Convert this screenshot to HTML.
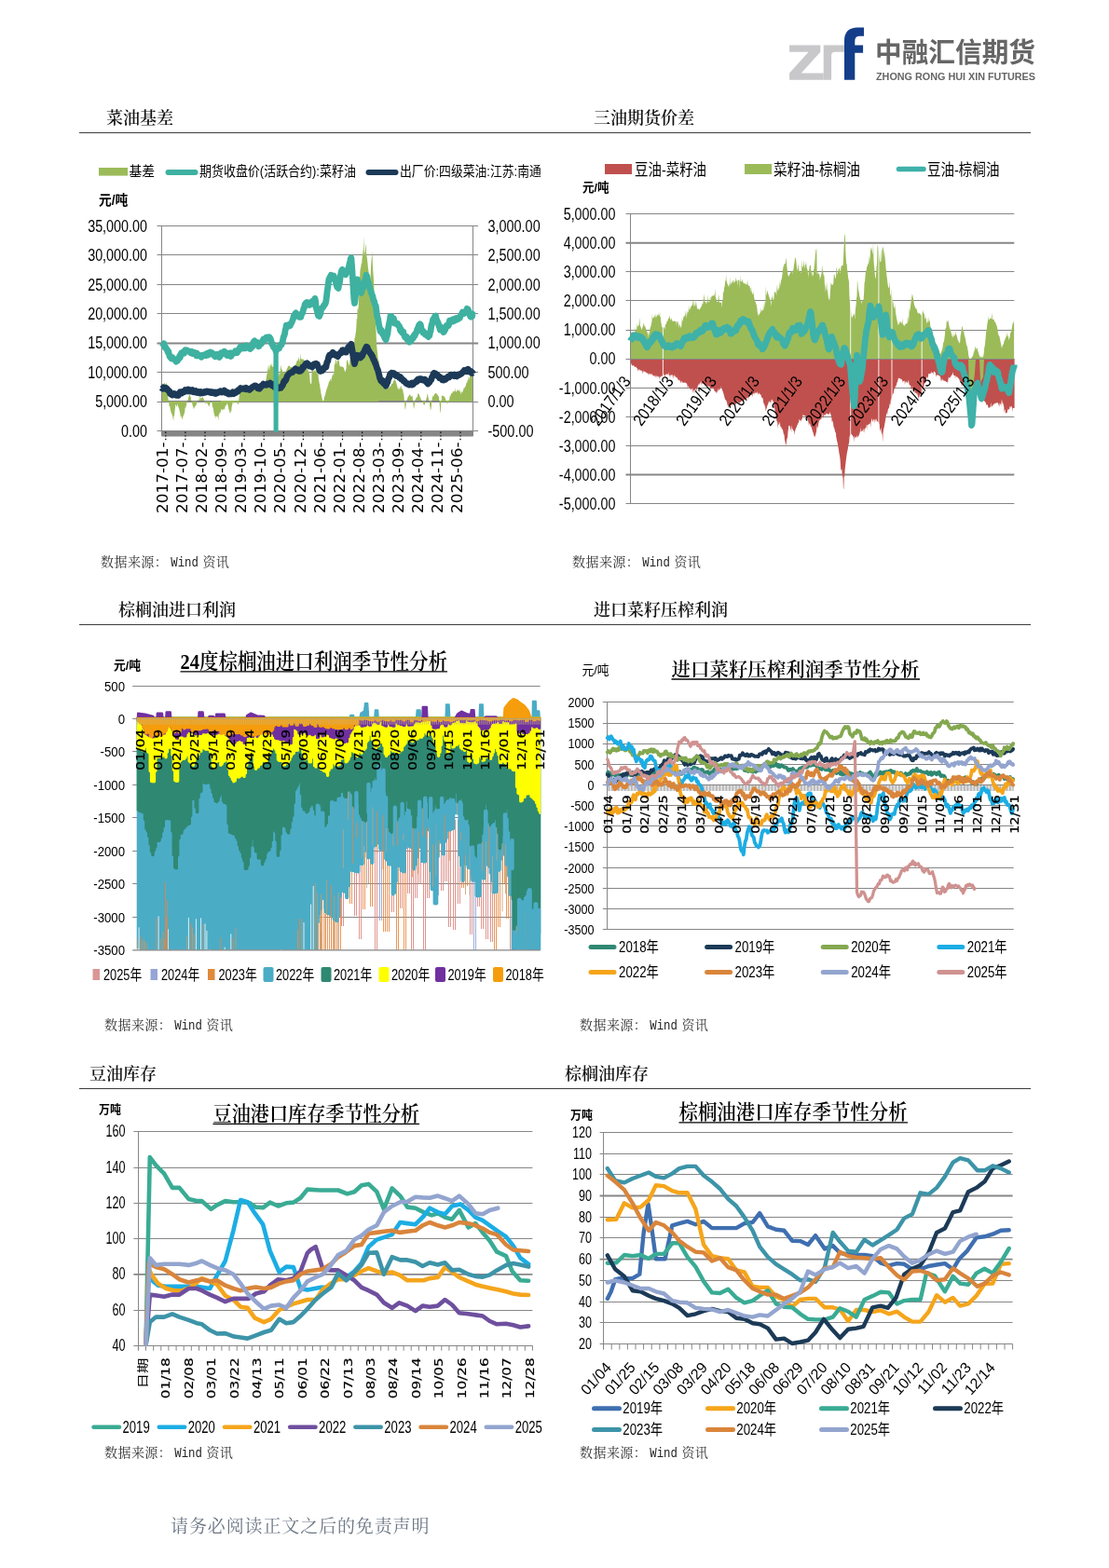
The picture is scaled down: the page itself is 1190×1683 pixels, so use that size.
<!DOCTYPE html>
<html lang="zh-CN"><head><meta charset="utf-8"><title>油脂图表</title>
<style>
html,body{margin:0;padding:0;background:#fff}
#page{position:relative;width:1190px;height:1683px;overflow:hidden;background:#fff;font-family:"Liberation Serif","Noto Serif CJK SC",serif;color:#000}
#charts{position:absolute;left:0;top:0}
.s{font-family:"Liberation Sans","Noto Sans CJK SC",sans-serif}
.f{font-family:"Liberation Serif","Noto Serif CJK SC",serif}
.d{font-family:"DejaVu Sans","Liberation Sans","Noto Sans CJK SC",sans-serif}
.sec{position:absolute;font-size:18px;line-height:22px;white-space:nowrap;font-weight:600;color:#111}
.rule{position:absolute;height:1.2px;background:#3c3c3c}
.src{position:absolute;font-size:14.05px;line-height:18px;white-space:nowrap;color:#333;letter-spacing:0.4px}
.src .w{font-family:"Liberation Mono",monospace;font-size:12.4px;letter-spacing:0;color:#222;display:inline-block;transform:scale(1,1.12);transform-origin:50% 80%;margin-left:3px;margin-right:0.5px}
.foot{position:absolute;left:183px;top:1625.5px;font-size:19px;line-height:26px;color:#6b7684;letter-spacing:0.88px;white-space:nowrap}
.logo{position:absolute;left:0;top:0}
</style></head><body>
<div id="page">
<svg class="logo" width="1190" height="100" viewBox="0 0 1190 100">
<path d="M847.1 48.4 H880.3 V55.8 L859.8 78.6 H883.7 V85.8 H847.1 V78.6 L867.6 55.8 H847.1 Z" fill="#c8c8ca"/>
<path d="M883.7 48.4 H906.4 V55.8 H896 Q892.1 55.8 892.1 60 V85.8 H883.7 Z" fill="#c8c8ca"/>
<path d="M906 85.8 V44 Q906 29.6 920.5 29.6 H927 V38.7 H922.5 Q917.3 38.7 917.3 44 V48.4 H926.1 V56.8 H917.3 V85.8 Z" fill="#153e8a"/>
<text class="s" x="939" y="67" font-size="29" font-weight="bold" fill="#666" textLength="172" lengthAdjust="spacingAndGlyphs">中融汇信期货</text>
<text class="s" x="940" y="86" font-size="11.5" font-weight="bold" fill="#666" textLength="171" lengthAdjust="spacingAndGlyphs">ZHONG RONG HUI XIN FUTURES</text>
</svg>
<div class="sec" style="left:114px;top:116px">菜油基差</div>
<div class="sec" style="left:637px;top:116px">三油期货价差</div>
<div class="sec" style="left:127px;top:644px">棕榈油进口利润</div>
<div class="sec" style="left:637px;top:644px">进口菜籽压榨利润</div>
<div class="sec" style="left:96px;top:1142px">豆油库存</div>
<div class="sec" style="left:606px;top:1142px">棕榈油库存</div>
<div class="rule" style="left:85px;top:141.5px;width:1021px"></div>
<div class="rule" style="left:85px;top:669.5px;width:1021px"></div>
<div class="rule" style="left:85px;top:1167.5px;width:1021px"></div>
<div class="src" style="left:108px;top:594px">数据来源：<span class="w">Wind</span> 资讯</div>
<div class="src" style="left:614px;top:594px">数据来源：<span class="w">Wind</span> 资讯</div>
<div class="src" style="left:112px;top:1091px">数据来源：<span class="w">Wind</span> 资讯</div>
<div class="src" style="left:622px;top:1091px">数据来源：<span class="w">Wind</span> 资讯</div>
<div class="src" style="left:112px;top:1550px">数据来源：<span class="w">Wind</span> 资讯</div>
<div class="src" style="left:622px;top:1550px">数据来源：<span class="w">Wind</span> 资讯</div>
<div class="foot">请务必阅读正文之后的免责声明</div>
<svg id="charts" width="1190" height="1683" viewBox="0 0 1190 1683">
<g><path d="M168.5 242.5 H513.1" stroke="#868686" stroke-width="1" fill="none"/>
<path d="M168.5 273.5 H513.1" stroke="#868686" stroke-width="1" fill="none"/>
<path d="M168.5 305.5 H513.1" stroke="#868686" stroke-width="1" fill="none"/>
<path d="M168.5 336.5 H513.1" stroke="#868686" stroke-width="1" fill="none"/>
<path d="M168.5 368.5 H513.1" stroke="#868686" stroke-width="1.8" fill="none"/>
<path d="M168.5 399.5 H513.1" stroke="#868686" stroke-width="1" fill="none"/>
<path d="M168.5 431.5 H513.1" stroke="#868686" stroke-width="1" fill="none"/>
<path d="M168.5 462.5 H513.1" stroke="#868686" stroke-width="1" fill="none"/>
<path d="M173.5 430.8 L173.5 416.6 L174 416.4 L174.4 415.1 L174.9 413.5 L175.3 412.9 L175.8 411.4 L176.2 411.4 L176.7 410.8 L177.1 412.3 L177.6 412.5 L178 412.2 L178.5 410.6 L178.9 412.8 L179.4 413.2 L179.8 417.9 L180.3 426.5 L180.7 429 L181.2 432.3 L181.6 436.4 L182.1 435.6 L182.5 437.4 L183 440.3 L183.4 441.8 L183.9 443.7 L184.3 443.8 L184.8 445.7 L185.2 446.8 L185.7 449.5 L186.1 452.2 L186.6 445.6 L187 446.9 L187.5 441 L187.9 438.6 L188.4 433.7 L188.8 434.6 L189.3 436.3 L189.7 436.5 L190.2 435 L190.6 432.9 L191.1 436.3 L191.5 437.1 L192 438.3 L192.4 439.7 L192.9 442.1 L193.3 443.4 L193.8 448.5 L194.2 445.8 L194.7 447.7 L195.1 448.2 L195.6 450.3 L196 449.9 L196.5 446.3 L196.9 446.4 L197.4 444.6 L197.8 444.1 L198.3 441.8 L198.7 437 L199.2 438.4 L199.6 436.4 L200.1 434.2 L200.5 431.9 L201 431.2 L201.4 429.7 L201.9 428.3 L202.3 425.9 L202.8 425.3 L203.2 423.1 L203.7 423.5 L204.1 425 L204.6 426.1 L205 428.6 L205.5 430.6 L205.9 432.5 L206.4 433.5 L206.8 435.7 L207.3 436.8 L207.7 438.9 L208.2 438.5 L208.6 437.6 L209.1 435.9 L209.5 436.3 L210 435.6 L210.4 434.9 L210.9 433.7 L211.3 432.1 L211.8 430.8 L212.2 428.9 L212.7 430.1 L213.1 430.2 L213.6 428.8 L214 424.3 L214.5 427.5 L214.9 429.6 L215.4 426.7 L215.8 427 L216.3 427.2 L216.7 426.8 L217.2 426 L217.6 426.2 L218.1 427.7 L218.5 428.2 L219 428.5 L219.4 431.8 L219.9 431.4 L220.3 434.2 L220.8 431.7 L221.2 430.7 L221.7 433.7 L222.1 432.5 L222.6 433 L223 434.1 L223.5 434.8 L223.9 435.6 L224.4 436.8 L224.8 434.9 L225.3 433.8 L225.7 431.9 L226.2 431.1 L226.6 430.6 L227.1 431.6 L227.5 432.6 L228 436.4 L228.4 437.4 L228.9 439.1 L229.3 441.9 L229.8 444.1 L230.2 447.4 L230.7 445.1 L231.1 449.9 L231.6 446.5 L232 446.5 L232.5 446.4 L232.9 447.6 L233.4 447.1 L233.8 447.9 L234.3 451.7 L234.7 445.9 L235.2 441.7 L235.6 445.4 L236.1 443.4 L236.5 442.8 L237 441.6 L237.4 438.5 L237.9 439.6 L238.3 439.9 L238.8 440.2 L239.2 439.3 L239.7 439.7 L240.1 438.6 L240.6 439.2 L241 440 L241.5 437.3 L241.9 435.6 L242.4 435.2 L242.8 435.1 L243.3 434.2 L243.7 432.6 L244.2 433.6 L244.6 435.2 L245.1 437 L245.5 439.4 L246 440.5 L246.4 442.6 L246.9 443.5 L247.3 443.6 L247.8 440.6 L248.2 442.1 L248.7 436.1 L249.1 435 L249.6 432.3 L250 431.9 L250.5 432.9 L250.9 431.3 L251.4 431.5 L251.8 433.2 L252.3 431.1 L252.7 432.6 L253.2 429.9 L253.6 430.8 L254.1 431.8 L254.5 432.6 L255 434 L255.4 433.7 L255.9 433.7 L256.3 428.2 L256.8 424.6 L257.2 419.5 L257.7 414.1 L258.1 416.1 L258.6 414.8 L259 416 L259.5 416.3 L259.9 416.5 L260.4 417.5 L260.8 415.3 L261.3 411.8 L261.7 413.9 L262.2 415.9 L262.6 413.3 L263.1 414.8 L263.5 416.2 L264 417.1 L264.4 416.9 L264.9 417.2 L265.3 421.6 L265.8 418.4 L266.2 418.5 L266.7 418.6 L267.1 418.2 L267.6 418 L268 416.8 L268.5 416.1 L268.9 417.1 L269.4 416.3 L269.8 418.8 L270.3 416.4 L270.7 416 L271.2 416.1 L271.6 416.3 L272.1 415.1 L272.5 416.8 L273 413.7 L273.4 418.3 L273.9 415.4 L274.3 416.5 L274.8 417.1 L275.2 414.7 L275.7 412.4 L276.1 416.1 L276.6 415.6 L277 411.4 L277.5 416.2 L277.9 416.6 L278.4 416.2 L278.8 419.1 L279.3 415.4 L279.7 411.8 L280.2 415.4 L280.6 410.8 L281.1 412 L281.5 415.8 L282 418 L282.4 416.5 L282.9 415.6 L283.3 415.7 L283.8 414.4 L284.2 414.2 L284.7 410.4 L285.1 409.7 L285.6 406.5 L286 403.8 L286.5 401.3 L286.9 400.4 L287.4 391.5 L287.8 396.6 L288.3 398 L288.7 392.8 L289.2 391.3 L289.6 397 L290.1 392.2 L290.5 390.7 L291 392.8 L291.4 393 L291.9 389.1 L292.3 394 L292.8 393.8 L293.2 393.2 L293.7 393.7 L294.1 386.8 L294.6 392.9 L295 392.2 L295.5 392.9 L295.9 394.8 L296.4 400.2 L296.8 399.7 L297.3 401.1 L297.7 402 L298.2 400.6 L298.6 404.7 L299.1 403.2 L299.5 397.5 L300 403 L300.4 399.3 L300.9 397.4 L301.3 391.3 L301.8 394.7 L302.2 396.4 L302.7 396.8 L303.1 398.8 L303.6 399 L304 399.2 L304.5 399.9 L304.9 400.8 L305.4 400 L305.8 400 L306.3 399.6 L306.7 397.8 L307.2 397.7 L307.6 396.5 L308.1 395.6 L308.5 394.8 L309 392.9 L309.4 392.6 L309.9 393.3 L310.3 392.5 L310.8 392.3 L311.2 393.8 L311.7 393.9 L312.1 394.3 L312.6 393.9 L313 394.4 L313.5 394.5 L313.9 394.9 L314.4 394.7 L314.8 395.1 L315.3 394.9 L315.7 394.5 L316.2 393.5 L316.6 392.7 L317.1 391.5 L317.5 390.1 L318 390.5 L318.4 386.5 L318.9 387.9 L319.3 386.9 L319.8 386.7 L320.2 382.8 L320.7 385.8 L321.1 384.3 L321.6 389.2 L322 386 L322.5 379.2 L322.9 384.9 L323.4 385.7 L323.8 385.1 L324.3 385.8 L324.7 385.5 L325.2 385.3 L325.6 385.9 L326.1 385.8 L326.5 393.7 L327 388 L327.4 388.9 L327.9 390.4 L328.3 390.8 L328.8 397.1 L329.2 393 L329.7 397.8 L330.1 395.8 L330.6 396.5 L331 399 L331.5 399.8 L331.9 400.3 L332.4 405.3 L332.8 410.2 L333.3 411.9 L333.7 411.9 L334.2 411.4 L334.6 394 L335.1 389.7 L335.5 396.5 L336 397.3 L336.4 398.9 L336.9 397.2 L337.3 398 L337.8 397.7 L338.2 396.8 L338.7 400.4 L339.1 390.9 L339.6 395.7 L340 399.1 L340.5 401.4 L340.9 401.1 L341.4 399.2 L341.8 406 L342.3 409 L342.7 411.4 L343.2 413.3 L343.6 416.9 L344.1 419 L344.5 422.5 L345 424.4 L345.4 426.4 L345.9 428.8 L346.3 431.8 L346.8 431.5 L347.2 430.5 L347.7 428.3 L348.1 425.8 L348.6 425 L349 423.9 L349.5 421.3 L349.9 420.1 L350.4 418 L350.8 416.8 L351.3 416.1 L351.7 413.8 L352.2 413.2 L352.6 411.2 L353.1 409.2 L353.5 409.6 L354 408.9 L354.4 407.3 L354.9 406.7 L355.3 405.5 L355.8 410 L356.2 404.2 L356.7 402.8 L357.1 401.8 L357.6 400.8 L358 403.9 L358.5 397.5 L358.9 389.1 L359.4 392.1 L359.8 389.4 L360.3 385 L360.7 386.5 L361.2 388 L361.6 391.4 L362.1 387.3 L362.5 386.8 L363 383.4 L363.4 387.7 L363.9 386.9 L364.3 391.6 L364.8 393.4 L365.2 393.5 L365.7 393.1 L366.1 393.6 L366.6 393.4 L367 393.6 L367.5 393.6 L367.9 393.9 L368.4 394.2 L368.8 394.8 L369.3 396.6 L369.7 397.5 L370.2 399.4 L370.6 398.9 L371.1 396.2 L371.5 396.4 L372 387.1 L372.4 387.1 L372.9 386 L373.3 389 L373.8 389.3 L374.2 391.4 L374.7 392.8 L375.1 389.8 L375.6 385.2 L376 381.5 L376.5 376.8 L376.9 372.5 L377.4 371.3 L377.8 371.6 L378.3 371.5 L378.7 370.4 L379.2 369.7 L379.6 372.8 L380.1 368.2 L380.5 363.1 L381 362.7 L381.4 359 L381.9 356 L382.3 351.6 L382.8 341.6 L383.2 343.1 L383.7 328.9 L384.1 333.5 L384.6 330.1 L385 320.4 L385.5 311.9 L385.9 303.9 L386.4 290.8 L386.8 288.6 L387.3 286.2 L387.7 283.1 L388.2 282.8 L388.6 277.4 L389.1 273.5 L389.5 269.7 L390 267 L390.4 253.4 L390.9 274.7 L391.3 271.8 L391.8 269.6 L392.2 264.5 L392.7 261.4 L393.1 271.6 L393.6 275.3 L394 278.3 L394.5 282.6 L394.9 286.8 L395.4 290.7 L395.8 295.1 L396.3 298.8 L396.7 301.9 L397.2 305.5 L397.6 297.5 L398.1 285.7 L398.5 279.6 L399 274.2 L399.4 269.6 L399.9 285.2 L400.3 291.1 L400.8 297.8 L401.2 304.7 L401.7 315.2 L402.1 325.7 L402.6 337.2 L403 348.4 L403.5 354.1 L403.9 365.6 L404.4 373.3 L404.8 376.8 L405.3 381.2 L405.7 385.6 L406.2 388 L406.6 385.5 L407.1 394.2 L407.5 396.8 L408 398 L408.4 399.7 L408.9 401.2 L409.3 404 L409.8 398.5 L410.2 406.6 L410.7 409 L411.1 407.4 L411.6 409.3 L412 409.6 L412.5 409.1 L412.9 410.4 L413.4 412.5 L413.8 413.2 L414.3 413.6 L414.7 414.6 L415.2 414.1 L415.6 414.7 L416.1 414.1 L416.5 416.6 L417 416.9 L417.4 416.3 L417.9 415.7 L418.3 415.1 L418.8 415.1 L419.2 414.6 L419.7 413.4 L420.1 412.3 L420.6 411.8 L421 411.9 L421.5 411.5 L421.9 409.5 L422.4 409.1 L422.8 407.5 L423.3 407.8 L423.7 407 L424.2 408.3 L424.6 409.1 L425.1 410.4 L425.5 412 L426 413.5 L426.4 414.9 L426.9 417.7 L427.3 417.6 L427.8 416.3 L428.2 416.4 L428.7 419.3 L429.1 413.9 L429.6 416.2 L430 418.2 L430.5 414.3 L430.9 414.6 L431.4 417.4 L431.8 417.8 L432.3 418.6 L432.7 421.8 L433.2 422.8 L433.6 427 L434.1 432.5 L434.5 438.1 L435 440.2 L435.4 436.6 L435.9 432.3 L436.3 429 L436.8 430 L437.2 426.9 L437.7 426.5 L438.1 425.3 L438.6 425.3 L439 424.2 L439.5 423.4 L439.9 423.3 L440.4 424.4 L440.8 425 L441.3 425.8 L441.7 425.6 L442.2 425.2 L442.6 424.2 L443.1 431 L443.5 434.6 L444 439 L444.4 437.8 L444.9 434.1 L445.3 429.9 L445.8 428.5 L446.2 428.2 L446.7 426.4 L447.1 425.8 L447.6 427.1 L448 425 L448.5 422.1 L448.9 422.5 L449.4 422.7 L449.8 423.4 L450.3 425.4 L450.7 425.8 L451.2 427.2 L451.6 428.4 L452.1 429.1 L452.5 429.5 L453 432.1 L453.4 431.8 L453.9 432.5 L454.3 433.5 L454.8 434.6 L455.2 434.3 L455.7 435 L456.1 432.7 L456.6 432.2 L457 429.7 L457.5 428.1 L457.9 426.5 L458.4 423.3 L458.8 422.5 L459.3 425.3 L459.7 427 L460.2 429.7 L460.6 429.9 L461.1 434.3 L461.5 437.5 L462 440.5 L462.4 439.6 L462.9 436.1 L463.3 430.8 L463.8 427 L464.2 425.9 L464.7 423.9 L465.1 426.1 L465.6 424.5 L466 423.3 L466.5 422.6 L466.9 422.7 L467.4 421.7 L467.8 421.9 L468.3 423.1 L468.7 422.6 L469.2 423.6 L469.6 423.7 L470.1 424.9 L470.5 425.1 L471 426.3 L471.4 431 L471.9 436.4 L472.3 441.7 L472.8 443.5 L473.2 433.5 L473.7 429.4 L474.1 424.6 L474.6 424.4 L475 425.1 L475.5 424.6 L475.9 425.2 L476.4 425.5 L476.8 425.5 L477.3 426.2 L477.7 427.2 L478.2 428.9 L478.6 429.8 L479.1 430 L479.5 431.2 L480 434.2 L480.4 432.6 L480.9 432.4 L481.3 430.9 L481.8 428.9 L482.2 429.1 L482.7 424.5 L483.1 425.9 L483.6 423.9 L484 422.8 L484.5 422 L484.9 421.7 L485.4 422.2 L485.8 420.3 L486.3 419.4 L486.7 420.7 L487.2 419.6 L487.6 420.3 L488.1 420.2 L488.5 416.2 L489 420 L489.4 419.9 L489.9 421.2 L490.3 419.3 L490.8 418.3 L491.2 418.5 L491.7 418.8 L492.1 418.5 L492.6 420 L493 419.7 L493.5 420.8 L493.9 416.7 L494.4 424 L494.8 421.4 L495.3 421.4 L495.7 420.4 L496.2 418.9 L496.6 421.8 L497.1 418.2 L497.5 417.5 L498 415.4 L498.4 417.1 L498.9 415.3 L499.3 415.1 L499.8 414 L500.2 412.1 L500.7 410.3 L501.1 411.3 L501.6 408.1 L502 409.5 L502.5 403 L502.9 407.2 L503.4 407 L503.8 405.3 L504.3 403 L504.7 403.2 L505.2 402.6 L505.6 402.6 L506.1 402.9 L506.5 395.4 L507 401.8 L507.4 401 L507.6 401.4 L507.6 430.8 Z" fill="#9bbb59"/>
<path d="M173.5 430.5 H507.6" stroke="#9bbb59" stroke-width="1" fill="none"/>
<path d="M181 430.5 H237 M406 430.5 H472" stroke="#868686" stroke-width="1" fill="none"/>
<rect x="173.5" y="462" width="334.1" height="6.5" fill="#868686"/>
<path d="M173.5 242.5 V468 M507.5 242.5 V468" stroke="#868686" stroke-width="1" fill="none"/>
<defs><clipPath id="c1clip"><rect x="165" y="235" width="350" height="229"/></clipPath></defs>
<path d="M173.5 416.1 L174.1 416.9 L174.7 417.2 L175.3 415.9 L175.9 417.1 L176.5 417 L177.1 417 L177.7 417.5 L178.3 416.4 L178.9 417.5 L179.5 417.4 L180.1 418.5 L180.7 419.3 L181.3 420.2 L181.9 419.8 L182.5 422.4 L183.1 422.9 L183.7 423.3 L184.3 423.5 L184.9 424.1 L185.5 423.8 L186.1 423.3 L186.7 422.7 L187.3 423.5 L187.9 423.2 L188.5 423 L189.1 424.2 L189.7 423.7 L190.3 423.2 L190.9 423.5 L191.5 424.4 L192.1 423 L192.7 422.3 L193.3 420.7 L193.9 421.6 L194.5 421 L195.1 422 L195.7 420.6 L196.3 421 L196.9 420.2 L197.5 420.7 L198.1 419.9 L198.7 418.6 L199.3 419.9 L199.9 419.8 L200.5 419.2 L201.1 418.7 L201.7 418.2 L202.3 419.9 L202.9 418.2 L203.5 419.7 L204.1 419 L204.7 419.9 L205.3 419.3 L205.9 419.5 L206.5 418.6 L207.1 419.1 L207.7 420.8 L208.3 420.8 L208.9 419.7 L209.5 420 L210.1 419.6 L210.7 421.3 L211.3 421.4 L211.9 421.5 L212.5 420.8 L213.1 420.5 L213.7 421.6 L214.3 422 L214.9 421.4 L215.5 420.7 L216.1 422 L216.7 421.6 L217.3 421.8 L217.9 421.9 L218.5 421.4 L219.1 420.6 L219.7 421.3 L220.3 421.2 L220.9 420.9 L221.5 420 L222.1 420 L222.7 420.4 L223.3 420.7 L223.9 420.2 L224.5 420.8 L225.1 420.5 L225.7 420.7 L226.3 421.5 L226.9 420.7 L227.5 420.6 L228.1 421 L228.7 421.6 L229.3 421.1 L229.9 422 L230.5 421.9 L231.1 422.5 L231.7 422.6 L232.3 421.1 L232.9 422 L233.5 421.7 L234.1 421.1 L234.7 421.2 L235.3 420.4 L235.9 420.4 L236.5 419.9 L237.1 420.5 L237.7 421.1 L238.3 421.1 L238.9 419.8 L239.5 419.7 L240.1 420 L240.7 419.1 L241.3 419.8 L241.9 420.5 L242.5 421.6 L243.1 421.4 L243.7 422.1 L244.3 421.1 L244.9 421.8 L245.5 423 L246.1 422.1 L246.7 422.1 L247.3 422 L247.9 421.7 L248.5 422.8 L249.1 421.7 L249.7 420.9 L250.3 421.7 L250.9 422.7 L251.5 421.4 L252.1 421.9 L252.7 420.9 L253.3 421.4 L253.9 420.5 L254.5 419.8 L255.1 419.1 L255.7 419.9 L256.3 418.3 L256.9 418.3 L257.5 417.5 L258.1 416.6 L258.7 417.2 L259.3 417.1 L259.9 417.4 L260.5 416.9 L261.1 417.4 L261.7 417.2 L262.3 417.1 L262.9 416.9 L263.5 417.6 L264.1 416.4 L264.7 417.6 L265.3 417.8 L265.9 417.4 L266.5 417.3 L267.1 417.9 L267.7 418.3 L268.3 417.1 L268.9 417 L269.5 417 L270.1 416 L270.7 415.6 L271.3 415.4 L271.9 414.9 L272.5 414.8 L273.1 414.1 L273.7 413.9 L274.3 414.1 L274.9 415 L275.5 415.6 L276.1 415.2 L276.7 416.8 L277.3 415.9 L277.9 416.5 L278.5 417.1 L279.1 415.7 L279.7 415.9 L280.3 414.6 L280.9 413.7 L281.5 413.5 L282.1 413.2 L282.7 412 L283.3 413.2 L283.9 412.9 L284.5 412.8 L285.1 413.1 L285.7 413.3 L286.3 412.7 L286.9 412.1 L287.5 412.6 L288.1 412.2 L288.7 411.7 L289.3 411.7 L289.9 411.1 L290.5 411.6 L291.1 412.3 L291.7 413.7 L292.3 413.4 L292.9 412.6 L293.5 413.7 L294.1 415.1 L294.7 415.6 L295.3 415.2 L295.9 414.1 L296.5 416.1 L297.1 415 L297.7 416.7 L298.3 416.4 L298.9 416.7 L299.5 416.2 L300.1 416.5 L300.7 416 L301.3 416.3 L301.9 415.4 L302.5 414.8 L303.1 413.8 L303.7 412.7 L304.3 410.4 L304.9 409.1 L305.5 409.5 L306.1 408 L306.7 408 L307.3 406.3 L307.9 404.6 L308.5 403.1 L309.1 402.4 L309.7 402 L310.3 401.3 L310.9 400.5 L311.5 400.2 L312.1 400 L312.7 399.8 L313.3 399.6 L313.9 399.7 L314.5 398.4 L315.1 397.9 L315.7 397.4 L316.3 396.4 L316.9 395.8 L317.5 397.2 L318.1 396.4 L318.7 396.6 L319.3 397.8 L319.9 396.8 L320.5 398.3 L321.1 397.9 L321.7 398 L322.3 398.3 L322.9 396.8 L323.5 397.5 L324.1 396 L324.7 394.3 L325.3 395 L325.9 394.2 L326.5 392.9 L327.1 392 L327.7 391.5 L328.3 390.2 L328.9 390.3 L329.5 389.9 L330.1 390.8 L330.7 390.9 L331.3 391.5 L331.9 392.9 L332.5 393.1 L333.1 392.9 L333.7 393.3 L334.3 393.5 L334.9 394 L335.5 392.4 L336.1 391.9 L336.7 390.9 L337.3 391.1 L337.9 391.2 L338.5 390.4 L339.1 390.2 L339.7 391.1 L340.3 390.9 L340.9 392.7 L341.5 393.9 L342.1 394.9 L342.7 396.6 L343.3 398.2 L343.9 398.5 L344.5 398.2 L345.1 397.9 L345.7 397.8 L346.3 397.3 L346.9 396.6 L347.5 395.2 L348.1 394.4 L348.7 394.7 L349.3 393.6 L349.9 393.9 L350.5 390.3 L351.1 388.3 L351.7 387.8 L352.3 384.8 L352.9 382.7 L353.5 381.3 L354.1 382 L354.7 380.7 L355.3 380.2 L355.9 380.2 L356.5 380.5 L357.1 378.3 L357.7 379.3 L358.3 379.4 L358.9 380.8 L359.5 381.2 L360.1 380.4 L360.7 381.7 L361.3 382 L361.9 381.4 L362.5 382.6 L363.1 381.4 L363.7 380.3 L364.3 380 L364.9 379.4 L365.5 378.2 L366.1 378.9 L366.7 377.9 L367.3 376.1 L367.9 377.1 L368.5 375.9 L369.1 376.3 L369.7 376.6 L370.3 377.3 L370.9 378.2 L371.5 378.2 L372.1 375.8 L372.7 375.6 L373.3 373.9 L373.9 372.3 L374.5 371.8 L375.1 371.5 L375.7 370.9 L376.3 370.5 L376.9 369.3 L377.5 373 L378.1 376.6 L378.7 381 L379.3 384.2 L379.9 388.2 L380.5 390.6 L381.1 388.2 L381.7 386.5 L382.3 384.1 L382.9 382.8 L383.5 381.3 L384.1 381.6 L384.7 382 L385.3 381.7 L385.9 382.6 L386.5 384.1 L387.1 383.5 L387.7 382.6 L388.3 382.6 L388.9 381.5 L389.5 379.2 L390.1 378.8 L390.7 377.5 L391.3 376.4 L391.9 374.6 L392.5 374.4 L393.1 372.2 L393.7 372.3 L394.3 373.1 L394.9 375.3 L395.5 375.9 L396.1 376.9 L396.7 378.1 L397.3 379 L397.9 380.1 L398.5 380.3 L399.1 382.3 L399.7 382.5 L400.3 384.7 L400.9 386.4 L401.5 386.5 L402.1 389.1 L402.7 389.8 L403.3 391.5 L403.9 392.9 L404.5 395.3 L405.1 396.3 L405.7 397.9 L406.3 400.6 L406.9 402.7 L407.5 405.6 L408.1 407 L408.7 408.6 L409.3 409.3 L409.9 408.1 L410.5 408.5 L411.1 409.8 L411.7 411.5 L412.3 411.2 L412.9 412.3 L413.5 413 L414.1 414.1 L414.7 413 L415.3 410.9 L415.9 410.3 L416.5 407.2 L417.1 405.8 L417.7 405.2 L418.3 402.3 L418.9 401.2 L419.5 401 L420.1 400.4 L420.7 401.5 L421.3 400.8 L421.9 401.2 L422.5 400.5 L423.1 400.9 L423.7 402.4 L424.3 403.1 L424.9 402.1 L425.5 402.6 L426.1 403.7 L426.7 403.1 L427.3 403.8 L427.9 403.9 L428.5 405.3 L429.1 405.1 L429.7 404.8 L430.3 406.7 L430.9 406.2 L431.5 407.4 L432.1 407.5 L432.7 408.6 L433.3 408.3 L433.9 408.9 L434.5 409.6 L435.1 410.8 L435.7 411.1 L436.3 411.8 L436.9 411.5 L437.5 412.3 L438.1 412.6 L438.7 412.8 L439.3 413.1 L439.9 412.9 L440.5 412.5 L441.1 411.6 L441.7 413 L442.3 411.1 L442.9 412.8 L443.5 411.4 L444.1 411.8 L444.7 411 L445.3 410.4 L445.9 410.1 L446.5 409.7 L447.1 408.5 L447.7 409.3 L448.3 407.3 L448.9 407.6 L449.5 407.1 L450.1 407.5 L450.7 406.7 L451.3 406.6 L451.9 406.7 L452.5 407.6 L453.1 407.2 L453.7 407.1 L454.3 408.1 L454.9 407.4 L455.5 407.2 L456.1 407.3 L456.7 408.3 L457.3 409.9 L457.9 409.6 L458.5 411 L459.1 412 L459.7 410.7 L460.3 410.8 L460.9 410.3 L461.5 408.7 L462.1 408.1 L462.7 407.6 L463.3 405.2 L463.9 404.6 L464.5 403.1 L465.1 401.1 L465.7 400.4 L466.3 400.5 L466.9 400.8 L467.5 401.1 L468.1 402.6 L468.7 402.8 L469.3 402.4 L469.9 403.9 L470.5 404.6 L471.1 404.1 L471.7 405.8 L472.3 404.7 L472.9 406.3 L473.5 406.4 L474.1 406.7 L474.7 407.8 L475.3 407.5 L475.9 408.1 L476.5 408 L477.1 406.2 L477.7 406.8 L478.3 407.2 L478.9 406 L479.5 405.5 L480.1 405.6 L480.7 404.3 L481.3 405 L481.9 405 L482.5 403.4 L483.1 403.8 L483.7 402.2 L484.3 402.2 L484.9 403 L485.5 402.7 L486.1 402.6 L486.7 402.9 L487.3 403.6 L487.9 402.1 L488.5 402.6 L489.1 403.2 L489.7 403 L490.3 403.8 L490.9 402.1 L491.5 402 L492.1 402.3 L492.7 402.5 L493.3 401.9 L493.9 401.9 L494.5 401 L495.1 401.1 L495.7 400.5 L496.3 399.7 L496.9 399.3 L497.5 398.9 L498.1 397.6 L498.7 398.3 L499.3 398.1 L499.9 397.4 L500.5 398.6 L501.1 398.2 L501.7 397 L502.3 396.3 L502.9 397.3 L503.5 397.4 L504.1 399.2 L504.7 398.2 L505.3 398.9 L505.9 399.1 L506.5 400.6 L507.1 400.1 L507.6 401.3" stroke="#1c3a57" stroke-width="6.8" fill="none" stroke-linejoin="round"/>
<path d="M173.5 368 L174.1 368.6 L174.7 368.7 L175.3 369.6 L175.9 368.8 L176.5 371.7 L177.1 372.9 L177.7 372.7 L178.3 374.6 L178.9 375.2 L179.5 375.3 L180.1 377.9 L180.7 377 L181.3 379.9 L181.9 382.1 L182.5 383.4 L183.1 383.6 L183.7 384.7 L184.3 384.3 L184.9 383.5 L185.5 385.4 L186.1 385.3 L186.7 385.4 L187.3 385.4 L187.9 386.5 L188.5 387.2 L189.1 388.2 L189.7 386 L190.3 387.4 L190.9 386.3 L191.5 384.7 L192.1 384.9 L192.7 381.9 L193.3 383.7 L193.9 381.1 L194.5 379 L195.1 379.2 L195.7 378.3 L196.3 377.8 L196.9 378 L197.5 379.2 L198.1 378.2 L198.7 375.6 L199.3 375.8 L199.9 375.8 L200.5 375.9 L201.1 376.3 L201.7 376.5 L202.3 377 L202.9 377.2 L203.5 377.7 L204.1 377.9 L204.7 378.8 L205.3 378.8 L205.9 377.3 L206.5 379.4 L207.1 378.4 L207.7 379.3 L208.3 378.3 L208.9 378.3 L209.5 379.9 L210.1 380.3 L210.7 381.7 L211.3 379.1 L211.9 381.9 L212.5 380.6 L213.1 381.1 L213.7 381.1 L214.3 381.8 L214.9 381.4 L215.5 382 L216.1 383.3 L216.7 381.4 L217.3 382.1 L217.9 381.2 L218.5 381 L219.1 380.7 L219.7 381.6 L220.3 381.5 L220.9 381.3 L221.5 381.5 L222.1 379.4 L222.7 379.3 L223.3 381.1 L223.9 378.6 L224.5 380 L225.1 379.7 L225.7 378 L226.3 378.6 L226.9 378.5 L227.5 378.6 L228.1 379.5 L228.7 379.7 L229.3 381.4 L229.9 381.2 L230.5 381.1 L231.1 382.8 L231.7 382.3 L232.3 381.2 L232.9 380.2 L233.5 380.9 L234.1 381 L234.7 382.8 L235.3 383.4 L235.9 382.8 L236.5 380.7 L237.1 378.7 L237.7 379.6 L238.3 380 L238.9 378.9 L239.5 379 L240.1 378.8 L240.7 377.2 L241.3 379.1 L241.9 378.5 L242.5 380.3 L243.1 379.6 L243.7 381.5 L244.3 379 L244.9 379.4 L245.5 379.7 L246.1 380 L246.7 379.3 L247.3 378.9 L247.9 382.5 L248.5 380.6 L249.1 379.7 L249.7 380 L250.3 379.6 L250.9 378.5 L251.5 378 L252.1 378.5 L252.7 376.7 L253.3 377.4 L253.9 377.7 L254.5 378.5 L255.1 377 L255.7 376.7 L256.3 375.7 L256.9 374 L257.5 374.3 L258.1 371.9 L258.7 372.3 L259.3 372.2 L259.9 374 L260.5 372.3 L261.1 372.1 L261.7 373.2 L262.3 373.7 L262.9 373.9 L263.5 372.7 L264.1 370.9 L264.7 372.1 L265.3 371.4 L265.9 373.2 L266.5 373.3 L267.1 372.9 L267.7 374.1 L268.3 374.5 L268.9 373 L269.5 373.2 L270.1 371.6 L270.7 372.4 L271.3 368.7 L271.9 369.1 L272.5 366.3 L273.1 365.9 L273.7 366.6 L274.3 366.8 L274.9 367.2 L275.5 367.1 L276.1 369.3 L276.7 369.9 L277.3 371.8 L277.9 371.6 L278.5 370.8 L279.1 370 L279.7 369.1 L280.3 369.1 L280.9 368.4 L281.5 366 L282.1 365.4 L282.7 364.1 L283.3 365.9 L283.9 364.7 L284.5 364.7 L285.1 363.7 L285.7 362.3 L286.3 363 L286.9 362 L287.5 362.5 L288.1 362.2 L288.7 361.7 L289.3 362.2 L289.9 363 L290.5 364.7 L291.1 366.5 L291.7 369.4 L292.3 369 L292.9 370.6 L293.5 372.8 L294.1 373.1 L294.7 372.9 L295.3 374.1 L295.9 376.8 L296.5 376.4 L297.1 374.8 L297.7 374.6 L298.3 374.6 L298.9 373.1 L299.5 374 L300.1 371.3 L300.7 371 L301.3 369.9 L301.9 370.3 L302.5 368.7 L303.1 367.4 L303.7 364.3 L304.3 361.5 L304.9 360.4 L305.5 358.6 L306.1 354.6 L306.7 352.4 L307.3 349.2 L307.9 350.3 L308.5 348.9 L309.1 349 L309.7 350.1 L310.3 348.9 L310.9 349.9 L311.5 349.3 L312.1 347.1 L312.7 346.7 L313.3 345.5 L313.9 343.9 L314.5 342.5 L315.1 339.7 L315.7 338.3 L316.3 337.6 L316.9 336.4 L317.5 335.8 L318.1 336.7 L318.7 337.4 L319.3 338.7 L319.9 338.6 L320.5 340 L321.1 340.3 L321.7 338.8 L322.3 338.6 L322.9 340.3 L323.5 336.8 L324.1 336.4 L324.7 335.9 L325.3 333.1 L325.9 331 L326.5 330.1 L327.1 327 L327.7 325.9 L328.3 326.6 L328.9 324.6 L329.5 324.5 L330.1 325.8 L330.7 325.2 L331.3 326.6 L331.9 327.3 L332.5 326.2 L333.1 326.8 L333.7 326.7 L334.3 325.2 L334.9 323.4 L335.5 323.4 L336.1 324 L336.7 322.6 L337.3 322.9 L337.9 320.4 L338.5 322.9 L339.1 328.7 L339.7 331.9 L340.3 333.6 L340.9 336.7 L341.5 339 L342.1 339.1 L342.7 339.4 L343.3 337.6 L343.9 336.5 L344.5 332.9 L345.1 331.1 L345.7 330.2 L346.3 330.3 L346.9 329.5 L347.5 327.7 L348.1 327.5 L348.7 326.6 L349.3 325.4 L349.9 322.9 L350.5 318.2 L351.1 312.5 L351.7 309.1 L352.3 304.7 L352.9 299.6 L353.5 298.9 L354.1 297.2 L354.7 297.2 L355.3 295.3 L355.9 296.2 L356.5 296 L357.1 296 L357.7 296.9 L358.3 296.4 L358.9 298.6 L359.5 301.1 L360.1 301.1 L360.7 304.1 L361.3 306.7 L361.9 308.6 L362.5 308.7 L363.1 309.3 L363.7 304.7 L364.3 304.2 L364.9 299.5 L365.5 295.6 L366.1 292.3 L366.7 290.2 L367.3 289.3 L367.9 291.8 L368.5 293.6 L369.1 292.9 L369.7 293.4 L370.3 293.8 L370.9 294.8 L371.5 293.3 L372.1 291.7 L372.7 290.1 L373.3 289.6 L373.9 287.7 L374.5 285.8 L375.1 282.5 L375.7 281.3 L376.3 277.5 L376.9 276.8 L377.5 284.8 L378.1 293.4 L378.7 302.8 L379.3 313.3 L379.9 321.6 L380.5 325.4 L381.1 321.2 L381.7 316.4 L382.3 312.7 L382.9 306.1 L383.5 300 L384.1 303.2 L384.7 305.5 L385.3 307.8 L385.9 308.7 L386.5 311.9 L387.1 313.9 L387.7 314.4 L388.3 311.4 L388.9 310.3 L389.5 309.1 L390.1 306.2 L390.7 303.2 L391.3 302.6 L391.9 301 L392.5 298.6 L393.1 295.3 L393.7 296.5 L394.3 299.3 L394.9 302.8 L395.5 303.9 L396.1 305 L396.7 309.1 L397.3 310.9 L397.9 313.1 L398.5 314.5 L399.1 316.4 L399.7 317.3 L400.3 319.9 L400.9 322.6 L401.5 323.1 L402.1 326.4 L402.7 327.3 L403.3 328.7 L403.9 334.1 L404.5 338.3 L405.1 340.9 L405.7 342.5 L406.3 347.3 L406.9 349.9 L407.5 352.6 L408.1 355.7 L408.7 355.6 L409.3 354.1 L409.9 356.6 L410.5 358.6 L411.1 358.9 L411.7 359.5 L412.3 361.6 L412.9 363.1 L413.5 363.5 L414.1 364.7 L414.7 362.3 L415.3 360.5 L415.9 358.4 L416.5 353 L417.1 349.7 L417.7 346.8 L418.3 343.9 L418.9 339.4 L419.5 340.7 L420.1 339.7 L420.7 341 L421.3 341.6 L421.9 342.1 L422.5 341.9 L423.1 344.5 L423.7 347.2 L424.3 347.3 L424.9 346.6 L425.5 347.7 L426.1 347.8 L426.7 347.6 L427.3 349.4 L427.9 349.6 L428.5 350 L429.1 352.4 L429.7 354.9 L430.3 353.4 L430.9 356.3 L431.5 357 L432.1 356.8 L432.7 356.1 L433.3 359.2 L433.9 360.2 L434.5 362 L435.1 362.5 L435.7 362.3 L436.3 361.4 L436.9 364.5 L437.5 364.1 L438.1 364.5 L438.7 366.2 L439.3 367.2 L439.9 366.1 L440.5 365.6 L441.1 365.9 L441.7 363.3 L442.3 363.5 L442.9 361.9 L443.5 362.8 L444.1 360.3 L444.7 359.2 L445.3 360.1 L445.9 357.5 L446.5 357.1 L447.1 356.3 L447.7 353.3 L448.3 354.6 L448.9 351.4 L449.5 349 L450.1 349.1 L450.7 347.8 L451.3 348.6 L451.9 351.9 L452.5 354.1 L453.1 354.8 L453.7 356.9 L454.3 355.6 L454.9 356.8 L455.5 357.2 L456.1 359 L456.7 358.8 L457.3 359.2 L457.9 360.1 L458.5 358.7 L459.1 360.6 L459.7 361.6 L460.3 360.4 L460.9 360.2 L461.5 356.2 L462.1 355.3 L462.7 350.8 L463.3 347.9 L463.9 347.4 L464.5 343.1 L465.1 344.3 L465.7 341.8 L466.3 340.2 L466.9 339.4 L467.5 339 L468.1 341.6 L468.7 343.7 L469.3 344.8 L469.9 346 L470.5 347.7 L471.1 350.5 L471.7 351 L472.3 354 L472.9 351.9 L473.5 351.1 L474.1 353.9 L474.7 354.5 L475.3 354.8 L475.9 356.5 L476.5 356.1 L477.1 354.6 L477.7 353.9 L478.3 352 L478.9 350.6 L479.5 349.1 L480.1 348.6 L480.7 349.9 L481.3 349.3 L481.9 347.5 L482.5 344.1 L483.1 344.7 L483.7 344.1 L484.3 344.2 L484.9 343.3 L485.5 344.3 L486.1 344.9 L486.7 344.3 L487.3 342.5 L487.9 344.3 L488.5 343 L489.1 343.1 L489.7 341.4 L490.3 343.1 L490.9 342.9 L491.5 342.4 L492.1 341.5 L492.7 340.5 L493.3 341.4 L493.9 339.4 L494.5 338.4 L495.1 337.8 L495.7 336.4 L496.3 335.1 L496.9 336.8 L497.5 336.1 L498.1 336.5 L498.7 335.9 L499.3 334.5 L499.9 334.7 L500.5 334.3 L501.1 331.3 L501.7 333 L502.3 332.1 L502.9 333.5 L503.5 336.6 L504.1 337.8 L504.7 339.7 L505.3 340.1 L505.9 338 L506.5 339.8 L507.1 337 L507.6 338.3" stroke="#3eb1a0" stroke-width="6.8" fill="none" stroke-linejoin="round" clip-path="url(#c1clip)"/>
<path d="M293.4 372 L293.6 463.5 H298.6 L298.8 372 Z" fill="#3eb1a0"/>
<text class="s" transform="translate(158 248.7) scale(0.82 1)" font-size="17.5" text-anchor="end">35,000.00</text>
<text class="s" transform="translate(158 280.1) scale(0.82 1)" font-size="17.5" text-anchor="end">30,000.00</text>
<text class="s" transform="translate(158 311.6) scale(0.82 1)" font-size="17.5" text-anchor="end">25,000.00</text>
<text class="s" transform="translate(158 343) scale(0.82 1)" font-size="17.5" text-anchor="end">20,000.00</text>
<text class="s" transform="translate(158 374.4) scale(0.82 1)" font-size="17.5" text-anchor="end">15,000.00</text>
<text class="s" transform="translate(158 405.8) scale(0.82 1)" font-size="17.5" text-anchor="end">10,000.00</text>
<text class="s" transform="translate(158 437.3) scale(0.82 1)" font-size="17.5" text-anchor="end">5,000.00</text>
<text class="s" transform="translate(158 468.7) scale(0.82 1)" font-size="17.5" text-anchor="end">0.00</text>
<text class="s" transform="translate(523.5 248.7) scale(0.825 1)" font-size="17.5">3,000.00</text>
<text class="s" transform="translate(523.5 280.1) scale(0.825 1)" font-size="17.5">2,500.00</text>
<text class="s" transform="translate(523.5 311.6) scale(0.825 1)" font-size="17.5">2,000.00</text>
<text class="s" transform="translate(523.5 343) scale(0.825 1)" font-size="17.5">1,500.00</text>
<text class="s" transform="translate(523.5 374.4) scale(0.825 1)" font-size="17.5">1,000.00</text>
<text class="s" transform="translate(523.5 405.8) scale(0.825 1)" font-size="17.5">500.00</text>
<text class="s" transform="translate(523.5 437.3) scale(0.825 1)" font-size="17.5">0.00</text>
<text class="s" transform="translate(523.5 468.7) scale(0.825 1)" font-size="17.5">-500.00</text>
<path d="M177.8 463.6 V473.5" stroke="#000" stroke-width="1.2" stroke-dasharray="1.4 2.2" fill="none"/>
<text class="d" transform="translate(179.9 551) rotate(-90) scale(1.055 1)" font-size="16">2017-01-</text>
<path d="M198.9 463.6 V473.5" stroke="#000" stroke-width="1.2" stroke-dasharray="1.4 2.2" fill="none"/>
<text class="d" transform="translate(201 551) rotate(-90) scale(1.055 1)" font-size="16">2017-07-</text>
<path d="M220 463.6 V473.5" stroke="#000" stroke-width="1.2" stroke-dasharray="1.4 2.2" fill="none"/>
<text class="d" transform="translate(222.1 551) rotate(-90) scale(1.055 1)" font-size="16">2018-02-</text>
<path d="M241 463.6 V473.5" stroke="#000" stroke-width="1.2" stroke-dasharray="1.4 2.2" fill="none"/>
<text class="d" transform="translate(243.1 551) rotate(-90) scale(1.055 1)" font-size="16">2018-09-</text>
<path d="M262.1 463.6 V473.5" stroke="#000" stroke-width="1.2" stroke-dasharray="1.4 2.2" fill="none"/>
<text class="d" transform="translate(264.2 551) rotate(-90) scale(1.055 1)" font-size="16">2019-03-</text>
<path d="M283.2 463.6 V473.5" stroke="#000" stroke-width="1.2" stroke-dasharray="1.4 2.2" fill="none"/>
<text class="d" transform="translate(285.3 551) rotate(-90) scale(1.055 1)" font-size="16">2019-10-</text>
<path d="M304.3 463.6 V473.5" stroke="#000" stroke-width="1.2" stroke-dasharray="1.4 2.2" fill="none"/>
<text class="d" transform="translate(306.4 551) rotate(-90) scale(1.055 1)" font-size="16">2020-05-</text>
<path d="M325.4 463.6 V473.5" stroke="#000" stroke-width="1.2" stroke-dasharray="1.4 2.2" fill="none"/>
<text class="d" transform="translate(327.5 551) rotate(-90) scale(1.055 1)" font-size="16">2020-12-</text>
<path d="M346.4 463.6 V473.5" stroke="#000" stroke-width="1.2" stroke-dasharray="1.4 2.2" fill="none"/>
<text class="d" transform="translate(348.5 551) rotate(-90) scale(1.055 1)" font-size="16">2021-06-</text>
<path d="M367.5 463.6 V473.5" stroke="#000" stroke-width="1.2" stroke-dasharray="1.4 2.2" fill="none"/>
<text class="d" transform="translate(369.6 551) rotate(-90) scale(1.055 1)" font-size="16">2022-01-</text>
<path d="M388.6 463.6 V473.5" stroke="#000" stroke-width="1.2" stroke-dasharray="1.4 2.2" fill="none"/>
<text class="d" transform="translate(390.7 551) rotate(-90) scale(1.055 1)" font-size="16">2022-08-</text>
<path d="M409.7 463.6 V473.5" stroke="#000" stroke-width="1.2" stroke-dasharray="1.4 2.2" fill="none"/>
<text class="d" transform="translate(411.8 551) rotate(-90) scale(1.055 1)" font-size="16">2023-03-</text>
<path d="M430.8 463.6 V473.5" stroke="#000" stroke-width="1.2" stroke-dasharray="1.4 2.2" fill="none"/>
<text class="d" transform="translate(432.9 551) rotate(-90) scale(1.055 1)" font-size="16">2023-09-</text>
<path d="M451.8 463.6 V473.5" stroke="#000" stroke-width="1.2" stroke-dasharray="1.4 2.2" fill="none"/>
<text class="d" transform="translate(453.9 551) rotate(-90) scale(1.055 1)" font-size="16">2024-04-</text>
<path d="M472.9 463.6 V473.5" stroke="#000" stroke-width="1.2" stroke-dasharray="1.4 2.2" fill="none"/>
<text class="d" transform="translate(475 551) rotate(-90) scale(1.055 1)" font-size="16">2024-11-</text>
<path d="M494 463.6 V473.5" stroke="#000" stroke-width="1.2" stroke-dasharray="1.4 2.2" fill="none"/>
<text class="d" transform="translate(496.1 551) rotate(-90) scale(1.055 1)" font-size="16">2025-06-</text>
<rect x="106" y="180" width="31" height="8.6" fill="#9bbb59"/>
<text class="s" transform="translate(138.5 189.3) scale(0.95 1)" font-size="14.5">基差</text>
<path d="M180.5 185 H209.5" stroke="#3eb1a0" stroke-width="6" stroke-linecap="round"/>
<text class="s" transform="translate(214 189.3) scale(0.895 1)" font-size="14.5">期货收盘价(活跃合约):菜籽油</text>
<path d="M395.5 185 H424.5" stroke="#1c3a57" stroke-width="6" stroke-linecap="round"/>
<text class="s" transform="translate(429 189.3) scale(0.885 1)" font-size="14.5">出厂价:四级菜油:江苏:南通</text>
<text class="s" transform="translate(106 219.5) scale(0.95 1)" font-size="14.5" font-weight="bold">元/吨</text></g>
<g><path d="M671.5 229.5 H1088.3" stroke="#868686" stroke-width="1" fill="none"/>
<path d="M671.5 260.8 H1088.3" stroke="#868686" stroke-width="2.0" fill="none"/>
<path d="M671.5 291.5 H1088.3" stroke="#868686" stroke-width="1" fill="none"/>
<path d="M671.5 322.5 H1088.3" stroke="#868686" stroke-width="1" fill="none"/>
<path d="M671.5 354.5 H1088.3" stroke="#868686" stroke-width="1" fill="none"/>
<path d="M671.5 385.5 H1088.3" stroke="#868686" stroke-width="1" fill="none"/>
<path d="M671.5 416.5 H1088.3" stroke="#868686" stroke-width="1" fill="none"/>
<path d="M671.5 447.5 H1088.3" stroke="#868686" stroke-width="1" fill="none"/>
<path d="M671.5 478.5 H1088.3" stroke="#868686" stroke-width="1" fill="none"/>
<path d="M671.5 509.6 H1088.3" stroke="#868686" stroke-width="2.0" fill="none"/>
<path d="M671.5 540.5 H1088.3" stroke="#868686" stroke-width="1" fill="none"/>
<path d="M676.5 385.2 L676.5 355.9 L676.9 356.6 L677.4 356.5 L677.8 357.5 L678.3 357.7 L678.7 357.8 L679.2 357.5 L679.6 357.8 L680.1 358.5 L680.5 358.3 L681 358.4 L681.4 355.6 L681.9 350.3 L682.3 354.3 L682.8 354 L683.2 353.3 L683.7 346.4 L684.1 350.9 L684.6 349.8 L685 349.7 L685.5 349 L685.9 345.6 L686.4 340.8 L686.8 349.3 L687.3 350.2 L687.7 351.5 L688.2 352.7 L688.6 354 L689.1 352.6 L689.5 351.2 L690 349.4 L690.4 348.3 L690.9 346 L691.3 349.3 L691.8 350.4 L692.2 350.3 L692.7 351.8 L693.1 352.9 L693.6 354.2 L694 354.7 L694.5 356.6 L694.9 358.1 L695.4 362.8 L695.8 355.1 L696.3 360.3 L696.7 357.6 L697.2 355.6 L697.6 351.5 L698.1 351.4 L698.5 349.6 L699 347.1 L699.4 345.4 L699.9 336.8 L700.3 341.9 L700.8 341.2 L701.2 341 L701.7 340.3 L702.1 339.9 L702.6 339.1 L703 336.2 L703.5 339.9 L703.9 341.4 L704.4 340 L704.8 338.6 L705.3 338.2 L705.7 338.2 L706.2 335.7 L706.6 339 L707.1 338.3 L707.5 339.2 L708 334.6 L708.4 340.4 L708.9 340.2 L709.3 345.2 L709.8 348.2 L710.2 351.6 L710.7 350.6 L711.1 352.1 L711.6 351.9 L712 352 L712.5 351.3 L712.9 350.9 L713.4 354.2 L713.8 349.7 L714.3 348 L714.7 348.1 L715.2 346.7 L715.6 345.1 L716.1 345.1 L716.5 344 L717 342.4 L717.4 341.8 L717.9 340.9 L718.3 338.4 L718.8 341 L719.2 342.2 L719.7 343.9 L720.1 342.7 L720.6 341 L721 343.7 L721.5 344.5 L721.9 344.6 L722.4 344.9 L722.8 345.1 L723.3 344.5 L723.7 344.5 L724.2 345.2 L724.6 344.5 L725.1 345.2 L725.5 344.7 L726 350.1 L726.4 345.3 L726.9 345.1 L727.3 344.9 L727.8 347.2 L728.2 347.5 L728.7 352.6 L729.1 348.3 L729.6 348.9 L730 349.7 L730.5 351.4 L730.9 351.8 L731.4 348.6 L731.8 340.9 L732.3 345.2 L732.7 344 L733.2 341 L733.6 339.7 L734.1 340.1 L734.5 338.4 L735 339.3 L735.4 332.7 L735.9 338.9 L736.3 335.3 L736.8 342.4 L737.2 337.6 L737.7 333.5 L738.1 335.5 L738.6 335.1 L739 326.9 L739.5 333.1 L739.9 332.1 L740.4 332.6 L740.8 329.9 L741.3 329.7 L741.7 328.8 L742.2 327.8 L742.6 327.3 L743.1 328.1 L743.5 318.9 L744 328.2 L744.4 328.7 L744.9 321.5 L745.3 326.4 L745.8 328.8 L746.2 328.5 L746.7 321.4 L747.1 329.9 L747.6 323.8 L748 331.1 L748.5 331.7 L748.9 331.3 L749.4 332.1 L749.8 331.3 L750.3 332 L750.7 332.7 L751.2 331.3 L751.6 330.7 L752.1 329.6 L752.5 329.1 L753 328.8 L753.4 325.1 L753.9 326.4 L754.3 326.3 L754.8 322.1 L755.2 319 L755.7 315 L756.1 324.3 L756.6 323.2 L757 324.2 L757.5 324.6 L757.9 327 L758.4 324.2 L758.8 323.7 L759.3 316.1 L759.7 324 L760.2 324.2 L760.6 324.7 L761.1 318.4 L761.5 323.9 L762 322.5 L762.4 322.2 L762.9 318 L763.3 319.4 L763.8 317.6 L764.2 317.4 L764.7 317.5 L765.1 317.7 L765.6 317 L766 317.5 L766.5 316.8 L766.9 315.6 L767.4 309.9 L767.8 319.3 L768.3 319.6 L768.7 322.4 L769.2 323.6 L769.6 324.2 L770.1 323.7 L770.5 323.8 L771 315.7 L771.4 318.3 L771.9 324.8 L772.3 324.8 L772.8 324.5 L773.2 324.8 L773.7 324.5 L774.1 324.8 L774.6 330.5 L775 322.5 L775.5 323.7 L775.9 313.4 L776.4 313.9 L776.8 311.9 L777.3 307.7 L777.7 307.2 L778.2 300.3 L778.6 303.1 L779.1 294.5 L779.5 301 L780 302.4 L780.4 304.5 L780.9 305.3 L781.3 307.2 L781.8 307.3 L782.2 304.1 L782.7 308.8 L783.1 296.7 L783.6 306.1 L784 305.9 L784.5 302.6 L784.9 304.5 L785.4 303.4 L785.8 302.4 L786.3 302.1 L786.7 300.4 L787.2 301.8 L787.6 304.2 L788.1 302.4 L788.5 302.4 L789 302 L789.4 297 L789.9 302 L790.3 301.8 L790.8 299.6 L791.2 307.2 L791.7 300.7 L792.1 300.6 L792.6 300.7 L793 300.5 L793.5 301.3 L793.9 310 L794.4 294.5 L794.8 302 L795.3 302.5 L795.7 301.7 L796.2 301.5 L796.6 299.1 L797.1 304 L797.5 303.1 L798 303.5 L798.4 304 L798.9 304.4 L799.3 304.2 L799.8 304.4 L800.2 304.8 L800.7 305.7 L801.1 305.2 L801.6 304.9 L802 299.5 L802.5 305.6 L802.9 305.9 L803.4 306.8 L803.8 307 L804.3 306.8 L804.7 307.8 L805.2 313.7 L805.6 309.2 L806.1 308.8 L806.5 313.1 L807 314.3 L807.4 315.1 L807.9 315.9 L808.3 317.3 L808.8 310.9 L809.2 319.8 L809.7 321.6 L810.1 323.5 L810.6 324 L811 324.8 L811.5 326.9 L811.9 327.5 L812.4 331 L812.8 335.4 L813.3 336.3 L813.7 339.4 L814.2 337.7 L814.6 337.8 L815.1 337.1 L815.5 335.6 L816 335.7 L816.4 329.9 L816.9 334.8 L817.3 333.9 L817.8 333.3 L818.2 332.3 L818.7 333.2 L819.1 325 L819.6 334.1 L820 330.6 L820.5 327.1 L820.9 323.5 L821.4 325.4 L821.8 306.6 L822.3 315.7 L822.7 317.3 L823.2 310.9 L823.6 313.3 L824.1 314.4 L824.5 315.7 L825 317.5 L825.4 319.1 L825.9 319.9 L826.3 321.5 L826.8 322.9 L827.2 329.1 L827.7 323.7 L828.1 316 L828.6 320.5 L829 319.1 L829.5 324.7 L829.9 316.9 L830.4 323.8 L830.8 313.9 L831.3 313.4 L831.7 312.7 L832.2 315.5 L832.6 312.3 L833.1 317.7 L833.5 309.9 L834 304.8 L834.4 311.9 L834.9 311.6 L835.3 311.1 L835.8 308.7 L836.2 309.6 L836.7 300.8 L837.1 307.3 L837.6 304.2 L838 301.9 L838.5 299.8 L838.9 298.7 L839.4 295.5 L839.8 291.8 L840.3 287.7 L840.7 285.6 L841.2 285.5 L841.6 282.6 L842.1 283.5 L842.5 282.7 L843 282.7 L843.4 276.2 L843.9 279.8 L844.3 285.7 L844.8 289.6 L845.2 293.5 L845.7 296 L846.1 296.4 L846.6 296.4 L847 294.8 L847.5 294.3 L847.9 293 L848.4 292.6 L848.8 292.1 L849.3 291.1 L849.7 290.3 L850.2 294.6 L850.6 290.5 L851.1 290.6 L851.5 288.4 L852 284.8 L852.4 282.3 L852.9 278.3 L853.3 275.9 L853.8 277.5 L854.2 279 L854.7 284.1 L855.1 287.4 L855.6 289.6 L856 290.8 L856.5 284.2 L856.9 283.7 L857.4 291 L857.8 291.2 L858.3 292.1 L858.7 291.7 L859.2 292.1 L859.6 293.4 L860.1 290.4 L860.5 278.5 L861 286.5 L861.4 286.5 L861.9 286.2 L862.3 278.6 L862.8 284.5 L863.2 284.8 L863.7 288.7 L864.1 283.5 L864.6 284.2 L865 279.9 L865.5 286.5 L865.9 288.2 L866.4 289.3 L866.8 291.2 L867.3 298.2 L867.7 291.5 L868.2 289.7 L868.6 287.6 L869.1 283.7 L869.5 284.9 L870 285.6 L870.4 294.9 L870.9 289.9 L871.3 291.1 L871.8 297 L872.2 295 L872.7 296.2 L873.1 289.6 L873.6 287.9 L874 275.9 L874.5 286.2 L874.9 267.4 L875.4 267.8 L875.8 273.2 L876.3 265.2 L876.7 295.5 L877.2 290.9 L877.6 293.2 L878.1 293.6 L878.5 294 L879 294.4 L879.4 295.2 L879.9 300.9 L880.3 297.4 L880.8 296.7 L881.2 294.6 L881.7 293.1 L882.1 283.9 L882.6 289.6 L883 291 L883.5 293.7 L883.9 296.2 L884.4 295.2 L884.8 303.6 L885.3 314.1 L885.7 304.2 L886.2 307 L886.6 313.7 L887.1 301.7 L887.5 310.4 L888 311.8 L888.4 314.4 L888.9 319.5 L889.3 323.7 L889.8 319.6 L890.2 322.1 L890.7 316.3 L891.1 310.5 L891.6 302.3 L892 305.2 L892.5 305.3 L892.9 305.4 L893.4 306.3 L893.8 305.3 L894.3 304 L894.7 295.5 L895.2 294 L895.6 295 L896.1 299.8 L896.5 297.7 L897 297.7 L897.4 288.7 L897.9 286.2 L898.3 294.7 L898.8 293.2 L899.2 291.4 L899.7 289.9 L900.1 289.1 L900.6 287.7 L901 287.9 L901.5 292.7 L901.9 293.2 L902.4 286.5 L902.8 285.5 L903.3 285.6 L903.7 284.5 L904.2 284.9 L904.6 284.7 L905.1 274.9 L905.5 265.8 L906 257.5 L906.4 250.9 L906.9 252.7 L907.3 268.6 L907.8 277.8 L908.2 283.2 L908.7 283.3 L909.1 289.4 L909.6 292.6 L910 296.7 L910.5 302.5 L910.9 298.1 L911.4 316.4 L911.8 323 L912.3 326.9 L912.7 330.6 L913.2 335.2 L913.6 339.1 L914.1 341.8 L914.5 340.2 L915 339.5 L915.4 338.7 L915.9 337.6 L916.3 337.1 L916.8 336.9 L917.2 343.2 L917.7 335 L918.1 330.8 L918.6 326.9 L919 320.7 L919.5 317.4 L919.9 300.5 L920.4 304 L920.8 309.6 L921.3 312.2 L921.7 313.9 L922.2 317.4 L922.6 319 L923.1 321.2 L923.5 322.5 L924 323 L924.4 326.5 L924.9 323 L925.3 322 L925.8 323.8 L926.2 323.2 L926.7 320.5 L927.1 314.5 L927.6 303.1 L928 302.4 L928.5 296.4 L928.9 292.3 L929.4 290.3 L929.8 289.7 L930.3 285 L930.7 286.6 L931.2 284.1 L931.6 282.3 L932.1 283.3 L932.5 278.4 L933 274.4 L933.4 281.1 L933.9 270.9 L934.3 268.2 L934.8 265.3 L935.2 266.6 L935.7 268.5 L936.1 271 L936.6 273.3 L937 259.6 L937.5 279.5 L937.9 284.5 L938.4 289.1 L938.8 294.3 L939.3 298.6 L939.7 299.1 L940.2 292.8 L940.6 286.2 L941.1 281.4 L941.5 262 L942 265.4 L942.4 264.5 L942.9 269.4 L943.3 274.6 L943.8 279.3 L944.2 281.4 L944.7 280.8 L945.1 266.5 L945.6 281.4 L946 279.9 L946.5 267.6 L946.9 267.1 L947.4 264.2 L947.8 266.9 L948.3 276.1 L948.7 266.9 L949.2 271.7 L949.6 277 L950.1 281.4 L950.5 286.9 L951 290.9 L951.4 295.4 L951.9 298.9 L952.3 302.6 L952.8 306.4 L953.2 308.3 L953.7 309.2 L954.1 308.1 L954.6 301.7 L955 313.9 L955.5 317.5 L955.9 316.4 L956.4 308.8 L956.8 318.1 L957.3 319.7 L957.7 321.6 L958.2 323.9 L958.6 325.5 L959.1 329.1 L959.5 329.9 L960 331.8 L960.4 326 L960.9 334.6 L961.3 337.3 L961.8 340.1 L962.2 342.3 L962.7 344.3 L963.1 347.4 L963.6 349.6 L964 344.8 L964.5 348.8 L964.9 347.4 L965.4 346.5 L965.8 344.6 L966.3 345 L966.7 346.4 L967.2 345.7 L967.6 347.1 L968.1 348 L968.5 341.1 L969 348.2 L969.4 349.4 L969.9 347.9 L970.3 350.4 L970.8 349.1 L971.2 348.5 L971.7 347.9 L972.1 347.1 L972.6 347.7 L973 347 L973.5 347.2 L973.9 341.1 L974.4 339.4 L974.8 347 L975.3 341 L975.7 330 L976.2 334.8 L976.6 331.9 L977.1 328.1 L977.5 324.7 L978 321.1 L978.4 318.5 L978.9 315.3 L979.3 316.9 L979.8 319.7 L980.2 321.7 L980.7 324.9 L981.1 327.4 L981.6 328.9 L982 329.4 L982.5 330.9 L982.9 331.2 L983.4 332.8 L983.8 331 L984.3 334.8 L984.7 335.8 L985.2 335.8 L985.6 336.6 L986.1 336.5 L986.5 336.3 L987 335.9 L987.4 337.1 L987.9 337.8 L988.3 338.6 L988.8 338.4 L989.2 334.3 L989.7 336.5 L990.1 332.2 L990.6 335.4 L991 335.5 L991.5 337.2 L991.9 336.7 L992.4 343.4 L992.8 340.9 L993.3 342.7 L993.7 338.5 L994.2 345.6 L994.6 347.5 L995.1 345.6 L995.5 345.7 L996 339.5 L996.4 343.4 L996.9 346.2 L997.3 345.3 L997.8 342.7 L998.2 349.6 L998.7 352 L999.1 352.9 L999.6 355.6 L1000 357.9 L1000.5 360.2 L1000.9 360.8 L1001.4 362.8 L1001.8 364.3 L1002.3 364.9 L1002.7 363.8 L1003.2 367.4 L1003.6 366.8 L1004.1 368.5 L1004.5 369.8 L1005 371.4 L1005.4 372.8 L1005.9 372.1 L1006.3 373.6 L1006.8 375 L1007.2 376.1 L1007.7 374.9 L1008.1 378.3 L1008.6 379.1 L1009 379.7 L1009.5 380 L1009.9 376.8 L1010.4 377.4 L1010.8 375.1 L1011.3 374 L1011.7 371.6 L1012.2 367.6 L1012.6 367.5 L1013.1 365.5 L1013.5 362.5 L1014 358.7 L1014.4 352 L1014.9 353.1 L1015.3 351.5 L1015.8 344.3 L1016.2 345.1 L1016.7 345.4 L1017.1 342.8 L1017.6 345.6 L1018 347.8 L1018.5 350.1 L1018.9 352.9 L1019.4 354.5 L1019.8 351.2 L1020.3 354.9 L1020.7 357.5 L1021.2 359.1 L1021.6 360.8 L1022.1 361.4 L1022.5 363.1 L1023 356.1 L1023.4 360.8 L1023.9 361 L1024.3 360 L1024.8 359.3 L1025.2 359 L1025.7 355.3 L1026.1 359 L1026.6 360.1 L1027 362.3 L1027.5 363.5 L1027.9 365.9 L1028.4 364.7 L1028.8 367.6 L1029.3 368.7 L1029.7 367.2 L1030.2 367.2 L1030.6 360.5 L1031.1 358.5 L1031.5 355.2 L1032 352.2 L1032.4 349.5 L1032.9 351.7 L1033.3 356.6 L1033.8 353.1 L1034.2 355.6 L1034.7 359.2 L1035.1 360.7 L1035.6 362.3 L1036 364.1 L1036.5 367 L1036.9 369.2 L1037.4 371.7 L1037.8 370.6 L1038.3 374.7 L1038.7 376.2 L1039.2 381 L1039.6 382.7 L1040.1 384.8 L1040.5 385.2 L1041 384.7 L1041.4 384.9 L1041.9 384.7 L1042.3 384.3 L1042.8 383.9 L1043.2 382 L1043.7 383 L1044.1 381.6 L1044.6 379.2 L1045 378.1 L1045.5 376.5 L1045.9 375 L1046.4 373.3 L1046.8 370.9 L1047.3 376.3 L1047.7 373.8 L1048.2 374.1 L1048.6 373 L1049.1 376.3 L1049.5 377.2 L1050 378.6 L1050.4 380.3 L1050.9 381.5 L1051.3 382.1 L1051.8 383.7 L1052.2 382.7 L1052.7 383.5 L1053.1 383.8 L1053.6 383.6 L1054 381.4 L1054.5 384.1 L1054.9 383.2 L1055.4 381.3 L1055.8 378.5 L1056.3 372.6 L1056.7 371.8 L1057.2 367 L1057.6 363.1 L1058.1 356.4 L1058.5 355.2 L1059 351.1 L1059.4 347.5 L1059.9 345.1 L1060.3 343.2 L1060.8 339 L1061.2 343 L1061.7 343.1 L1062.1 342.2 L1062.6 341.5 L1063 341.4 L1063.5 342.6 L1063.9 340.8 L1064.4 335.6 L1064.8 342.6 L1065.3 342.7 L1065.7 343 L1066.2 342.5 L1066.6 343.2 L1067.1 345.1 L1067.5 345.6 L1068 345.9 L1068.4 346.5 L1068.9 348.3 L1069.3 349.2 L1069.8 350.4 L1070.2 352.4 L1070.7 354.6 L1071.1 361 L1071.6 357.5 L1072 361 L1072.5 361 L1072.9 363.5 L1073.4 366.3 L1073.8 367.8 L1074.3 370.3 L1074.7 372.4 L1075.2 373.6 L1075.6 371.6 L1076.1 370 L1076.5 369.7 L1077 369.2 L1077.4 366.3 L1077.9 365.7 L1078.3 364.6 L1078.8 363.2 L1079.2 362.4 L1079.7 361.1 L1080.1 361.1 L1080.6 356.5 L1081 360.7 L1081.5 361.8 L1081.9 358.6 L1082.4 364.2 L1082.8 364.8 L1083.3 362.6 L1083.7 361.2 L1084.2 355.6 L1084.6 358.1 L1085.1 355.9 L1085.5 354 L1086 350.8 L1086.4 348.6 L1086.9 346.6 L1087.3 344.9 L1087.8 347.8 L1088.1 340.8 L1088.1 385.2 Z" fill="#9bbb59"/>
<path d="M676.3 385.2 L676.3 391.4 L676.7 392.1 L677.2 391.9 L677.6 389.7 L678.1 391.7 L678.5 392.4 L679 392.9 L679.4 391.9 L679.9 392 L680.3 393 L680.8 393.5 L681.2 393.9 L681.7 394 L682.1 393.6 L682.6 393.8 L683 395 L683.5 394.7 L683.9 395.5 L684.4 399.2 L684.8 396.3 L685.3 396.6 L685.7 397 L686.2 396.3 L686.6 397.7 L687.1 398 L687.5 397.3 L688 397.5 L688.4 397.7 L688.9 398.7 L689.3 401.7 L689.8 398.1 L690.2 397.6 L690.7 399.6 L691.1 399.1 L691.6 398.7 L692 398.4 L692.5 399.5 L692.9 399.5 L693.4 399.7 L693.8 400 L694.3 400.4 L694.7 400.7 L695.2 400.4 L695.6 401 L696.1 402.9 L696.5 401.4 L697 400.7 L697.4 400.8 L697.9 401.8 L698.3 401.6 L698.8 402.5 L699.2 401.3 L699.7 401.2 L700.1 402.1 L700.6 403.7 L701 403.6 L701.5 403 L701.9 403.3 L702.4 402.8 L702.8 405.1 L703.3 402.7 L703.7 404.8 L704.2 405.2 L704.6 403.2 L705.1 403 L705.5 404.4 L706 404.1 L706.4 403.9 L706.9 405 L707.3 404.1 L707.8 407.5 L708.2 405 L708.7 404.3 L709.1 404.8 L709.6 403.5 L710 403.5 L710.5 404 L710.9 403.1 L711.4 403.7 L711.8 403.1 L712.3 402.5 L712.7 401.1 L713.2 404.7 L713.6 403.1 L714.1 402.5 L714.5 401.4 L715 401.8 L715.4 402.1 L715.9 401.2 L716.3 402.1 L716.8 401.8 L717.2 399.2 L717.7 402.8 L718.1 403.1 L718.6 402.4 L719 405.8 L719.5 402.8 L719.9 401.7 L720.4 403.3 L720.8 402.3 L721.3 401.8 L721.7 403.6 L722.2 407 L722.6 403.4 L723.1 402.8 L723.5 402.5 L724 404.9 L724.4 404.2 L724.9 403 L725.3 405 L725.8 405.2 L726.2 404.9 L726.7 406.1 L727.1 406.3 L727.6 407.5 L728 408.8 L728.5 408 L728.9 407.6 L729.4 408.1 L729.8 409.3 L730.3 409.4 L730.7 411.2 L731.2 410.8 L731.6 408.2 L732.1 409.9 L732.5 411.3 L733 409.8 L733.4 410.9 L733.9 410.9 L734.3 410.3 L734.8 410.8 L735.2 410.6 L735.7 410.9 L736.1 410.9 L736.6 411.6 L737 411.8 L737.5 413.5 L737.9 417.8 L738.4 414.3 L738.8 414.5 L739.3 416.5 L739.7 415.4 L740.2 416.3 L740.6 417 L741.1 418.8 L741.5 418.1 L742 418.2 L742.4 417.2 L742.9 415.6 L743.3 419 L743.8 422.2 L744.2 418.3 L744.7 418.4 L745.1 422.5 L745.6 418.1 L746 419.7 L746.5 417.6 L746.9 416.8 L747.4 417.8 L747.8 420.5 L748.3 415.7 L748.7 415 L749.2 411.3 L749.6 413.9 L750.1 412.9 L750.5 412.6 L751 411.2 L751.4 411.5 L751.9 409.4 L752.3 409.3 L752.8 414.2 L753.2 411.2 L753.7 411.8 L754.1 411.8 L754.6 412 L755 411.5 L755.5 410.7 L755.9 414.5 L756.4 412.2 L756.8 412.8 L757.3 413.7 L757.7 414.2 L758.2 413.5 L758.6 413.8 L759.1 414.7 L759.5 414.2 L760 414.4 L760.4 414.2 L760.9 415.3 L761.3 415.3 L761.8 414.8 L762.2 418.6 L762.7 416 L763.1 416 L763.6 417.8 L764 415.7 L764.5 417.5 L764.9 415.7 L765.4 416.5 L765.8 417.6 L766.3 418.6 L766.7 420.1 L767.2 420.3 L767.6 420.1 L768.1 421.6 L768.5 421.9 L769 419.5 L769.4 420 L769.9 421.9 L770.3 419.7 L770.8 416.5 L771.2 419.3 L771.7 418.6 L772.1 417.9 L772.6 417 L773 416.1 L773.5 415.6 L773.9 415.5 L774.4 416.2 L774.8 418.3 L775.3 419.6 L775.7 420.2 L776.2 421.8 L776.6 423.6 L777.1 425.3 L777.5 426.7 L778 428.4 L778.4 428.9 L778.9 429.4 L779.3 430 L779.8 431.3 L780.2 432.4 L780.7 436 L781.1 434.1 L781.6 438.6 L782 435.5 L782.5 436.1 L782.9 436.1 L783.4 437.2 L783.8 434.5 L784.3 434.9 L784.7 435.2 L785.2 434.3 L785.6 436 L786.1 430.8 L786.5 434.1 L787 434.4 L787.4 434.8 L787.9 433.8 L788.3 433.7 L788.8 433.1 L789.2 434.6 L789.7 433.4 L790.1 431.9 L790.6 431.9 L791 429.6 L791.5 432.5 L791.9 433.1 L792.4 432 L792.8 432.1 L793.3 433.9 L793.7 432.1 L794.2 431.8 L794.6 431.6 L795.1 430.8 L795.5 430.9 L796 430.3 L796.4 429.9 L796.9 429.8 L797.3 430.2 L797.8 429.6 L798.2 429.5 L798.7 429.8 L799.1 428.9 L799.6 427.9 L800 428.3 L800.5 428.2 L800.9 427.4 L801.4 427.9 L801.8 426.7 L802.3 426.7 L802.7 426.7 L803.2 428.7 L803.6 425.4 L804.1 424.7 L804.5 424.9 L805 424.2 L805.4 423.8 L805.9 422.9 L806.3 424.1 L806.8 424.1 L807.2 426 L807.7 422.9 L808.1 422.6 L808.6 422.5 L809 421.7 L809.5 421.8 L809.9 424.3 L810.4 421.3 L810.8 421.4 L811.3 421.7 L811.7 422 L812.2 420 L812.6 421.9 L813.1 421.4 L813.5 424.1 L814 422.7 L814.4 421.5 L814.9 422.6 L815.3 423 L815.8 423.3 L816.2 423.5 L816.7 424.2 L817.1 427.4 L817.6 426.3 L818 426.7 L818.5 427.4 L818.9 429.3 L819.4 434.8 L819.8 432.1 L820.3 434.4 L820.7 435.7 L821.2 436.7 L821.6 441.6 L822.1 439.5 L822.5 438.7 L823 436.7 L823.4 435.3 L823.9 434.3 L824.3 433.5 L824.8 431.6 L825.2 431.4 L825.7 430.2 L826.1 431.4 L826.6 432.8 L827 430 L827.5 428.8 L827.9 433.2 L828.4 428.9 L828.8 428.4 L829.3 430.7 L829.7 430.3 L830.2 433.2 L830.6 438.4 L831.1 437.5 L831.5 440.3 L832 442.5 L832.4 445.2 L832.9 447.6 L833.3 451.6 L833.8 452.4 L834.2 453.1 L834.7 460.3 L835.1 455.8 L835.6 456 L836 452.7 L836.5 456.4 L836.9 452.2 L837.4 458.8 L837.8 457.8 L838.3 458.3 L838.7 459.7 L839.2 460.6 L839.6 460.7 L840.1 461.7 L840.5 463.9 L841 466.7 L841.4 465.8 L841.9 471.6 L842.3 473.1 L842.8 476 L843.2 477.9 L843.7 476.6 L844.1 472.9 L844.6 470.1 L845 470.6 L845.5 463.4 L845.9 460.7 L846.4 456.8 L846.8 456.7 L847.3 457.6 L847.7 456.7 L848.2 462.3 L848.6 458.7 L849.1 464.5 L849.5 456.1 L850 459.5 L850.4 460.6 L850.9 461.1 L851.3 462.5 L851.8 462.1 L852.2 467.1 L852.7 463.6 L853.1 462.8 L853.6 461.1 L854 460 L854.5 458.8 L854.9 457.9 L855.4 456 L855.8 456 L856.3 454.2 L856.7 454.1 L857.2 453 L857.6 449.6 L858.1 451.4 L858.5 451.5 L859 450.7 L859.4 452.8 L859.9 450 L860.3 449.1 L860.8 451.7 L861.2 443.8 L861.7 447 L862.1 445.9 L862.6 445.7 L863 445.6 L863.5 447.1 L863.9 445.6 L864.4 448.8 L864.8 446.3 L865.3 447.1 L865.7 447.6 L866.2 449.6 L866.6 449.9 L867.1 451.5 L867.5 452.9 L868 457.4 L868.4 454.1 L868.9 454.9 L869.3 455.3 L869.8 457 L870.2 458.4 L870.7 458.1 L871.1 460.1 L871.6 461.5 L872 463.6 L872.5 464 L872.9 465.8 L873.4 467.6 L873.8 468.4 L874.3 469.4 L874.7 467.7 L875.2 466.8 L875.6 464.8 L876.1 463.1 L876.5 455 L877 460.7 L877.4 458.6 L877.9 457.5 L878.3 454.2 L878.8 452.6 L879.2 451.2 L879.7 451.1 L880.1 450.4 L880.6 450 L881 449.5 L881.5 449.5 L881.9 446.8 L882.4 447.8 L882.8 441.5 L883.3 446.8 L883.7 449.3 L884.2 446.1 L884.6 445.2 L885.1 444.8 L885.5 445.3 L886 447 L886.4 443.4 L886.9 443.7 L887.3 444.1 L887.8 444.1 L888.2 444.8 L888.7 444.4 L889.1 444.7 L889.6 443.8 L890 444.7 L890.5 441.6 L890.9 443.9 L891.4 444.6 L891.8 446.6 L892.3 447.5 L892.7 453.5 L893.2 451.5 L893.6 452.5 L894.1 454.4 L894.5 457.9 L895 459.3 L895.4 459.9 L895.9 462.3 L896.3 465.1 L896.8 463 L897.2 468.8 L897.7 470.9 L898.1 472.9 L898.6 474.9 L899 477.5 L899.5 480.2 L899.9 482.5 L900.4 485.9 L900.8 487.9 L901.3 491.1 L901.7 494.7 L902.2 503.5 L902.6 505.2 L903.1 503.1 L903.5 505.6 L904 513.9 L904.4 508 L904.9 523.8 L905.3 525.6 L905.8 511.3 L906.2 511.4 L906.7 503.3 L907.1 500.1 L907.6 495.6 L908 492.2 L908.5 488.6 L908.9 485.8 L909.4 483.8 L909.8 481.8 L910.3 478.4 L910.7 476.6 L911.2 474.6 L911.6 466.9 L912.1 470.1 L912.5 467.5 L913 465.8 L913.4 465.7 L913.9 466.4 L914.3 467.1 L914.8 467 L915.2 469.8 L915.7 467.6 L916.1 474.9 L916.6 468.4 L917 467.7 L917.5 471.1 L917.9 469.3 L918.4 469.2 L918.8 469.5 L919.3 466.4 L919.7 470 L920.2 469.3 L920.6 468.3 L921.1 468.4 L921.5 467.4 L922 466.3 L922.4 465.3 L922.9 463.1 L923.3 463.8 L923.8 458.3 L924.2 463.2 L924.7 463.1 L925.1 462.3 L925.6 461.4 L926 464.4 L926.5 460.9 L926.9 459.9 L927.4 460.3 L927.8 464.9 L928.3 459.7 L928.7 459.4 L929.2 458.9 L929.6 455.3 L930.1 461.6 L930.5 456.2 L931 456.3 L931.4 456 L931.9 455.7 L932.3 455.3 L932.8 455.1 L933.2 455 L933.7 453.3 L934.1 459.4 L934.6 452.8 L935 451.7 L935.5 448.7 L935.9 450.4 L936.4 451.7 L936.8 453.4 L937.3 450.2 L937.7 449.9 L938.2 449.7 L938.6 454.7 L939.1 448.8 L939.5 452.8 L940 449.5 L940.4 449.9 L940.9 452.5 L941.3 452.1 L941.8 452.5 L942.2 453.1 L942.7 453.6 L943.1 454.2 L943.6 455.4 L944 460.3 L944.5 463.6 L944.9 460.2 L945.4 459.3 L945.8 464 L946.3 465.1 L946.7 466.7 L947.2 474.8 L947.6 464.3 L948.1 460.9 L948.5 459.6 L949 457 L949.4 454.8 L949.9 451.9 L950.3 449.2 L950.8 446.5 L951.2 444.6 L951.7 442.7 L952.1 445.4 L952.6 440.4 L953 439.6 L953.5 437.5 L953.9 438.8 L954.4 435.3 L954.8 433.1 L955.3 435.1 L955.7 430.6 L956.2 426.6 L956.6 431.4 L957.1 425.9 L957.5 424.4 L958 422.2 L958.4 423.3 L958.9 421.2 L959.3 418.9 L959.8 417.1 L960.2 416.3 L960.7 415.6 L961.1 414.7 L961.6 413.8 L962 412.9 L962.5 410.6 L962.9 410 L963.4 408.7 L963.8 406.6 L964.3 406.1 L964.7 405.4 L965.2 406 L965.6 406.4 L966.1 405.9 L966.5 407.2 L967 407.7 L967.4 407.1 L967.9 406.7 L968.3 411.3 L968.8 408.2 L969.2 408.9 L969.7 409.3 L970.1 409 L970.6 408.6 L971 413.6 L971.5 409.1 L971.9 411.3 L972.4 409.1 L972.8 410.1 L973.3 410.3 L973.7 411.3 L974.2 411.2 L974.6 408.3 L975.1 408.5 L975.5 412.5 L976 413.5 L976.4 413.5 L976.9 413.4 L977.3 414 L977.8 419 L978.2 415.3 L978.7 419.6 L979.1 413.8 L979.6 422.2 L980 417.5 L980.5 420.5 L980.9 418.8 L981.4 419 L981.8 422.6 L982.3 421.4 L982.7 421.6 L983.2 422.7 L983.6 421.5 L984.1 426.1 L984.5 420.9 L985 425.3 L985.4 426.4 L985.9 428.2 L986.3 426.1 L986.8 424 L987.2 423.8 L987.7 422.9 L988.1 424.1 L988.6 424.4 L989 420 L989.5 420.7 L989.9 419.2 L990.4 417.1 L990.8 415.6 L991.3 415.4 L991.7 411.7 L992.2 411.2 L992.6 411.8 L993.1 410.2 L993.5 408.6 L994 407.2 L994.4 405.1 L994.9 404.2 L995.3 404.8 L995.8 406.9 L996.2 401.8 L996.7 400.7 L997.1 401.3 L997.6 401.4 L998 401.1 L998.5 401 L998.9 400.3 L999.4 398.6 L999.8 401 L1000.3 400 L1000.7 399.8 L1001.2 399.6 L1001.6 402.4 L1002.1 398.8 L1002.5 398.4 L1003 399.3 L1003.4 400.4 L1003.9 399.3 L1004.3 405.2 L1004.8 402.7 L1005.2 402.5 L1005.7 402.2 L1006.1 403.1 L1006.6 402.5 L1007 402.4 L1007.5 403.3 L1007.9 403.3 L1008.4 404.7 L1008.8 402.9 L1009.3 405.8 L1009.7 409.4 L1010.2 406.4 L1010.6 409.4 L1011.1 406.4 L1011.5 407.3 L1012 409.1 L1012.4 408.6 L1012.9 407.9 L1013.3 408.4 L1013.8 409.2 L1014.2 409 L1014.7 408.9 L1015.1 410 L1015.6 409.9 L1016 409.7 L1016.5 409.5 L1016.9 412.1 L1017.4 408 L1017.8 404.4 L1018.3 405.9 L1018.7 405.5 L1019.2 404.2 L1019.6 405.2 L1020.1 405.3 L1020.5 403.4 L1021 403.1 L1021.4 402.4 L1021.9 401.4 L1022.3 399.2 L1022.8 401.5 L1023.2 403.2 L1023.7 402.4 L1024.1 403.1 L1024.6 403.1 L1025 406.7 L1025.5 402.6 L1025.9 404.2 L1026.4 404.5 L1026.8 404.5 L1027.3 404.4 L1027.7 405.3 L1028.2 406 L1028.6 405.9 L1029.1 406.7 L1029.5 407.4 L1030 409.4 L1030.4 408.4 L1030.9 408.9 L1031.3 409 L1031.8 413.9 L1032.2 414.1 L1032.7 411.6 L1033.1 412.4 L1033.6 412.9 L1034 413.1 L1034.5 414 L1034.9 413.7 L1035.4 414.7 L1035.8 415.4 L1036.3 416.4 L1036.7 416.8 L1037.2 417.3 L1037.6 417.8 L1038.1 418.2 L1038.5 418.8 L1039 419.9 L1039.4 419.7 L1039.9 420.8 L1040.3 421.3 L1040.8 421.4 L1041.2 420 L1041.7 424.4 L1042.1 422.7 L1042.6 419.5 L1043 421.8 L1043.5 422.2 L1043.9 421.6 L1044.4 421.8 L1044.8 420.9 L1045.3 420.5 L1045.7 420.5 L1046.2 418.6 L1046.6 418.8 L1047.1 418.3 L1047.5 419.5 L1048 418.5 L1048.4 418.6 L1048.9 423.5 L1049.3 421.1 L1049.8 422.6 L1050.2 422.6 L1050.7 419.9 L1051.1 427.3 L1051.6 425.4 L1052 425.4 L1052.5 429.7 L1052.9 424.9 L1053.4 423.5 L1053.8 426.2 L1054.3 426.8 L1054.7 427.5 L1055.2 427.6 L1055.6 429 L1056.1 430 L1056.5 431.1 L1057 431 L1057.4 432.1 L1057.9 432.4 L1058.3 434.4 L1058.8 434.7 L1059.2 434.8 L1059.7 433.8 L1060.1 436.1 L1060.6 437.4 L1061 438.1 L1061.5 437.9 L1061.9 436.7 L1062.4 436.9 L1062.8 436.8 L1063.3 431.4 L1063.7 436.4 L1064.2 436.4 L1064.6 436.2 L1065.1 435.1 L1065.5 434 L1066 435.4 L1066.4 434 L1066.9 433.1 L1067.3 432.8 L1067.8 433.6 L1068.2 433.3 L1068.7 432.6 L1069.1 432.2 L1069.6 432.2 L1070 432.8 L1070.5 432 L1070.9 432.8 L1071.4 435.9 L1071.8 432.5 L1072.3 437.3 L1072.7 432.1 L1073.2 434.2 L1073.6 432.8 L1074.1 436.1 L1074.5 431.9 L1075 428.5 L1075.4 431 L1075.9 433.4 L1076.3 432.4 L1076.8 434.8 L1077.2 436 L1077.7 443.6 L1078.1 439.5 L1078.6 440 L1079 444.4 L1079.5 442.8 L1079.9 443.4 L1080.4 443.1 L1080.8 442.7 L1081.3 438 L1081.7 440.5 L1082.2 439.8 L1082.6 438.8 L1083.1 439.7 L1083.5 436.5 L1084 435.4 L1084.4 437.3 L1084.9 437.2 L1085.3 435.9 L1085.8 436 L1086.2 442.4 L1086.7 437.7 L1087.1 437.9 L1087.6 437.9 L1088 437.9 L1088.5 438.3 L1088.6 437.8 L1088.6 385.2 Z" fill="#c0504d"/>
<path d="M1039 385 L1040 420 L1043 428 L1046 400 L1047 385 Z M1051 385 L1052 410 L1055 405 L1056 385Z" fill="#9bbb59"/>
<path d="M711.4 349.6 V405" stroke="#fff" stroke-width="0.9"/>
<path d="M912.7 322 V471.1" stroke="#fff" stroke-width="0.9"/>
<path d="M942.9 263.5 V461.3" stroke="#fff" stroke-width="0.9"/>
<path d="M957 307.8 V432.4" stroke="#fff" stroke-width="0.9"/>
<path d="M989.2 331.2 V425.4" stroke="#fff" stroke-width="0.9"/>
<path d="M676.5 229.7 V540.7" stroke="#868686" stroke-width="1" fill="none"/>
<path d="M676.5 385.5 H1088.3" stroke="#868686" stroke-width="1" fill="none"/>
<path d="M676.5 365.9 L677.1 364.5 L677.7 364.4 L678.3 363.2 L678.9 362.4 L679.5 361.6 L680.1 359.8 L680.7 361.3 L681.3 361.8 L681.9 360 L682.5 361.6 L683.1 361.6 L683.7 362.1 L684.3 362.3 L684.9 362.6 L685.5 360.7 L686.1 362 L686.7 361.8 L687.3 361.7 L687.9 361.7 L688.5 363.3 L689.1 362.9 L689.7 363.3 L690.3 366.1 L690.9 366 L691.5 366.6 L692.1 369 L692.7 368.4 L693.3 371.4 L693.9 372 L694.5 372.6 L695.1 371.8 L695.7 370.1 L696.3 367.3 L696.9 366.7 L697.5 367.5 L698.1 367.7 L698.7 366.9 L699.3 365.2 L699.9 365.2 L700.5 362.4 L701.1 361.5 L701.7 363.2 L702.3 359.5 L702.9 359 L703.5 360.2 L704.1 358.6 L704.7 359.7 L705.3 359.8 L705.9 360.4 L706.5 359.4 L707.1 360.3 L707.7 360.5 L708.3 361.5 L708.9 363.9 L709.5 365.8 L710.1 365.7 L710.7 366.9 L711.3 368.9 L711.9 370.3 L712.5 371.3 L713.1 370.8 L713.7 371 L714.3 371.1 L714.9 372.6 L715.5 372.4 L716.1 371.9 L716.7 371 L717.3 370.6 L717.9 372.2 L718.5 372.7 L719.1 372.6 L719.7 372.6 L720.3 371.6 L720.9 372.1 L721.5 372.9 L722.1 372 L722.7 371.3 L723.3 371.9 L723.9 370.4 L724.5 371.2 L725.1 370.7 L725.7 369.6 L726.3 368.6 L726.9 369.8 L727.5 368.8 L728.1 368.9 L728.7 369.8 L729.3 370.2 L729.9 370.6 L730.5 371.8 L731.1 370.2 L731.7 367.8 L732.3 367.2 L732.9 365.6 L733.5 365 L734.1 362.9 L734.7 364.7 L735.3 363.5 L735.9 362.8 L736.5 362.2 L737.1 361.8 L737.7 362.1 L738.3 362.7 L738.9 363.1 L739.5 362.5 L740.1 360.8 L740.7 362 L741.3 361.7 L741.9 362.3 L742.5 362.5 L743.1 361.8 L743.7 362.4 L744.3 361.1 L744.9 362.1 L745.5 359.1 L746.1 360.3 L746.7 357.8 L747.3 358.9 L747.9 357.5 L748.5 356.5 L749.1 356.4 L749.7 357.3 L750.3 355.8 L750.9 355.7 L751.5 354.3 L752.1 355.6 L752.7 355.9 L753.3 354.9 L753.9 355.1 L754.5 354.7 L755.1 352.1 L755.7 352.6 L756.3 350.5 L756.9 349.2 L757.5 351 L758.1 351.4 L758.7 349.8 L759.3 350.2 L759.9 351.5 L760.5 351 L761.1 350.8 L761.7 350.9 L762.3 349.5 L762.9 349.1 L763.5 346.9 L764.1 347.6 L764.7 347.2 L765.3 349.3 L765.9 351.1 L766.5 352.8 L767.1 355.4 L767.7 356.3 L768.3 358.8 L768.9 356.8 L769.5 358.9 L770.1 356.9 L770.7 354.2 L771.3 356.5 L771.9 357.2 L772.5 356 L773.1 357.2 L773.7 357 L774.3 355.6 L774.9 354.7 L775.5 354.8 L776.1 352.7 L776.7 352.6 L777.3 352.5 L777.9 353.5 L778.5 351.9 L779.1 351.6 L779.7 351.1 L780.3 351.2 L780.9 352.8 L781.5 353.5 L782.1 352.4 L782.7 354.7 L783.3 355.6 L783.9 358.1 L784.5 356.3 L785.1 358.1 L785.7 356.6 L786.3 356.7 L786.9 355.5 L787.5 355.8 L788.1 355.6 L788.7 353.6 L789.3 354 L789.9 354.6 L790.5 351.5 L791.1 349.8 L791.7 350.7 L792.3 348.8 L792.9 347.7 L793.5 348.2 L794.1 346.4 L794.7 344.1 L795.3 345.8 L795.9 345.3 L796.5 343.1 L797.1 343.9 L797.7 342.6 L798.3 344.3 L798.9 345.1 L799.5 345.3 L800.1 344.1 L800.7 345.1 L801.3 344.8 L801.9 345 L802.5 344.9 L803.1 344.9 L803.7 348.1 L804.3 348 L804.9 350.6 L805.5 352 L806.1 353.2 L806.7 353.7 L807.3 354.4 L807.9 356.5 L808.5 357.8 L809.1 360.3 L809.7 361.2 L810.3 362.5 L810.9 363.3 L811.5 364.3 L812.1 365.3 L812.7 366.8 L813.3 369.5 L813.9 370.3 L814.5 368.6 L815.1 369.6 L815.7 371.6 L816.3 372.1 L816.9 371.7 L817.5 371.9 L818.1 374.7 L818.7 374.6 L819.3 372.6 L819.9 372.5 L820.5 370.5 L821.1 369.5 L821.7 367.8 L822.3 366.4 L822.9 365.4 L823.5 362.5 L824.1 360.9 L824.7 360.6 L825.3 358.8 L825.9 357.1 L826.5 356.4 L827.1 355.8 L827.7 355.3 L828.3 354.3 L828.9 353.4 L829.5 355.4 L830.1 356.6 L830.7 357.3 L831.3 357 L831.9 358.8 L832.5 360.8 L833.1 359.8 L833.7 362.2 L834.3 360.1 L834.9 362.4 L835.5 362.2 L836.1 362.4 L836.7 362.4 L837.3 362.3 L837.9 363.2 L838.5 363.9 L839.1 364.7 L839.7 364.9 L840.3 368.8 L840.9 369.2 L841.5 368.9 L842.1 371.1 L842.7 370.6 L843.3 368.4 L843.9 367.7 L844.5 366.1 L845.1 364.1 L845.7 363.1 L846.3 359.3 L846.9 357.5 L847.5 356.8 L848.1 357.6 L848.7 357 L849.3 355.1 L849.9 353.8 L850.5 352.4 L851.1 354.2 L851.7 354.4 L852.3 354.5 L852.9 354.7 L853.5 353.7 L854.1 354.2 L854.7 351.4 L855.3 350.8 L855.9 349.6 L856.5 350 L857.1 350 L857.7 349.6 L858.3 349.2 L858.9 353.6 L859.5 355 L860.1 358.4 L860.7 357.6 L861.3 355.2 L861.9 355.4 L862.5 356 L863.1 355.6 L863.7 354.6 L864.3 353 L864.9 351.6 L865.5 349.7 L866.1 349.7 L866.7 348.1 L867.3 345 L867.9 341.6 L868.5 339.2 L869.1 335.8 L869.7 334.5 L870.3 336.7 L870.9 342.4 L871.5 346.6 L872.1 353.3 L872.7 359.2 L873.3 361.9 L873.9 364.4 L874.5 364.8 L875.1 362.6 L875.7 362 L876.3 359.8 L876.9 357.6 L877.5 357.6 L878.1 356.4 L878.7 354.3 L879.3 354 L879.9 354.4 L880.5 352.3 L881.1 352.4 L881.7 350.2 L882.3 349 L882.9 349.1 L883.5 352.5 L884.1 352.8 L884.7 355.4 L885.3 358.3 L885.9 360.6 L886.5 362.6 L887.1 364.9 L887.7 368.2 L888.3 371.1 L888.9 374.1 L889.5 374.9 L890.1 372.1 L890.7 369.6 L891.3 367.7 L891.9 364.9 L892.5 361.4 L893.1 362.9 L893.7 365.9 L894.3 368.2 L894.9 367.4 L895.5 370.2 L896.1 372 L896.7 373 L897.3 375.7 L897.9 380 L898.5 381.5 L899.1 384.6 L899.7 386.3 L900.3 388 L900.9 390.2 L901.5 390.2 L902.1 391.3 L902.7 391.2 L903.3 386.1 L903.9 382.2 L904.5 378.1 L905.1 377.5 L905.7 373.5 L906.3 373.4 L906.9 374.7 L907.5 376.1 L908.1 378 L908.7 380.3 L909.3 381.2 L909.9 384 L910.5 385.9 L911.1 388.6 L911.7 390.5 L912.3 390.2 L912.9 399.2 L913.5 406.3 L914.1 413.9 L914.7 419.6 L915.3 425.8 L915.9 431.3 L916.5 435.8 L917.1 428.5 L917.7 416.9 L918.3 405.8 L918.9 394.9 L919.5 381.4 L920.1 386.8 L920.7 394.5 L921.3 400.5 L921.9 408.6 L922.5 409.4 L923.1 407.8 L923.7 404.7 L924.3 401.1 L924.9 398.6 L925.5 393.6 L926.1 386.4 L926.7 381.3 L927.3 375.4 L927.9 369.5 L928.5 363.1 L929.1 360.2 L929.7 354.4 L930.3 353 L930.9 349.1 L931.5 347.4 L932.1 344.2 L932.7 336.5 L933.3 332.9 L933.9 328.2 L934.5 329.7 L935.1 332.4 L935.7 334.6 L936.3 337.5 L936.9 339 L937.5 340.5 L938.1 339.1 L938.7 338.7 L939.3 336.6 L939.9 334.8 L940.5 334.1 L941.1 333 L941.7 331.8 L942.3 331.3 L942.9 328.9 L943.5 332 L944.1 335.8 L944.7 341.3 L945.3 345.1 L945.9 350.3 L946.5 354.7 L947.1 359.3 L947.7 357.2 L948.3 353 L948.9 350.7 L949.5 344.8 L950.1 339.8 L950.7 337.9 L951.3 343.1 L951.9 349.4 L952.5 353.7 L953.1 357.6 L953.7 360.5 L954.3 361.9 L954.9 359.1 L955.5 358.5 L956.1 356.3 L956.7 356.4 L957.3 356.4 L957.9 357.3 L958.5 360.3 L959.1 361.8 L959.7 363.5 L960.3 364.8 L960.9 366.8 L961.5 367.4 L962.1 368.2 L962.7 367.6 L963.3 370.4 L963.9 369.5 L964.5 370.3 L965.1 369.8 L965.7 372.4 L966.3 372.3 L966.9 371.4 L967.5 372 L968.1 370.1 L968.7 372 L969.3 371.6 L969.9 370.7 L970.5 370.8 L971.1 370.5 L971.7 368.1 L972.3 368.6 L972.9 368.6 L973.5 368.2 L974.1 368.8 L974.7 370 L975.3 368.3 L975.9 368.3 L976.5 370.1 L977.1 369.6 L977.7 369.6 L978.3 372 L978.9 370.8 L979.5 369.6 L980.1 369.8 L980.7 367.4 L981.3 365.8 L981.9 363.5 L982.5 362.3 L983.1 361.4 L983.7 359.7 L984.3 359.3 L984.9 359.9 L985.5 358.8 L986.1 361.8 L986.7 361.6 L987.3 362.7 L987.9 363.3 L988.5 362 L989.1 361.5 L989.7 362.6 L990.3 360.6 L990.9 359.3 L991.5 359.1 L992.1 359.7 L992.7 359.1 L993.3 357.9 L993.9 356.9 L994.5 356.7 L995.1 355.5 L995.7 354.8 L996.3 355 L996.9 354.8 L997.5 357.9 L998.1 360.2 L998.7 362.2 L999.3 363.3 L999.9 366.2 L1000.5 369.4 L1001.1 370.1 L1001.7 371 L1002.3 373.8 L1002.9 372.9 L1003.5 374.8 L1004.1 376.9 L1004.7 379.1 L1005.3 381.7 L1005.9 383.1 L1006.5 385.7 L1007.1 388.3 L1007.7 389.6 L1008.3 393 L1008.9 395.4 L1009.5 398.2 L1010.1 399.6 L1010.7 399.7 L1011.3 398.4 L1011.9 392.5 L1012.5 389.7 L1013.1 386.3 L1013.7 381.9 L1014.3 380.9 L1014.9 380.3 L1015.5 380.4 L1016.1 380.1 L1016.7 379.2 L1017.3 375.2 L1017.9 374.5 L1018.5 374 L1019.1 374.3 L1019.7 377.7 L1020.3 378.7 L1020.9 380.4 L1021.5 381.8 L1022.1 381.9 L1022.7 382.6 L1023.3 383.5 L1023.9 383.8 L1024.5 388 L1025.1 390.4 L1025.7 391.5 L1026.3 390.9 L1026.9 393.3 L1027.5 391.3 L1028.1 392.4 L1028.7 393.4 L1029.3 394.7 L1029.9 393 L1030.5 392.3 L1031.1 391.9 L1031.7 392.7 L1032.3 393.2 L1032.9 394.4 L1033.5 398.9 L1034.1 399.2 L1034.7 402.4 L1035.3 403.4 L1035.9 404.8 L1036.5 407.2 L1037.1 409.2 L1037.7 414.8 L1038.3 417.2 L1038.9 421.8 L1039.5 424.7 L1040.1 429.4 L1040.7 436 L1041.3 443.1 L1041.9 448.2 L1042.5 456.5 L1043.1 454.7 L1043.7 445.3 L1044.3 437 L1044.9 428 L1045.5 418.9 L1046.1 418 L1046.7 416.3 L1047.3 415.9 L1047.9 415.2 L1048.5 411.8 L1049.1 411.2 L1049.7 415.5 L1050.3 415.5 L1050.9 418.1 L1051.5 420.9 L1052.1 423.2 L1052.7 426.1 L1053.3 427.9 L1053.9 426.6 L1054.5 423.6 L1055.1 422.7 L1055.7 420.4 L1056.3 419 L1056.9 416.7 L1057.5 413.6 L1058.1 410.3 L1058.7 409 L1059.3 405.8 L1059.9 403.4 L1060.5 400.6 L1061.1 396.1 L1061.7 393 L1062.3 391.4 L1062.9 394.3 L1063.5 393.7 L1064.1 395.4 L1064.7 395.4 L1065.3 394.5 L1065.9 397.9 L1066.5 399.5 L1067.1 398.5 L1067.7 398.8 L1068.3 398 L1068.9 397.8 L1069.5 398.5 L1070.1 399 L1070.7 399.3 L1071.3 403.4 L1071.9 405.7 L1072.5 406.7 L1073.1 409.7 L1073.7 410.6 L1074.3 414.2 L1074.9 417.2 L1075.5 415.9 L1076.1 414.5 L1076.7 416.6 L1077.3 416.3 L1077.9 415.8 L1078.5 415.8 L1079.1 416.4 L1079.7 415.6 L1080.3 417.8 L1080.9 418.7 L1081.5 419.5 L1082.1 420.5 L1082.7 421.6 L1083.3 418 L1083.9 414 L1084.5 410.4 L1085.1 406.6 L1085.7 403.2 L1086.3 398.7 L1086.9 397.2 L1087.5 394.6 L1088.1 393.7 L1088.1 391.4" stroke="#3eb1a9" stroke-width="6.8" fill="none" stroke-linejoin="round"/>
<text class="s" transform="translate(660.5 235.9) scale(0.82 1)" font-size="17.5" text-anchor="end">5,000.00</text>
<text class="s" transform="translate(660.5 267) scale(0.82 1)" font-size="17.5" text-anchor="end">4,000.00</text>
<text class="s" transform="translate(660.5 298.1) scale(0.82 1)" font-size="17.5" text-anchor="end">3,000.00</text>
<text class="s" transform="translate(660.5 329.2) scale(0.82 1)" font-size="17.5" text-anchor="end">2,000.00</text>
<text class="s" transform="translate(660.5 360.3) scale(0.82 1)" font-size="17.5" text-anchor="end">1,000.00</text>
<text class="s" transform="translate(660.5 391.4) scale(0.82 1)" font-size="17.5" text-anchor="end">0.00</text>
<text class="s" transform="translate(660.5 422.5) scale(0.82 1)" font-size="17.5" text-anchor="end">-1,000.00</text>
<text class="s" transform="translate(660.5 453.6) scale(0.82 1)" font-size="17.5" text-anchor="end">-2,000.00</text>
<text class="s" transform="translate(660.5 484.7) scale(0.82 1)" font-size="17.5" text-anchor="end">-3,000.00</text>
<text class="s" transform="translate(660.5 515.8) scale(0.82 1)" font-size="17.5" text-anchor="end">-4,000.00</text>
<text class="s" transform="translate(660.5 546.9) scale(0.82 1)" font-size="17.5" text-anchor="end">-5,000.00</text>
<g transform="translate(677.5 409.5) rotate(-54) scale(0.86 1)"><text class="s" font-size="18" text-anchor="end">2017/1/3</text></g>
<g transform="translate(723.6 409.5) rotate(-54) scale(0.86 1)"><text class="s" font-size="18" text-anchor="end">2018/1/3</text></g>
<g transform="translate(769.7 409.5) rotate(-54) scale(0.86 1)"><text class="s" font-size="18" text-anchor="end">2019/1/3</text></g>
<g transform="translate(815.8 409.5) rotate(-54) scale(0.86 1)"><text class="s" font-size="18" text-anchor="end">2020/1/3</text></g>
<g transform="translate(861.9 409.5) rotate(-54) scale(0.86 1)"><text class="s" font-size="18" text-anchor="end">2021/1/3</text></g>
<g transform="translate(908 409.5) rotate(-54) scale(0.86 1)"><text class="s" font-size="18" text-anchor="end">2022/1/3</text></g>
<g transform="translate(954.1 409.5) rotate(-54) scale(0.86 1)"><text class="s" font-size="18" text-anchor="end">2023/1/3</text></g>
<g transform="translate(1000.2 409.5) rotate(-54) scale(0.86 1)"><text class="s" font-size="18" text-anchor="end">2024/1/3</text></g>
<g transform="translate(1046.3 409.5) rotate(-54) scale(0.86 1)"><text class="s" font-size="18" text-anchor="end">2025/1/3</text></g>
<rect x="649" y="176" width="29" height="11" fill="#c0504d"/>
<text class="s" transform="translate(681 187.5) scale(0.85 1)" font-size="17">豆油-菜籽油</text>
<rect x="799" y="176" width="29" height="11" fill="#9bbb59"/>
<text class="s" transform="translate(830 187.5) scale(0.865 1)" font-size="17">菜籽油-棕榈油</text>
<path d="M964.5 181.5 H991" stroke="#3eb1a9" stroke-width="5.5" stroke-linecap="round"/>
<text class="s" transform="translate(995 187.5) scale(0.855 1)" font-size="17">豆油-棕榈油</text>
<text class="s" transform="translate(625 205.5) scale(0.93 1)" font-size="13.5" font-weight="bold">元/吨</text></g>
<g><path d="M142.2 736.5 H579.7" stroke="#868686" stroke-width="1" fill="none"/>
<path d="M142.2 771.5 H579.7" stroke="#868686" stroke-width="1" fill="none"/>
<path d="M142.2 806.5 H579.7" stroke="#868686" stroke-width="1" fill="none"/>
<path d="M142.2 842.5 H579.7" stroke="#868686" stroke-width="1" fill="none"/>
<path d="M142.2 877.5 H579.7" stroke="#868686" stroke-width="1" fill="none"/>
<path d="M142.2 913.5 H579.7" stroke="#868686" stroke-width="1" fill="none"/>
<path d="M142.2 948.5 H579.7" stroke="#868686" stroke-width="1" fill="none"/>
<path d="M142.2 984.5 H579.7" stroke="#868686" stroke-width="1" fill="none"/>
<defs><clipPath id="c3clip"><rect x="146.7" y="730" width="433.5" height="289.8"/></clipPath></defs>
<g clip-path="url(#c3clip)">
<path d="M366.5 880V993.8M368.5 880V993.8M380.5 880V983.3M382.5 880V983.3M385.5 880V1007.6M387.5 880V1007.6M393.5 880V948.2M395.5 880V948.2M402.5 880V1019.8M404.5 880V1019.8M420.5 880V978.7M422.5 880V978.7M429.5 880V974.5M431.5 880V974.5M437.5 880V959.3M439.5 880V959.3M441.5 880V1019.8M443.5 880V1019.8M445.5 880V963.9M447.5 880V963.9M449.5 880V948.7M451.5 880V948.7M454.5 880V1019.8M456.5 880V1019.8M458.5 880V964.3M460.5 880V964.3M473.5 880V955.5M475.5 880V955.5M477.5 880V946M479.5 880V946M481.5 880V995.2M483.5 880V995.2M486.5 880V998.2M488.5 880V998.2M491.5 880V969.9M493.5 880V969.9M504.5 880V1003.3M506.5 880V1003.3M512.5 880V972.8M514.5 880V972.8M516.5 880V996.6M518.5 880V996.6M521.5 880V1008.2M523.5 880V1008.2M526.5 880V1011.2M528.5 880V1011.2M547.5 880V1019.8M549.5 880V1019.8" stroke="#d9837a" stroke-width="1" fill="none" opacity="0.85" shape-rendering="crispEdges"/>
<path d="M371.5 880V964M373.5 880V964M375.5 880V970.2M377.5 880V970.2M389.5 880V976.1M391.5 880V976.1M397.5 880V973.2M399.5 880V973.2M411.5 880V999.5M413.5 880V999.5M415.5 880V999.9M417.5 880V999.9M425.5 880V1019.8M427.5 880V1019.8M433.5 880V1019.8M435.5 880V1019.8M463.5 880V945.3M465.5 880V945.3M495.5 880V952.6M497.5 880V952.6M499.5 880V950.7M501.5 880V950.7M530.5 880V1019.8M532.5 880V1019.8M534.5 880V995.2M536.5 880V995.2M539.5 880V948.2M541.5 880V948.2M543.5 880V986.3M545.5 880V986.3M341.5 960V1019.8M343.5 960V1019.8M345.5 960V1019.8M347.5 960V1019.8M349.5 960V1019.8M351.5 960V1019.8M353.5 960V1019.8M355.5 960V1019.8M357.5 960V1019.8M359.5 960V1019.8M361.5 960V1019.8M363.5 960V1019.8M365.5 960V1019.8" stroke="#e8853a" stroke-width="1" fill="none" opacity="0.85" shape-rendering="crispEdges"/>
<path d="M407.5 880V987.6M409.5 880V987.6M468.5 880V960.6M470.5 880V960.6M508.5 880V1019.8M510.5 880V1019.8" stroke="#8f9fd6" stroke-width="1" fill="none" opacity="0.85" shape-rendering="crispEdges"/>
<path d="M147.2 771.3V1016.4M148.7 771.3V1016.4M150.2 771.3V1016.4M151.7 771.3V1020.8M153.2 771.3V1020.8M154.7 771.3V1020.8M156.2 771.3V1033.2M157.7 771.3V1033.2M159.2 771.3V1033.2M160.7 771.3V1046M162.2 771.3V1046M163.7 771.3V1046M165.2 771.3V1022M166.7 771.3V1022M168.2 771.3V1022M169.7 771.3V1020.8M171.2 771.3V1020.8M172.7 771.3V1020.8M174.2 771.3V1026.1M175.7 771.3V1026.1M177.2 771.3V1026.1M178.7 771.3V1049.2M180.2 771.3V1049.2M181.7 771.3V1049.2M183.2 771.3V1022.4M184.7 771.3V1022.4M186.2 771.3V1022.4M187.7 771.3V1048.5M189.2 771.3V1048.5M190.7 771.3V1048.5M192.2 771.3V1045M193.7 771.3V1045M195.2 771.3V1045M196.7 771.3V1021.9M198.2 771.3V1021.9M199.7 771.3V1021.9M201.2 771.3V1039.5M202.7 771.3V1039.5M204.2 771.3V1039.5M205.7 771.3V1035.6M207.2 771.3V1035.6M208.7 771.3V1035.6M210.2 771.3V1034.1M211.7 771.3V1034.1M213.2 771.3V1034.1M214.7 771.3V1059.7M216.2 771.3V1059.7M217.7 771.3V1059.7M219.2 771.3V1020M220.7 771.3V1020M222.2 771.3V1020M223.7 771.3V1016.8M225.2 771.3V1016.8M226.7 771.3V1016.8M228.2 771.3V1057.3M229.7 771.3V1057.3M231.2 771.3V1057.3M232.7 771.3V1033.6M234.2 771.3V1033.6M235.7 771.3V1033.6M237.2 771.3V1024.6M238.7 771.3V1024.6M240.2 771.3V1024.6M241.7 771.3V1030.4M243.2 771.3V1030.4M244.7 771.3V1030.4M246.2 771.3V1032M247.7 771.3V1032M249.2 771.3V1032M250.7 771.3V1057.9M252.2 771.3V1057.9M253.7 771.3V1057.9M255.2 771.3V1025.2M256.7 771.3V1025.2M258.2 771.3V1025.2M259.7 771.3V1025.4M261.2 771.3V1025.4M262.7 771.3V1025.4M264.2 771.3V1041.6M265.7 771.3V1041.6M267.2 771.3V1041.6M268.7 771.3V1040M270.2 771.3V1040M271.7 771.3V1040M273.2 771.3V1057.9M274.7 771.3V1057.9M276.2 771.3V1057.9M277.7 771.3V1052.8M279.2 771.3V1052.8M280.7 771.3V1052.8M282.2 771.3V1031.5M283.7 771.3V1031.5M285.2 771.3V1031.5M286.7 771.3V1024.9M288.2 771.3V1024.9M289.7 771.3V1024.9M291.2 771.3V1052.7M292.7 771.3V1052.7M294.2 771.3V1052.7M295.7 771.3V1059.4M297.2 771.3V1059.4M298.7 771.3V1059.4M300.2 771.3V1017.2M301.7 771.3V1017.2M303.2 771.3V1017.2M304.7 771.3V1048.2M306.2 771.3V1048.2M307.7 771.3V1048.2M309.2 771.3V1054.1M310.7 771.3V1054.1M312.2 771.3V1054.1M313.7 771.3V1044.6M315.2 771.3V1044.6M316.7 771.3V1044.6M318.2 771.3V1025.5M319.7 771.3V1025.5M321.2 771.3V1025.5M322.7 771.3V1051M324.2 771.3V1051M325.7 771.3V1051M327.2 771.3V1048M328.7 771.3V1048M330.2 771.3V1048M331.7 771.3V1024.4M333.2 771.3V1024.4M334.7 771.3V1024.4M336.2 771.3V1044.1M337.7 771.3V1044.1M339.2 771.3V1028.1M340.7 771.3V989.5M342.2 771.3V981M343.7 771.3V975.4M345.2 771.3V962.8M346.7 771.3V963.7M348.2 771.3V964.6M349.7 771.3V978.4M351.2 771.3V979.3M352.7 771.3V980.2M354.2 771.3V981M355.7 771.3V981.9M357.2 771.3V982.8M358.7 771.3V986.4M360.2 771.3V987.3M361.7 771.3V988.2M363.2 771.3V982.8M364.7 771.3V962M366.2 771.3V951.8M367.7 771.3V955.9M369.2 771.3V956.5M370.7 771.3V957.1M372.2 771.3V963.2M373.7 771.3V950.4M375.2 771.3V932.8M376.7 771.3V933.7M378.2 771.3V933.9M379.7 771.3V934.1M381.2 771.3V935M382.7 771.3V935.2M384.2 771.3V935.4M385.7 771.3V926.6M387.2 771.3V926.8M388.7 771.3V927M390.2 771.3V905.9M391.7 771.3V906.1M393.2 771.3V913.1M394.7 771.3V920.1M396.2 771.3V920.1M397.7 771.3V920.1M399.2 771.3V926M400.7 771.3V907.2M402.2 771.3V907.4M403.7 771.3V904.3M405.2 771.3V904.5M406.7 771.3V904.8M408.2 771.3V910.8M409.7 771.3V911M411.2 771.3V911.3M412.7 771.3V896.1M414.2 771.3V921.6M415.7 771.3V923M417.2 771.3V927.4M418.7 771.3V927.4M420.2 771.3V927.4M421.7 771.3V959.4M423.2 771.3V958M424.7 771.3V946M426.2 771.3V928.3M427.7 771.3V928.9M429.2 771.3V929.5M430.7 771.3V934.2M432.2 771.3V934.8M433.7 771.3V935.4M435.2 771.3V909.7M436.7 771.3V906.1M438.2 771.3V895.6M439.7 771.3V908.5M441.2 771.3V909M442.7 771.3V909.5M444.2 771.3V932.5M445.7 771.3V927.8M447.2 771.3V919.7M448.7 771.3V908.4M450.2 771.3V908.7M451.7 771.3V908.9M453.2 771.3V924.2M454.7 771.3V924.4M456.2 771.3V924.6M457.7 771.3V889.9M459.2 771.3V890.1M460.7 771.3V890.4M462.2 771.3V934.1M463.7 771.3V954.2M465.2 771.3V954.2M466.7 771.3V969.4M468.2 771.3V969.4M469.7 771.3V919.2M471.2 771.3V903.5M472.7 771.3V903.5M474.2 771.3V903.5M475.7 771.3V916.5M477.2 771.3V903M478.7 771.3V899.3M480.2 771.3V889.7M481.7 771.3V890.2M483.2 771.3V890.6M484.7 771.3V871.5M486.2 771.3V871.9M487.7 771.3V872.4M489.2 771.3V872M490.7 771.3V872.4M492.2 771.3V872.8M493.7 771.3V917.5M495.2 771.3V928.5M496.7 771.3V944.9M498.2 771.3V926.5M499.7 771.3V926.9M501.2 771.3V927.3M502.7 771.3V931M504.2 771.3V931.3M505.7 771.3V931.7M507.2 771.3V944.6M508.7 771.3V944.6M510.2 771.3V944.6M511.7 771.3V961.2M513.2 771.3V961.2M514.7 771.3V961.2M516.2 771.3V941.4M517.7 771.3V942M519.2 771.3V942.7M520.7 771.3V926.7M522.2 771.3V927.4M523.7 771.3V928M525.2 771.3V929.7M526.7 771.3V936.8M528.2 771.3V945.1M529.7 771.3V957.5M531.2 771.3V957.2M532.7 771.3V956.8M534.2 771.3V933.9M535.7 771.3V933.6M537.2 771.3V922M538.7 771.3V915.9M540.2 771.3V916.4M541.7 771.3V916.8M543.2 771.3V927.8M544.7 771.3V928.2M546.2 771.3V940M547.7 771.3V960M549.2 771.3V960M550.7 771.3V1022.3M552.2 771.3V1012.4M553.7 771.3V1012.4M555.2 771.3V1012.4M556.7 771.3V1015.6M558.2 771.3V1015.6M559.7 771.3V1015.6M561.2 771.3V1016.8M562.7 771.3V1016.8M564.2 771.3V1016.8M565.7 771.3V1042.6M567.2 771.3V1042.6M568.7 771.3V1042.6M570.2 771.3V1041.2M571.7 771.3V1041.2M573.2 771.3V1041.2M574.7 771.3V1053.5M576.2 771.3V1053.5M577.7 771.3V1053.5M579.2 771.3V1044.5M579.7 771.3V1044.5" stroke="#4bacc6" stroke-width="4.2" stroke-linecap="round" fill="none"/>
<path d="M375 771.2 L376 767.5 L379.3 767.5 L380.4 771.2 L385.9 771.2 L387 765.3 L390.7 763.1 L391.6 754.8 L394.6 754.8 L395.7 771.2 L401.8 771.2 L402.5 762 L405.5 762 L406.2 771.2 L446.6 771.2 L447.3 762 L451 762 L451.6 771.2 L478.1 771.2 L478.7 756.1 L482 756.1 L482.7 771.2 L514.1 771.2 L514.8 756.1 L518.1 756.1 L518.7 771.2 L571.2 771.2 L571.6 752.6 L575.1 752.6 L575.5 763.1 L578.6 763.1 L579.2 771.2 Z" fill="#4bacc6" stroke="#4bacc6" stroke-width="1.5" stroke-linejoin="round"/>
<path d="M147.2 1007.9V1019.8M152.4 1009.5V1019.8M154.4 1008.1V1019.8M156 1010.7V1019.8M158.1 1011.8V1019.8M172.7 1006.9V1019.8M175 999.9V1019.8M200.3 1005.2V1019.8M206.5 995.5V1019.8M208.4 1003.2V1019.8M217.8 991.9V1019.8M238.8 1018.4V1019.8M243.4 1019.5V1019.8M253 996V1019.8M319.4 998V1019.8M323.8 986.1V1019.8M338.2 948V1019.8M340.4 958.7V1019.8M345.1 999.8V1019.8M348.9 980.9V1019.8M344.4 959.7V1019.8M350.5 944.1V982M358.7 960.9V1019.8M373.5 845.7V879.9M388.4 844V920.9M418.8 866.1V890.7M439.1 875.1V902.7M464.5 886.4V951.7M471.1 859.9V917.6M485.5 868.8V891.4M494.7 851.1V902.4M499.5 896.4V960.3M507.8 874.3V917.6M512.4 876.2V926.7M517.5 903.7V934.6M521.6 896V946.9M539 902.1V978.2M542.5 883.2V959.3M554.1 971.7V1001.6M563.8 978.4V1019.8M570.1 989.7V1019.8" stroke="#c49a6c" stroke-width="0.8" fill="none"/>
<path d="M149.1 995.3V1019.8M170.1 983.4V1019.8M180.5 997.2V1019.8M202.4 984.9V1019.8M210.4 986.2V1019.8M215.6 985.3V1019.8M220 991.5V1019.8M221.9 998.9V1019.8M241.2 1016.6V1019.8M247.8 1002.3V1019.8M255 1019.2V1019.8M326 990.1V1019.8M333.6 970.5V1019.8M336.2 951V1019.8M346.8 975.1V1019.8" stroke="#ffffff" stroke-width="0.8" fill="none"/>
<path d="M150.7 1004.6V1019.8M167.6 985.2V1019.8M176.5 1008.5V1019.8M178.7 984.2V1019.8M177.4 946.9V1019.8M179.7 965.5V1019.8M204.8 991V1019.8M236.4 1006.8V1019.8M245.4 1018.2V1019.8M250.5 1007V1019.8M321.4 986.2V1019.8M343.4 989V1019.8M355.5 950V1019.8M378.3 851.8V926.9M382.5 858.1V899.4M404.7 868.1V916M411 874.9V933.2M426.6 863V907.9M442.7 878.3V941.4M449 863.8V938.2M453.9 860.5V897.1M457.7 868.3V899.6M477 874.2V901.2M482.1 876.5V923.8M524.9 886.7V930M558.3 991.4V1010.2M574.8 991.9V1019.8" stroke="#e0884a" stroke-width="0.8" fill="none"/>
<path d="M363.1 957.8V1019.8M368.4 858.2V932M393.5 870.3V953.1M399.9 866.4V907.6M414.3 865.9V914.2M421.9 872V907.7M432.8 877.9V901.7M460.8 881.6V950.3M467.7 883V940M490.6 851.4V873.7M504.1 885.6V960.9M528.5 890.3V957.1M533 888.1V923.8M548.4 876.2V909.9" stroke="#b9a58c" stroke-width="0.8" fill="none"/>
<path d="M147.2 771.3V868.8M148.6 771.3V868.8M150 771.3V870.5M151.4 771.3V870.5M152.8 771.3V871.5M154.2 771.3V871.5M155.6 771.3V879.4M157 771.3V889.2M158.4 771.3V892M159.8 771.3V897.6M161.2 771.3V905.9M162.6 771.3V913.7M164 771.3V917.4M165.4 771.3V912.4M166.8 771.3V908.9M168.2 771.3V900.5M169.6 771.3V902.1M171 771.3V902.1M172.4 771.3V898.2M173.8 771.3V892.2M175.2 771.3V887M176.6 771.3V879.2M178 771.3V878.5M179.4 771.3V878.5M180.8 771.3V875.5M182.2 771.3V879M183.6 771.3V878.1M185 771.3V892M186.4 771.3V917.8M187.8 771.3V930.9M189.2 771.3V931.8M190.6 771.3V918M192 771.3V899.8M193.4 771.3V889.8M194.8 771.3V894.2M196.2 771.3V890M197.6 771.3V888.4M199 771.3V887M200.4 771.3V885.5M201.8 771.3V884.1M203.2 771.3V884.1M204.6 771.3V875.5M206 771.3V857.2M207.4 771.3V857.2M208.8 771.3V855.8M210.2 771.3V866.3M211.6 771.3V871.6M213 771.3V855.7M214.4 771.3V850.1M215.8 771.3V849.3M217.2 771.3V839.1M218.6 771.3V839.4M220 771.3V840.2M221.4 771.3V840.4M222.8 771.3V839.1M224.2 771.3V839.4M225.6 771.3V840.7M227 771.3V845.6M228.4 771.3V850.4M229.8 771.3V855.3M231.2 771.3V859.7M232.6 771.3V860.4M234 771.3V858.9M235.4 771.3V854.8M236.8 771.3V851.9M238.2 771.3V850.7M239.6 771.3V859.8M241 771.3V861.5M242.4 771.3V854M243.8 771.3V863.1M245.2 771.3V883.9M246.6 771.3V893.3M248 771.3V893.5M249.4 771.3V894.6M250.8 771.3V893.7M252.2 771.3V895.5M253.6 771.3V898.4M255 771.3V901.2M256.4 771.3V906.9M257.8 771.3V911.8M259.2 771.3V914.5M260.6 771.3V920M262 771.3V924.1M263.4 771.3V932.5M264.8 771.3V932.2M266.2 771.3V928.4M267.6 771.3V919.6M269 771.3V907.5M270.4 771.3V899.1M271.8 771.3V900M273.2 771.3V908M274.6 771.3V913.7M276 771.3V914M277.4 771.3V921M278.8 771.3V919.9M280.2 771.3V921.3M281.6 771.3V927.6M283 771.3V924.1M284.4 771.3V920.7M285.8 771.3V915M287.2 771.3V911.5M288.6 771.3V912.5M290 771.3V909.1M291.4 771.3V901.7M292.8 771.3V890.9M294.2 771.3V890.9M295.6 771.3V892.3M297 771.3V901.6M298.4 771.3V918.2M299.8 771.3V911.8M301.2 771.3V895.3M302.6 771.3V886.2M304 771.3V886.1M305.4 771.3V885.2M306.8 771.3V887.4M308.2 771.3V892.1M309.6 771.3V894M311 771.3V888.4M312.4 771.3V880.9M313.8 771.3V875.3M315.2 771.3V861.6M316.6 771.3V847.6M318 771.3V844.9M319.4 771.3V842.2M320.8 771.3V839M322.2 771.3V839M323.6 771.3V851.8M325 771.3V865.8M326.4 771.3V869M327.8 771.3V867.6M329.2 771.3V871.7M330.6 771.3V870M332 771.3V866.1M333.4 771.3V863.3M334.8 771.3V858.4M336.2 771.3V864M337.6 771.3V868.5M339 771.3V874.1M340.4 771.3V866.1M341.8 771.3V865.4M343.2 771.3V861.3M344.6 771.3V861.9M346 771.3V870M347.4 771.3V876.3M348.8 771.3V886.1M350.2 771.3V883.3M351.6 771.3V874.2M353 771.3V871.4M354.4 771.3V873.8M355.8 771.3V868.2M357.2 771.3V858.5M358.6 771.3V857.6M360 771.3V858.7M361.4 771.3V858.7M362.8 771.3V858.3M364.2 771.3V854.1M365.6 771.3V847.8M367 771.3V849.4M368.4 771.3V848.9M369.8 771.3V854.5M371.2 771.3V855.5M372.6 771.3V848.5M374 771.3V846.2M375.4 771.3V847.6M376.8 771.3V849.3M378.2 771.3V851.2M379.6 771.3V864.4M381 771.3V866.5M382.4 771.3V854.5M383.8 771.3V844.5M385.2 771.3V861.2M386.6 771.3V873.3M388 771.3V876.5M389.4 771.3V879.8M390.8 771.3V877.6M392.2 771.3V881M393.6 771.3V871.2M395 771.3V855M396.4 771.3V849.6M397.8 771.3V844.7M399.2 771.3V835.2M400.6 771.3V836.2M402 771.3V832.6M403.4 771.3V833.6M404.8 771.3V837.3M406.2 771.3V828.7M407.6 771.3V808.7M409 771.3V815.4M410.4 771.3V826.2M411.8 771.3V834.1M413.2 771.3V838.1M414.6 771.3V849.4M416 771.3V879.4M417.4 771.3V887.2M418.8 771.3V891.8M420.2 771.3V893.2M421.6 771.3V882.5M423 771.3V879M424.4 771.3V882.4M425.8 771.3V880M427.2 771.3V876.8M428.6 771.3V875.8M430 771.3V873.7M431.4 771.3V872.7M432.8 771.3V874.2M434.2 771.3V869.7M435.6 771.3V858.8M437 771.3V854.4M438.4 771.3V866.4M439.8 771.3V874.8M441.2 771.3V870.8M442.6 771.3V873.6M444 771.3V887.6M445.4 771.3V887.8M446.8 771.3V874.9M448.2 771.3V871.4M449.6 771.3V865.4M451 771.3V860.5M452.4 771.3V866.1M453.8 771.3V861.8M455.2 771.3V858.8M456.6 771.3V857.7M458 771.3V856M459.4 771.3V859.6M460.8 771.3V877.5M462.2 771.3V880.1M463.6 771.3V872.1M465 771.3V868.7M466.4 771.3V862.2M467.8 771.3V862.7M469.2 771.3V866.5M470.6 771.3V867.9M472 771.3V869M473.4 771.3V858.7M474.8 771.3V854.5M476.2 771.3V861M477.6 771.3V858.6M479 771.3V856.5M480.4 771.3V856.9M481.8 771.3V854.8M483.2 771.3V854.7M484.6 771.3V854.7M486 771.3V860.1M487.4 771.3V860.1M488.8 771.3V849.5M490.2 771.3V850.2M491.6 771.3V860.7M493 771.3V861.4M494.4 771.3V855.2M495.8 771.3V855.9M497.2 771.3V860.2M498.6 771.3V874.9M500 771.3V878.8M501.4 771.3V877.9M502.8 771.3V877M504.2 771.3V887.3M505.6 771.3V907.1M507 771.3V911.4M508.4 771.3V908.7M509.8 771.3V910.6M511.2 771.3V918.1M512.6 771.3V919.7M514 771.3V910.9M515.4 771.3V903.5M516.8 771.3V894.7M518.2 771.3V887.2M519.6 771.3V871.1M521 771.3V862.2M522.4 771.3V859.7M523.8 771.3V868.5M525.2 771.3V882.2M526.6 771.3V885.8M528 771.3V880.9M529.4 771.3V881.8M530.8 771.3V877.5M532.2 771.3V878.4M533.6 771.3V886.8M535 771.3V893.8M536.4 771.3V910.4M537.8 771.3V904.1M539.2 771.3V895.6M540.6 771.3V887.2M542 771.3V872.1M543.4 771.3V866.5M544.8 771.3V867.7M546.2 771.3V877.1M547.6 771.3V891.3M549 771.3V902.5M550.4 771.3V964.7M551.8 771.3V997.1M553.2 771.3V991.8M554.6 771.3V990.4M556 771.3V992.8M557.4 771.3V981.6M558.8 771.3V968.4M560.2 771.3V966.5M561.6 771.3V961.6M563 771.3V959.7M564.4 771.3V953.8M565.8 771.3V951.9M567.2 771.3V955.9M568.6 771.3V956.2M570 771.3V966.6M571.4 771.3V974M572.8 771.3V967.1M574.2 771.3V966.2M575.6 771.3V969.3M577 771.3V977.7M578.4 771.3V993.7M579.7 771.3V1000.7" stroke="#2f8872" stroke-width="3.6" stroke-linecap="round" fill="none"/>
<path d="M340.9 864.7V894.7M346.2 872.6V902.6M356.2 861.1V891.1M363.6 857.8V887.8M369.8 859.1V889.1M382.4 851.1V881.1M395.5 841.9V871.9M403.3 839.4V869.4M406.4 823.2V853.2M411.5 826.8V856.8M414.1 856.2V886.2M423.9 866.6V896.6M431.6 863V893M438.7 870.4V900.4M450.1 860.8V890.8M456.2 856.7V886.7M462.2 857.1V887.1M465.4 874.5V904.5M470.9 870.1V900.1M474.1 856.9V886.9M480.7 860.6V890.6M486.1 858.9V888.9M493.8 861.1V891.1M501.5 886.5V916.5M506.9 909.4V939.4M514.1 907.7V937.7M521.1 870.9V900.9M528.8 886.8V916.8M541.9 874.4V904.4M549.5 902.1V932.1" stroke="#4bacc6" stroke-width="4.4" stroke-linecap="round" fill="none"/>
<path d="M557.4 966.3V1019.8M561.8 968.5V1019.8M568.3 955.4V1019.8M574.9 970.7V1019.8M578.1 977.2V1019.8M552.4 1007.8V1019.8" stroke="#4bacc6" stroke-width="5" stroke-linecap="round" fill="none"/>
<path d="M147.2 771.3V802.6M148.6 771.3V802.6M150 771.3V803.2M151.4 771.3V803.2M152.8 771.3V805.1M154.2 771.3V805.1M155.6 771.3V799.8M157 771.3V801.2M158.4 771.3V806.3M159.8 771.3V807.7M161.2 771.3V827.5M162.6 771.3V838.6M164 771.3V838.8M165.4 771.3V838.8M166.8 771.3V827.4M168.2 771.3V812M169.6 771.3V812.2M171 771.3V812.2M172.4 771.3V811.8M173.8 771.3V811.8M175.2 771.3V810.7M176.6 771.3V810.7M178 771.3V812.7M179.4 771.3V807.1M180.8 771.3V802.2M182.2 771.3V802.2M183.6 771.3V801.4M185 771.3V810.1M186.4 771.3V826.3M187.8 771.3V837.5M189.2 771.3V838.2M190.6 771.3V838.2M192 771.3V823.8M193.4 771.3V816.6M194.8 771.3V815.3M196.2 771.3V813.9M197.6 771.3V814.4M199 771.3V813M200.4 771.3V809.3M201.8 771.3V810.3M203.2 771.3V816.9M204.6 771.3V818M206 771.3V820.3M207.4 771.3V821.3M208.8 771.3V816.4M210.2 771.3V812.6M211.6 771.3V813.1M213 771.3V809.4M214.4 771.3V806.4M215.8 771.3V806.2M217.2 771.3V802.5M218.6 771.3V802.5M220 771.3V803.7M221.4 771.3V804.4M222.8 771.3V801.6M224.2 771.3V804.4M225.6 771.3V806.6M227 771.3V809.4M228.4 771.3V821.4M229.8 771.3V824.2M231.2 771.3V817.2M232.6 771.3V817.2M234 771.3V816.5M235.4 771.3V815.5M236.8 771.3V821.2M238.2 771.3V820M239.6 771.3V817.4M241 771.3V816.9M242.4 771.3V813M243.8 771.3V815.3M245.2 771.3V824.9M246.6 771.3V831.6M248 771.3V833.6M249.4 771.3V836.4M250.8 771.3V838.8M252.2 771.3V837.9M253.6 771.3V834.3M255 771.3V831.8M256.4 771.3V834.1M257.8 771.3V833M259.2 771.3V831.4M260.6 771.3V831.9M262 771.3V833.4M263.4 771.3V829.7M264.8 771.3V821.1M266.2 771.3V815.8M267.6 771.3V813.4M269 771.3V811.7M270.4 771.3V809.2M271.8 771.3V809.5M273.2 771.3V821.6M274.6 771.3V825.3M276 771.3V823.5M277.4 771.3V822.9M278.8 771.3V820.5M280.2 771.3V820M281.6 771.3V816.1M283 771.3V816.6M284.4 771.3V817.3M285.8 771.3V817.8M287.2 771.3V815.6M288.6 771.3V810.7M290 771.3V807.8M291.4 771.3V804.4M292.8 771.3V801.9M294.2 771.3V801.9M295.6 771.3V804M297 771.3V807.5M298.4 771.3V815.2M299.8 771.3V816.4M301.2 771.3V816.3M302.6 771.3V816.3M304 771.3V820.9M305.4 771.3V820.9M306.8 771.3V819M308.2 771.3V819M309.6 771.3V817.4M311 771.3V815.3M312.4 771.3V812M313.8 771.3V809.4M315.2 771.3V808.4M316.6 771.3V805.6M318 771.3V805.3M319.4 771.3V805.3M320.8 771.3V801.3M322.2 771.3V802M323.6 771.3V803M325 771.3V807.7M326.4 771.3V814.8M327.8 771.3V814.8M329.2 771.3V813.8M330.6 771.3V813.8M332 771.3V817.8M333.4 771.3V817.8M334.8 771.3V811.3M336.2 771.3V812.7M337.6 771.3V821.7M339 771.3V823.1M340.4 771.3V816M341.8 771.3V817.4M343.2 771.3V824.1M344.6 771.3V825.5M346 771.3V825.9M347.4 771.3V827.3M348.8 771.3V827.4M350.2 771.3V828.8M351.6 771.3V832.3M353 771.3V826.7M354.4 771.3V824.3M355.8 771.3V823.9M357.2 771.3V818.2M358.6 771.3V817.8M360 771.3V820.8M361.4 771.3V820.5M362.8 771.3V821.1M364.2 771.3V820.6M365.6 771.3V814.2M367 771.3V813.7M368.4 771.3V813.6M369.8 771.3V813.1M371.2 771.3V817.7M372.6 771.3V817.1M374 771.3V815.1M375.4 771.3V811.6M376.8 771.3V805.5M378.2 771.3V805.8M379.6 771.3V806.8M381 771.3V808.2M382.4 771.3V810.5M383.8 771.3V811.5M385.2 771.3V806.7M386.6 771.3V804.4M388 771.3V808.2M389.4 771.3V805.8M390.8 771.3V804.6M392.2 771.3V802.7M393.6 771.3V796M395 771.3V794.2M396.4 771.3V787.7M397.8 771.3V788.2M399.2 771.3V793.4M400.6 771.3V794.8M402 771.3V800.7M403.4 771.3V802.8M404.8 771.3V800.1M406.2 771.3V800.5M407.6 771.3V796.9M409 771.3V795.5M410.4 771.3V796.7M411.8 771.3V800.2M413.2 771.3V809M414.6 771.3V811.4M416 771.3V809.5M417.4 771.3V808.6M418.8 771.3V804.3M420.2 771.3V803.4M421.6 771.3V806.1M423 771.3V805.6M424.4 771.3V806.5M425.8 771.3V806M427.2 771.3V807.6M428.6 771.3V807.2M430 771.3V805.4M431.4 771.3V804.9M432.8 771.3V800.4M434.2 771.3V798.9M435.6 771.3V797.1M437 771.3V791.5M438.4 771.3V792.9M439.8 771.3V794M441.2 771.3V794.5M442.6 771.3V795.7M444 771.3V794.5M445.4 771.3V794.5M446.8 771.3V792.9M448.2 771.3V792.9M449.6 771.3V791.6M451 771.3V789.7M452.4 771.3V791.2M453.8 771.3V789.4M455.2 771.3V785.2M456.6 771.3V785.4M458 771.3V787.7M459.4 771.3V789.1M460.8 771.3V785.6M462.2 771.3V787M463.6 771.3V788.3M465 771.3V791.1M466.4 771.3V795.7M467.8 771.3V799.6M469.2 771.3V807M470.6 771.3V811.2M472 771.3V807.2M473.4 771.3V799.5M474.8 771.3V788M476.2 771.3V787.7M477.6 771.3V793.2M479 771.3V798.8M480.4 771.3V808.7M481.8 771.3V806.6M483.2 771.3V795.7M484.6 771.3V794M486 771.3V801.9M487.4 771.3V801.2M488.8 771.3V799.1M490.2 771.3V799.4M491.6 771.3V797.6M493 771.3V797.8M494.4 771.3V802.3M495.8 771.3V803.7M497.2 771.3V803M498.6 771.3V805.4M500 771.3V801.3M501.4 771.3V804.1M502.8 771.3V816.2M504.2 771.3V817.2M505.6 771.3V808.2M507 771.3V804.5M508.4 771.3V813.6M509.8 771.3V818.3M511.2 771.3V818.8M512.6 771.3V818.1M514 771.3V810.6M515.4 771.3V811.5M516.8 771.3V813.4M518.2 771.3V816.2M519.6 771.3V815.8M521 771.3V810.2M522.4 771.3V812.2M523.8 771.3V808.5M525.2 771.3V811.5M526.6 771.3V814.3M528 771.3V810.8M529.4 771.3V807.3M530.8 771.3V802.6M532.2 771.3V799.1M533.6 771.3V805.7M535 771.3V809.9M536.4 771.3V818.4M537.8 771.3V818.4M539.2 771.3V817.1M540.6 771.3V816.4M542 771.3V818.6M543.4 771.3V820M544.8 771.3V822.4M546.2 771.3V823.8M547.6 771.3V823M549 771.3V824.4M550.4 771.3V826.2M551.8 771.3V826.6M553.2 771.3V823.5M554.6 771.3V844.4M556 771.3V851.3M557.4 771.3V852M558.8 771.3V859.9M560.2 771.3V859.2M561.6 771.3V856.1M563 771.3V855.4M564.4 771.3V851.7M565.8 771.3V852M567.2 771.3V850.9M568.6 771.3V851.9M570 771.3V854.8M571.4 771.3V855.8M572.8 771.3V857.2M574.2 771.3V858.6M575.6 771.3V861.5M577 771.3V865.5M578.4 771.3V869.7M579.7 771.3V872.3" stroke="#ffff00" stroke-width="3.4" stroke-linecap="round" fill="none"/>
<path d="M147.2 771.3V772.8M148.6 771.3V773.5M150 771.3V774.5M151.4 771.3V775.3M152.8 771.3V777.3M154.2 771.3V781.1M155.6 771.3V786.7M157 771.3V787.6M158.4 771.3V788.5M159.8 771.3V789.4M161.2 771.3V787.8M162.6 771.3V788.2M164 771.3V791M165.4 771.3V790.8M166.8 771.3V787.9M168.2 771.3V787.7M169.6 771.3V787M171 771.3V786.8M172.4 771.3V785.5M173.8 771.3V785.3M175.2 771.3V787.2M176.6 771.3V787M178 771.3V783.5M179.4 771.3V780M180.8 771.3V777.1M182.2 771.3V775.7M183.6 771.3V780.2M185 771.3V783M186.4 771.3V786.6M187.8 771.3V789.4M189.2 771.3V792.1M190.6 771.3V792.5M192 771.3V789.1M193.4 771.3V789.1M194.8 771.3V789M196.2 771.3V789M197.6 771.3V790M199 771.3V790M200.4 771.3V786.6M201.8 771.3V782.8M203.2 771.3V784.7M204.6 771.3V785.2M206 771.3V785.5M207.4 771.3V786M208.8 771.3V787.2M210.2 771.3V787.9M211.6 771.3V786.9M213 771.3V787.3M214.4 771.3V787.5M215.8 771.3V787.5M217.2 771.3V785.8M218.6 771.3V785.8M220 771.3V785.9M221.4 771.3V785.9M222.8 771.3V785.3M224.2 771.3V785.3M225.6 771.3V787M227 771.3V787M228.4 771.3V787.4M229.8 771.3V787.4M231.2 771.3V787.2M232.6 771.3V787.2M234 771.3V786.3M235.4 771.3V786.3M236.8 771.3V786.4M238.2 771.3V786.4M239.6 771.3V785.6M241 771.3V785.6M242.4 771.3V788.4M243.8 771.3V789.6M245.2 771.3V790.3M246.6 771.3V792.2M248 771.3V794.9M249.4 771.3V796.7M250.8 771.3V797.1M252.2 771.3V797.1M253.6 771.3V794.5M255 771.3V794.5M256.4 771.3V793.6M257.8 771.3V793.6M259.2 771.3V794.5M260.6 771.3V794.5M262 771.3V797.6M263.4 771.3V795.1M264.8 771.3V790.5M266.2 771.3V790.5M267.6 771.3V788.5M269 771.3V788.5M270.4 771.3V790.4M271.8 771.3V790.4M273.2 771.3V788.2M274.6 771.3V788.2M276 771.3V790.5M277.4 771.3V789.1M278.8 771.3V783.8M280.2 771.3V782.4M281.6 771.3V784.3M283 771.3V782.9M284.4 771.3V782.7M285.8 771.3V781.3M287.2 771.3V778.7M288.6 771.3V781.2M290 771.3V783.9M291.4 771.3V786.3M292.8 771.3V787.1M294.2 771.3V789.5M295.6 771.3V792.3M297 771.3V792.7M298.4 771.3V792.8M299.8 771.3V793.2M301.2 771.3V793.8M302.6 771.3V794.2M304 771.3V793.4M305.4 771.3V793.7M306.8 771.3V795.2M308.2 771.3V795.6M309.6 771.3V795M311 771.3V795.3M312.4 771.3V797.8M313.8 771.3V790M315.2 771.3V780M316.6 771.3V781.4M318 771.3V781.9M319.4 771.3V783.3M320.8 771.3V787M322.2 771.3V787.2M323.6 771.3V784.2M325 771.3V784.3M326.4 771.3V785.6M327.8 771.3V785.7M329.2 771.3V787.7M330.6 771.3V787.9M332 771.3V787.3M333.4 771.3V787.5M334.8 771.3V788.7M336.2 771.3V788.8M337.6 771.3V787.2M339 771.3V787.4M340.4 771.3V791.8M341.8 771.3V791.5M343.2 771.3V787.2M344.6 771.3V786.9M346 771.3V790M347.4 771.3V789.7M348.8 771.3V787.4M350.2 771.3V787.1M351.6 771.3V787.2M353 771.3V787.8M354.4 771.3V790.6M355.8 771.3V791.1M357.2 771.3V791.6M358.6 771.3V792.1M360 771.3V790.7M361.4 771.3V791.2M362.8 771.3V791.8M364.2 771.3V792.2M365.6 771.3V792.2M367 771.3V792.6M368.4 771.3V796.3M369.8 771.3V796.8M371.2 771.3V795.6M372.6 771.3V796M374 771.3V790.8M375.4 771.3V786.9M376.8 771.3V784.4M378.2 771.3V782.5M379.6 771.3V778.7M381 771.3V777.3M382.4 771.3V777M383.8 771.3V775.8M385.2 771.3V776.9M386.6 771.3V776.9M388 771.3V779.3M389.4 771.3V779.3M390.8 771.3V778.7M392.2 771.3V778.7M393.6 771.3V777.1M395 771.3V777.1M396.4 771.3V778.2M397.8 771.3V778.2M399.2 771.3V775.3M400.6 771.3V773.2M402 771.3V774.6M403.4 771.3V774.6M404.8 771.3V776.1M406.2 771.3V776.4M407.6 771.3V772.7M409 771.3V773.2M410.4 771.3V777.6M411.8 771.3V778.2M413.2 771.3V778.9M414.6 771.3V779.3M416 771.3V776.2M417.4 771.3V776.2M418.8 771.3V778.5M420.2 771.3V778.5M421.6 771.3V779.3M423 771.3V779.3M424.4 771.3V775.1M425.8 771.3V775.1M427.2 771.3V776.7M428.6 771.3V776.7M430 771.3V777.4M431.4 771.3V777.4M432.8 771.3V778.4M434.2 771.3V778.4M435.6 771.3V775.7M437 771.3V775.7M438.4 771.3V778.2M439.8 771.3V778.2M441.2 771.3V777.9M442.6 771.3V777.9M444 771.3V776M445.4 771.3V774.3M446.8 771.3V773.7M448.2 771.3V773.7M449.6 771.3V774.3M451 771.3V774.3M452.4 771.3V773.1M453.8 771.3V773.1M455.2 771.3V772.7M456.6 771.3V772.7M458 771.3V772.3M459.4 771.3V772.3M460.8 771.3V772.1M462.2 771.3V772.1M463.6 771.3V777.5M465 771.3V781.1M466.4 771.3V781.2M467.8 771.3V781.2M469.2 771.3V780.7M470.6 771.3V780.7M472 771.3V777.6M473.4 771.3V775.1M474.8 771.3V776.4M476.2 771.3V776.4M477.6 771.3V779.1M479 771.3V779.1M480.4 771.3V775.9M481.8 771.3V775.9M483.2 771.3V776.9M484.6 771.3V774.9M486 771.3V774.2M487.4 771.3V774.2M488.8 771.3V772.3M490.2 771.3V772.3M491.6 771.3V771.8M493 771.3V771.8M494.4 771.3V774.4M495.8 771.3V774.4M497.2 771.3V774.8M498.6 771.3V774.8M500 771.3V771.8M501.4 771.3V771.8M502.8 771.3V773.4M504.2 771.3V773.4M505.6 771.3V773.8M507 771.3V773.8M508.4 771.3V773.1M509.8 771.3V773.1M511.2 771.3V772.3M512.6 771.3V775.1M514 771.3V778.5M515.4 771.3V780M516.8 771.3V782.4M518.2 771.3V782.4M519.6 771.3V781.9M521 771.3V781.9M522.4 771.3V782.1M523.8 771.3V782.1M525.2 771.3V780.2M526.6 771.3V776.9M528 771.3V775.5M529.4 771.3V775.5M530.8 771.3V775M532.2 771.3V775M533.6 771.3V773.6M535 771.3V773.6M536.4 771.3V775.4M537.8 771.3V775.4M539.2 771.3V772.6M540.6 771.3V772.6M542 771.3V773.8M543.4 771.3V773.8M544.8 771.3V773.7M546.2 771.3V773.7M547.6 771.3V776M549 771.3V776M550.4 771.3V775.8M551.8 771.3V775.8M553.2 771.3V772.8M554.6 771.3V775.5M556 771.3V784.7M557.4 771.3V786M558.8 771.3V783.5M560.2 771.3V783.5M561.6 771.3V786.5M563 771.3V786.5M564.4 771.3V786.5M565.8 771.3V786.5M567.2 771.3V785.4M568.6 771.3V783.3M570 771.3V778.9M571.4 771.3V778.9M572.8 771.3V780.3M574.2 771.3V780.3M575.6 771.3V779.6M577 771.3V779.6M578.4 771.3V781.3M579.7 771.3V781.3" stroke="#7030a0" stroke-width="3.0" stroke-linecap="round" fill="none"/>
<path d="M147.2 771.3 L147.9 765.4 L155.5 766.5 L164.3 768.7 L165.4 771.3 L168.2 771.3 L168.7 765.4 L174.1 765.4 L174.8 771.3 L178 771.3 L178.5 764.3 L182.9 764.3 L183.5 771.3 L213 771.3 L213.4 764.3 L217.8 764.3 L218.5 771.3 L223.9 771.3 L224.4 768.7 L228.7 768.7 L231.6 771.3 L232 766.5 L240.8 766.5 L241.4 771.3 L264.4 771.3 L264.8 768.2 L269.2 765.4 L275.7 768.2 L283.4 768.7 L284 771.3 Z" fill="#7030a0" stroke="#7030a0" stroke-width="2" stroke-linejoin="round"/>
<path d="M453.2 771.2 L453.6 758.7 L458 758.7 L458.6 771.2 L488.1 771.2 L490.8 766.4 L495.1 763.5 L501.7 766.4 L505 766.4 L505.6 762 L508.7 762 L509.3 771.2 L519.2 771.2 L521.3 769.2 L532.3 769.2 L534.5 771.2 Z" fill="#7030a0" stroke="#7030a0" stroke-width="2" stroke-linejoin="round"/>
<path d="M147.2 771.3V772.8M148.6 771.3V773.6M150 771.3V775.1M151.4 771.3V775.9M152.8 771.3V776.6M154.2 771.3V780.4M155.6 771.3V786.2M157 771.3V787.1M158.4 771.3V785.7M159.8 771.3V786.6M161.2 771.3V790.3M162.6 771.3V790.8M164 771.3V789M165.4 771.3V788.8M166.8 771.3V789.3M168.2 771.3V789.1M169.6 771.3V788.9M171 771.3V788.7M172.4 771.3V789.2M173.8 771.3V789M175.2 771.3V786.2M176.6 771.3V786M178 771.3V784.7M179.4 771.3V781.2M180.8 771.3V779.1M182.2 771.3V777.7M183.6 771.3V780M185 771.3V782.8M186.4 771.3V785.6M187.8 771.3V785.6M189.2 771.3V784.1M190.6 771.3V784M192 771.3V785.7M193.4 771.3V785M194.8 771.3V780.5M196.2 771.3V779.8M197.6 771.3V781.9M199 771.3V781.2M200.4 771.3V780.4M201.8 771.3V781.1M203.2 771.3V780.4M204.6 771.3V781.1M206 771.3V784.4M207.4 771.3V785.1M208.8 771.3V782.7M210.2 771.3V782.5M211.6 771.3V783M213 771.3V782.7M214.4 771.3V782.9M215.8 771.3V782.6M217.2 771.3V781.7M218.6 771.3V781.5M220 771.3V781.3M221.4 771.3V781.2M222.8 771.3V781.1M224.2 771.3V781.4M225.6 771.3V784.7M227 771.3V785M228.4 771.3V782.3M229.8 771.3V782.5M231.2 771.3V783.1M232.6 771.3V783.4M234 771.3V783.3M235.4 771.3V783.6M236.8 771.3V787.2M238.2 771.3V787.5M239.6 771.3V786.3M241 771.3V786.6M242.4 771.3V788M243.8 771.3V788.1M245.2 771.3V788.7M246.6 771.3V788.7M248 771.3V786.8M249.4 771.3V786.8M250.8 771.3V786.5M252.2 771.3V786.6M253.6 771.3V786.7M255 771.3V786.8M256.4 771.3V786.4M257.8 771.3V786.5M259.2 771.3V787.9M260.6 771.3V788M262 771.3V789.6M263.4 771.3V789.7M264.8 771.3V787.9M266.2 771.3V787.9M267.6 771.3V788.8M269 771.3V788.7M270.4 771.3V789.2M271.8 771.3V789.1M273.2 771.3V788.8M274.6 771.3V788.7M276 771.3V788M277.4 771.3V788M278.8 771.3V787.4M280.2 771.3V787.3M281.6 771.3V785.5M283 771.3V785.4M284.4 771.3V786.4M285.8 771.3V786.4M287.2 771.3V788M288.6 771.3V787.4M290 771.3V785.2M291.4 771.3V784.7M292.8 771.3V783.3M294.2 771.3V779.3M295.6 771.3V777.5M297 771.3V777.4M298.4 771.3V778.6M299.8 771.3V778.5M301.2 771.3V777M302.6 771.3V776.9M304 771.3V779.1M305.4 771.3V779M306.8 771.3V779M308.2 771.3V778.9M309.6 771.3V775.5M311 771.3V775.2M312.4 771.3V777.5M313.8 771.3V777.2M315.2 771.3V774.7M316.6 771.3V774.8M318 771.3V778.3M319.4 771.3V778.3M320.8 771.3V775.3M322.2 771.3V775.3M323.6 771.3V775.2M325 771.3V775.3M326.4 771.3V778.4M327.8 771.3V778.4M329.2 771.3V777.4M330.6 771.3V777.5M332 771.3V775.2M333.4 771.3V775.4M334.8 771.3V777.4M336.2 771.3V777.6M337.6 771.3V779.2M339 771.3V779.4M340.4 771.3V775.3M341.8 771.3V775.9M343.2 771.3V778.9M344.6 771.3V779.5M346 771.3V778.3M347.4 771.3V778.9M348.8 771.3V780.1M350.2 771.3V780.7M351.6 771.3V780.9M353 771.3V780.9M354.4 771.3V779.5M355.8 771.3V779.5M357.2 771.3V780.8M358.6 771.3V780.8M360 771.3V781.4M361.4 771.3V781.4M362.8 771.3V781.7M364.2 771.3V781.7M365.6 771.3V781.4M367 771.3V781.4M368.4 771.3V780M369.8 771.3V780M371.2 771.3V781.7M372.6 771.3V781.7M374 771.3V780M375.4 771.3V779.5M376.8 771.3V781.5M378.2 771.3V781M379.6 771.3V777.2M381 771.3V776.2M382.4 771.3V777.9M383.8 771.3V776.6M385.2 771.3V771.3M386.6 771.3V771.3M388 771.3V771.9M389.4 771.3V771.9M390.8 771.3V771.3M392.2 771.3V771.3M393.6 771.3V771.5M395 771.3V771.5M396.4 771.3V772.4M397.8 771.3V772.4M399.2 771.3V772.9M400.6 771.3V772.9M402 771.3V771.3M403.4 771.3V771.3M404.8 771.3V773.2M406.2 771.3V773.2M407.6 771.3V772.3M409 771.3V772.3M410.4 771.3V771.3M411.8 771.3V771.3M413.2 771.3V772.4M414.6 771.3V772.4M416 771.3V772.9M417.4 771.3V772.9M418.8 771.3V771.3M420.2 771.3V771.3M421.6 771.3V773.2M423 771.3V773.2M424.4 771.3V771.3M425.8 771.3V771.3M427.2 771.3V771.5M428.6 771.3V771.5M430 771.3V771.3M431.4 771.3V771.3M432.8 771.3V773M434.2 771.3V773M435.6 771.3V771.3M437 771.3V771.3M438.4 771.3V771.3M439.8 771.3V771.3M441.2 771.3V773.7M442.6 771.3V773.7M444 771.3V771.3M445.4 771.3V771.3M446.8 771.3V771.5M448.2 771.3V771.5M449.6 771.3V772.5M451 771.3V772.5M452.4 771.3V771.3M453.8 771.3V771.3M455.2 771.3V772.9M456.6 771.3V772.9M458 771.3V772.4M459.4 771.3V772.4M460.8 771.3V771.6M462.2 771.3V771.6M463.6 771.3V772.9M465 771.3V772.9M466.4 771.3V773.2M467.8 771.3V773.2M469.2 771.3V771.3M470.6 771.3V771.3M472 771.3V773.5M473.4 771.3V773.5M474.8 771.3V771.7M476.2 771.3V771.7M477.6 771.3V772.8M479 771.3V772.8M480.4 771.3V772.4M481.8 771.3V772.4M483.2 771.3V773.5M484.6 771.3V773.5M486 771.3V772.7M487.4 771.3V772.7M488.8 771.3V771.3M490.2 771.3V771.3M491.6 771.3V771.3M493 771.3V771.3M494.4 771.3V771.3M495.8 771.3V771.3M497.2 771.3V771.3M498.6 771.3V771.3M500 771.3V771.3M501.4 771.3V771.3M502.8 771.3V771.8M504.2 771.3V771.8M505.6 771.3V771.7M507 771.3V771.7M508.4 771.3V771.3M509.8 771.3V771.3M511.2 771.3V772.7M512.6 771.3V772.7M514 771.3V771.3M515.4 771.3V771.3M516.8 771.3V771.4M518.2 771.3V771.4M519.6 771.3V771.4M521 771.3V771.4M522.4 771.3V772.1M523.8 771.3V772.1M525.2 771.3V773.1M526.6 771.3V773.1M528 771.3V772M529.4 771.3V772M530.8 771.3V771.3M532.2 771.3V771.3M533.6 771.3V772M535 771.3V772M536.4 771.3V771.3M537.8 771.3V771.3M539.2 771.3V771.3M540.6 771.3V771.3M542 771.3V771.9M543.4 771.3V771.9M544.8 771.3V771.3M546.2 771.3V771.3M547.6 771.3V772.8M549 771.3V772.8M550.4 771.3V771.3M551.8 771.3V771.3M553.2 771.3V771.3M554.6 771.3V771.3M556 771.3V771.8M557.4 771.3V771.8M558.8 771.3V771.3M560.2 771.3V771.3M561.6 771.3V771.3M563 771.3V771.3M564.4 771.3V773.6M565.8 771.3V773.6M567.2 771.3V771.3M568.6 771.3V771.3M570 771.3V771.3M571.4 771.3V771.3M572.8 771.3V772.7M574.2 771.3V772.7M575.6 771.3V771.6M577 771.3V771.6M578.4 771.3V772.1M579.7 771.3V772.1" stroke="#f59d0c" stroke-width="3.0" stroke-linecap="round" fill="none"/>
<path d="M540.6 771.2 L541.4 759.8 L546.5 753.3 L550.8 750 L555.2 751.7 L558.5 754.4 L562.9 757.6 L567.2 763.1 L569.4 769.7 L569.8 771.2 Z" fill="#f59d0c" stroke="#f59d0c" stroke-width="2" stroke-linejoin="round"/>
</g>
<path d="M147.2 771.3 H579.7" stroke="#b9a36a" stroke-width="1.2"/>
<path d="M147.2 774.8 H579.7" stroke="#cdb77f" stroke-width="6" stroke-dasharray="0.7 1.2" opacity="0.9"/>
<path d="M142.2 1019.8 H579.7" stroke="#868686" stroke-width="1.3" fill="none"/>
<text class="s" transform="translate(134 741.6) scale(0.88 1)" font-size="15" text-anchor="end">500</text>
<text class="s" transform="translate(134 776.5) scale(0.88 1)" font-size="15" text-anchor="end">0</text>
<text class="s" transform="translate(134 812) scale(0.88 1)" font-size="15" text-anchor="end">-500</text>
<text class="s" transform="translate(134 847.5) scale(0.88 1)" font-size="15" text-anchor="end">-1000</text>
<text class="s" transform="translate(134 883) scale(0.88 1)" font-size="15" text-anchor="end">-1500</text>
<text class="s" transform="translate(134 918.5) scale(0.88 1)" font-size="15" text-anchor="end">-2000</text>
<text class="s" transform="translate(134 954) scale(0.88 1)" font-size="15" text-anchor="end">-2500</text>
<text class="s" transform="translate(134 989.5) scale(0.88 1)" font-size="15" text-anchor="end">-3000</text>
<text class="s" transform="translate(134 1025) scale(0.88 1)" font-size="15" text-anchor="end">-3500</text>
<text class="d" transform="translate(154.8 826.8) rotate(-90) scale(1.27 1)" font-size="12" stroke="#000" stroke-width="0.3">01/04</text>
<text class="d" transform="translate(174.3 826.8) rotate(-90) scale(1.27 1)" font-size="12" stroke="#000" stroke-width="0.3">01/19</text>
<text class="d" transform="translate(193.8 826.8) rotate(-90) scale(1.27 1)" font-size="12" stroke="#000" stroke-width="0.3">02/10</text>
<text class="d" transform="translate(213.3 826.8) rotate(-90) scale(1.27 1)" font-size="12" stroke="#000" stroke-width="0.3">02/25</text>
<text class="d" transform="translate(232.8 826.8) rotate(-90) scale(1.27 1)" font-size="12" stroke="#000" stroke-width="0.3">03/14</text>
<text class="d" transform="translate(252.3 826.8) rotate(-90) scale(1.27 1)" font-size="12" stroke="#000" stroke-width="0.3">03/29</text>
<text class="d" transform="translate(271.8 826.8) rotate(-90) scale(1.27 1)" font-size="12" stroke="#000" stroke-width="0.3">04/14</text>
<text class="d" transform="translate(291.3 826.8) rotate(-90) scale(1.27 1)" font-size="12" stroke="#000" stroke-width="0.3">04/29</text>
<text class="d" transform="translate(310.8 826.8) rotate(-90) scale(1.27 1)" font-size="12" stroke="#000" stroke-width="0.3">05/19</text>
<text class="d" transform="translate(330.3 826.8) rotate(-90) scale(1.27 1)" font-size="12" stroke="#000" stroke-width="0.3">06/03</text>
<text class="d" transform="translate(349.8 826.8) rotate(-90) scale(1.27 1)" font-size="12" stroke="#000" stroke-width="0.3">06/21</text>
<text class="d" transform="translate(369.3 826.8) rotate(-90) scale(1.27 1)" font-size="12" stroke="#000" stroke-width="0.3">07/06</text>
<text class="d" transform="translate(388.8 826.8) rotate(-90) scale(1.27 1)" font-size="12" stroke="#000" stroke-width="0.3">07/21</text>
<text class="d" transform="translate(408.3 826.8) rotate(-90) scale(1.27 1)" font-size="12" stroke="#000" stroke-width="0.3">08/05</text>
<text class="d" transform="translate(427.8 826.8) rotate(-90) scale(1.27 1)" font-size="12" stroke="#000" stroke-width="0.3">08/20</text>
<text class="d" transform="translate(447.3 826.8) rotate(-90) scale(1.27 1)" font-size="12" stroke="#000" stroke-width="0.3">09/06</text>
<text class="d" transform="translate(466.8 826.8) rotate(-90) scale(1.27 1)" font-size="12" stroke="#000" stroke-width="0.3">09/23</text>
<text class="d" transform="translate(486.3 826.8) rotate(-90) scale(1.27 1)" font-size="12" stroke="#000" stroke-width="0.3">10/15</text>
<text class="d" transform="translate(505.8 826.8) rotate(-90) scale(1.27 1)" font-size="12" stroke="#000" stroke-width="0.3">11/01</text>
<text class="d" transform="translate(525.3 826.8) rotate(-90) scale(1.27 1)" font-size="12" stroke="#000" stroke-width="0.3">11/16</text>
<text class="d" transform="translate(544.8 826.8) rotate(-90) scale(1.27 1)" font-size="12" stroke="#000" stroke-width="0.3">12/01</text>
<text class="d" transform="translate(564.3 826.8) rotate(-90) scale(1.27 1)" font-size="12" stroke="#000" stroke-width="0.3">12/16</text>
<text class="d" transform="translate(583.8 826.8) rotate(-90) scale(1.27 1)" font-size="12" stroke="#000" stroke-width="0.3">12/31</text>
<text class="f" font-weight="600" x="193.5" y="718" font-size="22.2" textLength="286.5" lengthAdjust="spacingAndGlyphs"><tspan font-weight="bold">24</tspan>度棕榈油进口利润季节性分析</text>
<path d="M193.5 720.8 H480" stroke="#000" stroke-width="1.3"/>
<text class="s" transform="translate(122 719) scale(0.95 1)" font-size="13.5" font-weight="bold">元/吨</text>
<rect x="99.5" y="1040" width="7.5" height="12" fill="#d99694"/>
<text class="s" transform="translate(111 1051.5) scale(0.8 1)" font-size="16">2025年</text>
<rect x="161.5" y="1040" width="7.5" height="12" fill="#95a5d6"/>
<text class="s" transform="translate(173 1051.5) scale(0.8 1)" font-size="16">2024年</text>
<rect x="223" y="1040" width="7.5" height="12" fill="#e08a3c"/>
<text class="s" transform="translate(234.5 1051.5) scale(0.8 1)" font-size="16">2023年</text>
<rect x="282.5" y="1038" width="11" height="16" rx="2" fill="#4bacc6"/>
<text class="s" transform="translate(296 1051.5) scale(0.8 1)" font-size="16">2022年</text>
<rect x="344.5" y="1038" width="11" height="16" rx="2" fill="#2f8872"/>
<text class="s" transform="translate(358 1051.5) scale(0.8 1)" font-size="16">2021年</text>
<rect x="406.5" y="1038" width="11" height="16" rx="2" fill="#ffff00"/>
<text class="s" transform="translate(420 1051.5) scale(0.8 1)" font-size="16">2020年</text>
<rect x="467" y="1038" width="11" height="16" rx="2" fill="#7030a0"/>
<text class="s" transform="translate(480.5 1051.5) scale(0.8 1)" font-size="16">2019年</text>
<rect x="529" y="1038" width="11" height="16" rx="2" fill="#f59d0c"/>
<text class="s" transform="translate(542.5 1051.5) scale(0.8 1)" font-size="16">2018年</text></g>
<g><path d="M646.8 753.5 H1087.7" stroke="#868686" stroke-width="1" fill="none"/>
<path d="M646.8 776.5 H1087.7" stroke="#868686" stroke-width="1" fill="none"/>
<path d="M646.8 798.5 H1087.7" stroke="#868686" stroke-width="1" fill="none"/>
<path d="M646.8 820.5 H1087.7" stroke="#868686" stroke-width="1" fill="none"/>
<path d="M646.8 842.5 H1087.7" stroke="#868686" stroke-width="1" fill="none"/>
<path d="M646.8 864.5 H1087.7" stroke="#868686" stroke-width="1" fill="none"/>
<path d="M646.8 886.5 H1087.7" stroke="#868686" stroke-width="1" fill="none"/>
<path d="M646.8 909.5 H1087.7" stroke="#868686" stroke-width="1" fill="none"/>
<path d="M646.8 931.5 H1087.7" stroke="#868686" stroke-width="1" fill="none"/>
<path d="M646.8 953.5 H1087.7" stroke="#868686" stroke-width="1" fill="none"/>
<path d="M646.8 975.5 H1087.7" stroke="#868686" stroke-width="1" fill="none"/>
<path d="M646.8 997.5 H1087.7" stroke="#868686" stroke-width="1" fill="none"/>
<path d="M651.5 753.9 V997.9" stroke="#868686" stroke-width="1" fill="none"/>
<path d="M651.8 846.1 H1087.7" stroke="#9a9a9a" stroke-width="6" stroke-dasharray="0.7 0.7"/>
<path d="M651.8 829.7 L652.8 828.5 L653.8 831.9 L654.8 830.1 L655.8 832.6 L656.8 830.6 L657.8 829.8 L658.8 830.9 L659.8 832.2 L660.8 830.9 L661.8 832.1 L662.8 831.3 L663.8 832.7 L664.8 833.5 L665.8 832 L666.8 831.6 L667.8 831.6 L668.8 834.4 L669.8 836.1 L670.8 833.3 L671.8 831.5 L672.8 832.6 L673.8 830.7 L674.8 829.9 L675.8 830.6 L676.8 832.3 L677.8 830.1 L678.8 829.1 L679.8 830.4 L680.8 829.3 L681.8 829.6 L682.8 832.4 L683.8 830.4 L684.8 829.6 L685.8 830.1 L686.8 831.5 L687.8 831.5 L688.8 829.7 L689.8 831.4 L690.8 831 L691.8 830.3 L692.8 832.1 L693.8 830.9 L694.8 830.4 L695.8 829.1 L696.8 830.8 L697.8 829.2 L698.8 832 L699.8 833 L700.8 831.9 L701.8 831.1 L702.8 829.1 L703.8 830.3 L704.8 829.8 L705.8 830.5 L706.8 829.9 L707.8 825.9 L708.8 826.4 L709.8 825.7 L710.8 825.1 L711.8 822.6 L712.8 822 L713.8 822.9 L714.8 823.5 L715.8 821.8 L716.8 821.5 L717.8 820 L718.8 820 L719.8 824.1 L720.8 825.1 L721.8 825.6 L722.8 826.3 L723.8 828.4 L724.8 829.5 L725.8 828.3 L726.8 830.2 L727.8 829.5 L728.8 830.8 L729.8 828.3 L730.8 830.8 L731.8 830.6 L732.8 829.5 L733.8 828.9 L734.8 827.1 L735.8 826 L736.8 827.6 L737.8 826.2 L738.8 827 L739.8 829.1 L740.8 825.8 L741.8 826.4 L742.8 826.4 L743.8 824.5 L744.8 823.4 L745.8 823.9 L746.8 825.1 L747.8 824.6 L748.8 825.2 L749.8 826.3 L750.8 827.6 L751.8 826.4 L752.8 825.8 L753.8 826 L754.8 828.5 L755.8 830.3 L756.8 829.6 L757.8 828.7 L758.8 828.8 L759.8 828.3 L760.8 830.2 L761.8 831.5 L762.8 830.1 L763.8 828.4 L764.8 829.8 L765.8 826.8 L766.8 825.5 L767.8 824.6 L768.8 826.6 L769.8 826.7 L770.8 825.6 L771.8 825.8 L772.8 825.4 L773.8 827.5 L774.8 826.8 L775.8 825.8 L776.8 827 L777.8 824.4 L778.8 824.9 L779.8 825.3 L780.8 824.8 L781.8 823.8 L782.8 823.2 L783.8 823.9 L784.8 823 L785.8 825.4 L786.8 825.7 L787.8 824.8 L788.8 823.3 L789.8 825.2 L790.8 823.6 L791.8 824.8 L792.8 822.4 L793.8 822.8 L794.8 823.8 L795.8 823.1 L796.8 824 L797.8 824.3 L798.8 826.7 L799.8 824.8 L800.8 827.4 L801.8 827.1 L802.8 828 L803.8 826.3 L804.8 826.5 L805.8 828 L806.8 828.3 L807.8 828.6 L808.8 827.7 L809.8 827.4 L810.8 828.5 L811.8 827.6 L812.8 825.6 L813.8 826.9 L814.8 823.8 L815.8 823.2 L816.8 823.7 L817.8 823.7 L818.8 822.1 L819.8 822.3 L820.8 822 L821.8 820.2 L822.8 822.4 L823.8 820.7 L824.8 820.3 L825.8 822.7 L826.8 823.1 L827.8 820.1 L828.8 820.4 L829.8 822.2 L830.8 821.2 L831.8 821.6 L832.8 819.7 L833.8 821 L834.8 822.8 L835.8 820.9 L836.8 823.4 L837.8 821.6 L838.8 821.2 L839.8 822.3 L840.8 822.9 L841.8 823.7 L842.8 823.4 L843.8 824 L844.8 824.9 L845.8 826.8 L846.8 827 L847.8 825.6 L848.8 825.9 L849.8 826.4 L850.8 825.1 L851.8 826.6 L852.8 827.6 L853.8 827.9 L854.8 827.7 L855.8 827.5 L856.8 827.3 L857.8 825.1 L858.8 824.7 L859.8 824.7 L860.8 823.6 L861.8 824.8 L862.8 823.2 L863.8 823.8 L864.8 822.7 L865.8 823.7 L866.8 823.1 L867.8 821.9 L868.8 820.7 L869.8 821.9 L870.8 821.4 L871.8 821.2 L872.8 821.2 L873.8 821.1 L874.8 821.2 L875.8 821 L876.8 823.8 L877.8 824.2 L878.8 824.3 L879.8 825.4 L880.8 825 L881.8 826 L882.8 823.7 L883.8 823.5 L884.8 823.7 L885.8 826.3 L886.8 825.6 L887.8 826.4 L888.8 825 L889.8 826.4 L890.8 827.5 L891.8 828.4 L892.8 827.6 L893.8 826.9 L894.8 826.6 L895.8 826.7 L896.8 829.3 L897.8 830.1 L898.8 828.3 L899.8 829.2 L900.8 828.1 L901.8 830.9 L902.8 828.5 L903.8 831.5 L904.8 831.5 L905.8 831.1 L906.8 831.6 L907.8 831 L908.8 832.3 L909.8 831.3 L910.8 829 L911.8 830.2 L912.8 832.3 L913.8 830.2 L914.8 830.8 L915.8 832.2 L916.8 830.7 L917.8 830.7 L918.8 829.6 L919.8 831.8 L920.8 831.8 L921.8 830.9 L922.8 829 L923.8 829.9 L924.8 831.7 L925.8 830.3 L926.8 830.8 L927.8 831.5 L928.8 831.1 L929.8 831.2 L930.8 831.3 L931.8 830.4 L932.8 829.6 L933.8 828.6 L934.8 830.3 L935.8 832.9 L936.8 833.3 L937.8 833.4 L938.8 832.4 L939.8 829.9 L940.8 832.3 L941.8 831 L942.8 830.7 L943.8 830.7 L944.8 828.6 L945.8 830.2 L946.8 831 L947.8 829.2 L948.8 828.6 L949.8 829.9 L950.8 828.2 L951.8 829.5 L952.8 829.6 L953.8 827.7 L954.8 828.9 L955.8 827 L956.8 829.1 L957.8 828 L958.8 828.9 L959.8 828.5 L960.8 830.3 L961.8 829.9 L962.8 830.8 L963.8 830.5 L964.8 830.2 L965.8 831.6 L966.8 829.4 L967.8 830.6 L968.8 831.9 L969.8 832.4 L970.8 831.8 L971.8 830.1 L972.8 831.9 L973.8 831 L974.8 831.3 L975.8 830 L976.8 830.6 L977.8 828 L978.8 827.9 L979.8 826.8 L980.8 827.9 L981.8 827.7 L982.8 826.3 L983.8 824.9 L984.8 827.8 L985.8 827.2 L986.8 827.5 L987.8 827.5 L988.8 828.4 L989.8 828.8 L990.8 828.9 L991.8 829.6 L992.8 829.3 L993.8 829.5 L994.8 828.2 L995.8 830.9 L996.8 831 L997.8 829.3 L998.8 828.9 L999.8 831.8 L1000.8 830.8 L1001.8 829.4 L1002.8 829.1 L1003.8 830.2 L1004.8 831.3 L1005.8 829.4 L1006.8 830.4 L1007.8 828.6 L1008.8 831.6 L1009.8 833.1 L1010.8 832.2 L1011.8 832.9 L1012.8 832.6 L1013.8 833.7 L1014.8 837.7 L1015.8 839.3 L1016.8 840.7 L1017.8 837.8 L1018.8 840.1 L1019.8 840.2 L1020.8 838.6 L1021.8 836.9 L1022.8 836.8 L1023.8 837.6 L1024.8 836.9 L1025.8 834.8 L1026.8 834.4 L1027.8 835.8 L1028.8 835 L1029.8 834.1 L1030.8 836.2 L1031.8 837.5 L1032.8 836 L1033.8 834.9 L1034.8 836.6 L1035.8 834.3 L1036.8 837.2 L1037.8 835.1 L1038.8 837.9 L1039.8 836.3 L1040.8 837.1 L1041.8 838.7 L1042.8 840.5 L1043.8 838.9 L1044.8 841 L1045.8 841.3 L1046.8 842 L1047.8 841.8 L1048.8 839.3 L1049.8 839 L1050.8 837.3 L1051.8 838.3 L1052.8 837.6 L1053.8 835.3 L1054.8 836 L1055.8 835.8 L1056.8 833.9 L1057.8 833 L1058.8 833.4 L1059.8 831.7 L1060.8 830.7 L1061.8 832.5 L1062.8 833 L1063.8 832.4 L1064.8 831.4 L1065.8 830.6 L1066.8 831.3 L1067.8 831.8 L1068.8 833.3 L1069.8 832.7 L1070.8 832.3 L1071.8 831.7 L1072.8 833.4 L1073.8 834 L1074.8 834.2 L1075.8 832.9 L1076.8 833.6 L1077.8 836 L1078.8 834.8 L1079.8 834.5 L1080.8 836.6 L1081.8 837.1 L1082.8 835.8 L1083.8 834 L1084.8 835.9 L1085.8 837 L1086.8 835.9 L1087.1 836.8" stroke="#2f8872" stroke-width="3.8" fill="none" stroke-linejoin="round" stroke-linecap="round"/>
<path d="M651.8 831.6 L652.8 831.5 L653.8 833.6 L654.8 834.8 L655.8 836.4 L656.8 837.7 L657.8 838.5 L658.8 836.6 L659.8 838.5 L660.8 839.1 L661.8 836.6 L662.8 834.8 L663.8 836.6 L664.8 836 L665.8 833 L666.8 831.9 L667.8 833.3 L668.8 831 L669.8 832 L670.8 830.4 L671.8 832 L672.8 829.6 L673.8 829.4 L674.8 829.9 L675.8 828.8 L676.8 830.4 L677.8 831.1 L678.8 832 L679.8 832 L680.8 829.8 L681.8 828.4 L682.8 830.7 L683.8 828.3 L684.8 827.2 L685.8 828.5 L686.8 828.4 L687.8 829.2 L688.8 827.8 L689.8 829.5 L690.8 829.2 L691.8 831.5 L692.8 829.3 L693.8 828.9 L694.8 828.9 L695.8 829.1 L696.8 830.2 L697.8 828.2 L698.8 826.5 L699.8 828 L700.8 826.6 L701.8 825.5 L702.8 825.1 L703.8 824.2 L704.8 825.3 L705.8 824.7 L706.8 825.3 L707.8 824.2 L708.8 822.4 L709.8 821.3 L710.8 820.3 L711.8 819.6 L712.8 816.3 L713.8 816.6 L714.8 816.8 L715.8 817.3 L716.8 814.4 L717.8 814.8 L718.8 815.5 L719.8 814.4 L720.8 814.4 L721.8 812.1 L722.8 812.4 L723.8 810.9 L724.8 809.9 L725.8 812.5 L726.8 810 L727.8 813 L728.8 812.2 L729.8 813.5 L730.8 815.2 L731.8 815.9 L732.8 816.9 L733.8 819 L734.8 820.9 L735.8 819.4 L736.8 819.4 L737.8 821.1 L738.8 820 L739.8 820 L740.8 820.5 L741.8 820 L742.8 818.3 L743.8 818.7 L744.8 819 L745.8 816.6 L746.8 813.6 L747.8 811.5 L748.8 813.4 L749.8 812.4 L750.8 811.7 L751.8 811.2 L752.8 813.5 L753.8 812.3 L754.8 815.2 L755.8 816.5 L756.8 816.7 L757.8 817.2 L758.8 817.4 L759.8 817.5 L760.8 817.3 L761.8 816.4 L762.8 814 L763.8 814.9 L764.8 814.2 L765.8 814 L766.8 814.9 L767.8 813.8 L768.8 815.8 L769.8 816.1 L770.8 815.1 L771.8 815.3 L772.8 813.8 L773.8 813.2 L774.8 814.9 L775.8 813.3 L776.8 813.5 L777.8 811.5 L778.8 811.5 L779.8 812 L780.8 812.1 L781.8 810.7 L782.8 811.4 L783.8 811.4 L784.8 811.2 L785.8 814.6 L786.8 814.5 L787.8 815 L788.8 814.4 L789.8 815.9 L790.8 815.6 L791.8 814.9 L792.8 814.7 L793.8 810.7 L794.8 811 L795.8 810.3 L796.8 808.3 L797.8 809.5 L798.8 810.6 L799.8 811.1 L800.8 809.7 L801.8 809.4 L802.8 811.5 L803.8 810.8 L804.8 811.4 L805.8 809.9 L806.8 810 L807.8 810.8 L808.8 810.9 L809.8 811.9 L810.8 811.9 L811.8 811.7 L812.8 812.1 L813.8 812.1 L814.8 809.6 L815.8 809.2 L816.8 809.2 L817.8 809.8 L818.8 807.3 L819.8 807.4 L820.8 806.4 L821.8 808.3 L822.8 805.6 L823.8 805.6 L824.8 803.8 L825.8 805.2 L826.8 805.8 L827.8 806.7 L828.8 809.2 L829.8 807.8 L830.8 807.9 L831.8 810 L832.8 810.5 L833.8 808.5 L834.8 807.7 L835.8 808.2 L836.8 808.8 L837.8 809.8 L838.8 810 L839.8 810.4 L840.8 811.2 L841.8 809.8 L842.8 807.7 L843.8 807.9 L844.8 809.7 L845.8 808.2 L846.8 809 L847.8 812.2 L848.8 813.2 L849.8 813.6 L850.8 814.2 L851.8 813.7 L852.8 813.1 L853.8 814.6 L854.8 813.7 L855.8 813.3 L856.8 813.1 L857.8 812.6 L858.8 813.9 L859.8 813.1 L860.8 814.4 L861.8 814.1 L862.8 813 L863.8 812.8 L864.8 815.8 L865.8 816.5 L866.8 816 L867.8 815.9 L868.8 815.4 L869.8 813.8 L870.8 812.8 L871.8 813.5 L872.8 814.7 L873.8 812.4 L874.8 814.1 L875.8 815.4 L876.8 812.8 L877.8 809.7 L878.8 808.8 L879.8 811.4 L880.8 811.4 L881.8 814.8 L882.8 815.9 L883.8 816.2 L884.8 817.2 L885.8 814.2 L886.8 813.7 L887.8 816.6 L888.8 817.3 L889.8 817.3 L890.8 817.7 L891.8 815.4 L892.8 814 L893.8 815.5 L894.8 818.1 L895.8 816.6 L896.8 814.5 L897.8 816 L898.8 816.3 L899.8 815.6 L900.8 815.9 L901.8 815.2 L902.8 813.5 L903.8 814.5 L904.8 812.8 L905.8 810.6 L906.8 812 L907.8 812.6 L908.8 810.8 L909.8 812.5 L910.8 812.5 L911.8 813.9 L912.8 813.3 L913.8 811.7 L914.8 812.4 L915.8 811.1 L916.8 810.7 L917.8 811.7 L918.8 810.5 L919.8 811.1 L920.8 809 L921.8 809.3 L922.8 808.6 L923.8 808 L924.8 809.6 L925.8 809.6 L926.8 809.8 L927.8 810.2 L928.8 807 L929.8 807.5 L930.8 807.3 L931.8 805.6 L932.8 806.3 L933.8 804.3 L934.8 804.9 L935.8 804.9 L936.8 805.5 L937.8 805.4 L938.8 804.8 L939.8 806.4 L940.8 805.8 L941.8 805.8 L942.8 803.4 L943.8 804.9 L944.8 804.8 L945.8 804.1 L946.8 804.1 L947.8 804.5 L948.8 808 L949.8 809.5 L950.8 809.3 L951.8 807.5 L952.8 807.3 L953.8 807.2 L954.8 810 L955.8 809.5 L956.8 807.9 L957.8 809.3 L958.8 809.6 L959.8 807.8 L960.8 807.5 L961.8 808.6 L962.8 809.1 L963.8 809.8 L964.8 807.6 L965.8 810.2 L966.8 809.5 L967.8 808.6 L968.8 810.9 L969.8 811.6 L970.8 811.5 L971.8 811.6 L972.8 810.8 L973.8 810.8 L974.8 809.6 L975.8 811.1 L976.8 812.6 L977.8 815 L978.8 816.2 L979.8 816.3 L980.8 813.7 L981.8 814.2 L982.8 814.1 L983.8 811.1 L984.8 811.7 L985.8 811.6 L986.8 809.4 L987.8 808.7 L988.8 808 L989.8 810.9 L990.8 808.5 L991.8 808.8 L992.8 808.8 L993.8 808.7 L994.8 808.9 L995.8 808.3 L996.8 807.1 L997.8 810 L998.8 808.8 L999.8 810.1 L1000.8 811.3 L1001.8 811.8 L1002.8 811.3 L1003.8 808.5 L1004.8 807.8 L1005.8 809.7 L1006.8 810.2 L1007.8 808.6 L1008.8 809.8 L1009.8 808.2 L1010.8 809.1 L1011.8 808.2 L1012.8 809.7 L1013.8 811.6 L1014.8 809.8 L1015.8 810 L1016.8 810.9 L1017.8 810.4 L1018.8 811.4 L1019.8 810 L1020.8 810 L1021.8 809.1 L1022.8 807.7 L1023.8 809 L1024.8 808.2 L1025.8 807.6 L1026.8 808.9 L1027.8 809.3 L1028.8 807.7 L1029.8 810.3 L1030.8 808.8 L1031.8 808.4 L1032.8 808.5 L1033.8 807.9 L1034.8 809.6 L1035.8 807.3 L1036.8 808.3 L1037.8 807.4 L1038.8 806.4 L1039.8 807.5 L1040.8 805.1 L1041.8 804.1 L1042.8 803.3 L1043.8 803.4 L1044.8 802.4 L1045.8 805.4 L1046.8 804.2 L1047.8 805 L1048.8 803.6 L1049.8 804.6 L1050.8 805.6 L1051.8 803.5 L1052.8 805.4 L1053.8 803.5 L1054.8 805.1 L1055.8 805.5 L1056.8 806.3 L1057.8 804.9 L1058.8 805.3 L1059.8 805.2 L1060.8 808.1 L1061.8 806.8 L1062.8 807.3 L1063.8 806.7 L1064.8 806.5 L1065.8 809.9 L1066.8 808.2 L1067.8 808 L1068.8 810.4 L1069.8 811 L1070.8 810.7 L1071.8 811 L1072.8 809.6 L1073.8 807.9 L1074.8 806.9 L1075.8 807 L1076.8 808.6 L1077.8 808.6 L1078.8 805.8 L1079.8 806.4 L1080.8 806.6 L1081.8 806.3 L1082.8 805.8 L1083.8 806.5 L1084.8 806 L1085.8 805.4 L1086.8 804.7 L1087.1 803.9" stroke="#1c3a57" stroke-width="3.8" fill="none" stroke-linejoin="round" stroke-linecap="round"/>
<path d="M651.8 807.4 L652.8 806 L653.8 807.1 L654.8 807.9 L655.8 806.2 L656.8 804.8 L657.8 803.5 L658.8 805.2 L659.8 804 L660.8 805.6 L661.8 805.8 L662.8 803.7 L663.8 805 L664.8 801.9 L665.8 803.5 L666.8 804.2 L667.8 803.6 L668.8 803.1 L669.8 804.7 L670.8 805.5 L671.8 805.3 L672.8 803.7 L673.8 802.9 L674.8 803.4 L675.8 806.5 L676.8 807.3 L677.8 808.1 L678.8 810.5 L679.8 810.2 L680.8 810.7 L681.8 814.6 L682.8 814.9 L683.8 814.8 L684.8 811.3 L685.8 809.6 L686.8 807.6 L687.8 808.8 L688.8 808.1 L689.8 808.6 L690.8 806 L691.8 805.9 L692.8 806.4 L693.8 806 L694.8 808.3 L695.8 805.8 L696.8 804.9 L697.8 806.6 L698.8 804.1 L699.8 806.4 L700.8 807 L701.8 804.5 L702.8 806.7 L703.8 806.4 L704.8 806.3 L705.8 807.8 L706.8 810.1 L707.8 809.8 L708.8 811.5 L709.8 809.6 L710.8 809.7 L711.8 809.9 L712.8 809.7 L713.8 806.6 L714.8 806.4 L715.8 809.8 L716.8 809.1 L717.8 811.3 L718.8 809.4 L719.8 809.2 L720.8 812 L721.8 812.1 L722.8 811.7 L723.8 812.5 L724.8 813.5 L725.8 813 L726.8 816 L727.8 815 L728.8 813.7 L729.8 814.3 L730.8 814.3 L731.8 813.5 L732.8 813.6 L733.8 815.8 L734.8 814 L735.8 813.4 L736.8 816.4 L737.8 816 L738.8 817.4 L739.8 815.6 L740.8 815.6 L741.8 816.4 L742.8 817.2 L743.8 815 L744.8 815.6 L745.8 813 L746.8 812.7 L747.8 811.7 L748.8 812 L749.8 813.6 L750.8 816.4 L751.8 817.8 L752.8 818.5 L753.8 818.1 L754.8 818.4 L755.8 819.1 L756.8 819.6 L757.8 820.9 L758.8 823.4 L759.8 823 L760.8 821.8 L761.8 824.6 L762.8 823.3 L763.8 820.8 L764.8 821.3 L765.8 819.9 L766.8 819.1 L767.8 820.9 L768.8 820.1 L769.8 822.2 L770.8 821.9 L771.8 821.3 L772.8 821.7 L773.8 820.9 L774.8 820.9 L775.8 822.2 L776.8 821.1 L777.8 819.7 L778.8 822.5 L779.8 819.9 L780.8 819.9 L781.8 822.1 L782.8 820.9 L783.8 822.3 L784.8 821.8 L785.8 821.9 L786.8 822.5 L787.8 822.1 L788.8 820.1 L789.8 819.4 L790.8 819.7 L791.8 821.5 L792.8 822 L793.8 822 L794.8 823.6 L795.8 823 L796.8 821.6 L797.8 823.8 L798.8 825.2 L799.8 824.8 L800.8 823.8 L801.8 826.7 L802.8 827.4 L803.8 825.3 L804.8 825.5 L805.8 827.2 L806.8 827.9 L807.8 825.5 L808.8 826.6 L809.8 825.4 L810.8 823.7 L811.8 825.4 L812.8 825.4 L813.8 822.1 L814.8 821.9 L815.8 823.2 L816.8 823.3 L817.8 822.9 L818.8 822.7 L819.8 820 L820.8 819.7 L821.8 820.4 L822.8 817.5 L823.8 817.4 L824.8 819.3 L825.8 818.4 L826.8 819 L827.8 818.8 L828.8 818.7 L829.8 818.5 L830.8 815.1 L831.8 816.2 L832.8 815.9 L833.8 814.8 L834.8 813.9 L835.8 812.5 L836.8 813.6 L837.8 814.4 L838.8 812.9 L839.8 813.1 L840.8 811.7 L841.8 812.6 L842.8 811.2 L843.8 811 L844.8 809.7 L845.8 812.1 L846.8 812.6 L847.8 810.3 L848.8 808.4 L849.8 810.2 L850.8 811.4 L851.8 810.7 L852.8 810.4 L853.8 811.4 L854.8 809.1 L855.8 810.6 L856.8 812 L857.8 812 L858.8 810.4 L859.8 809.6 L860.8 811.2 L861.8 809.7 L862.8 808.1 L863.8 808.5 L864.8 809.1 L865.8 809.5 L866.8 807 L867.8 806.3 L868.8 806.9 L869.8 805.8 L870.8 805.9 L871.8 806.3 L872.8 805.4 L873.8 805.4 L874.8 804.1 L875.8 803.4 L876.8 802.8 L877.8 800.3 L878.8 798.1 L879.8 798.6 L880.8 797.1 L881.8 791.7 L882.8 788.5 L883.8 786.2 L884.8 784.6 L885.8 785.6 L886.8 785.8 L887.8 787 L888.8 788.3 L889.8 789.8 L890.8 791.5 L891.8 790.6 L892.8 790.6 L893.8 792.7 L894.8 791.9 L895.8 792.3 L896.8 791.4 L897.8 792.1 L898.8 791.4 L899.8 790.8 L900.8 790.4 L901.8 790.3 L902.8 788.5 L903.8 785.3 L904.8 783.4 L905.8 781.4 L906.8 780.1 L907.8 781.4 L908.8 781.2 L909.8 779.9 L910.8 781.3 L911.8 787.2 L912.8 788.5 L913.8 789.1 L914.8 790.8 L915.8 788 L916.8 786.5 L917.8 786.9 L918.8 786.8 L919.8 784 L920.8 784.5 L921.8 784.6 L922.8 785.6 L923.8 788.9 L924.8 793.2 L925.8 793.5 L926.8 793.9 L927.8 792.2 L928.8 794.8 L929.8 793.5 L930.8 796.1 L931.8 796.1 L932.8 796.9 L933.8 798.3 L934.8 796 L935.8 797.2 L936.8 797.9 L937.8 798.1 L938.8 796.2 L939.8 796.4 L940.8 796 L941.8 795.1 L942.8 797.1 L943.8 798.1 L944.8 797.1 L945.8 796.6 L946.8 798.2 L947.8 796.4 L948.8 796.3 L949.8 797.6 L950.8 795.4 L951.8 794.7 L952.8 795.8 L953.8 796.7 L954.8 796.1 L955.8 794.3 L956.8 795.8 L957.8 795.6 L958.8 795.2 L959.8 795.6 L960.8 795.1 L961.8 793 L962.8 791.8 L963.8 792 L964.8 788.7 L965.8 787.2 L966.8 786.9 L967.8 785.6 L968.8 785.7 L969.8 786.4 L970.8 788.3 L971.8 790.8 L972.8 790.8 L973.8 791.8 L974.8 792.3 L975.8 790.6 L976.8 788.9 L977.8 791 L978.8 791 L979.8 787.2 L980.8 785 L981.8 785.2 L982.8 786.9 L983.8 786.9 L984.8 787.2 L985.8 786.5 L986.8 786.1 L987.8 788.2 L988.8 787.7 L989.8 788.1 L990.8 786.5 L991.8 788.2 L992.8 787.5 L993.8 787.2 L994.8 789.8 L995.8 789.4 L996.8 790.9 L997.8 791.3 L998.8 791.5 L999.8 789.9 L1000.8 787.6 L1001.8 786.8 L1002.8 785.6 L1003.8 781.5 L1004.8 780.9 L1005.8 778.7 L1006.8 779.3 L1007.8 780 L1008.8 778.3 L1009.8 775.7 L1010.8 775.3 L1011.8 773.9 L1012.8 775.6 L1013.8 776 L1014.8 775.9 L1015.8 774.1 L1016.8 775.6 L1017.8 778.9 L1018.8 780.3 L1019.8 781.8 L1020.8 782.2 L1021.8 782.6 L1022.8 781.2 L1023.8 780.3 L1024.8 781.5 L1025.8 780.5 L1026.8 779.6 L1027.8 779.4 L1028.8 781.3 L1029.8 780.1 L1030.8 778.2 L1031.8 779.6 L1032.8 779.8 L1033.8 779.3 L1034.8 780.1 L1035.8 780.1 L1036.8 782.8 L1037.8 782.3 L1038.8 784 L1039.8 786.6 L1040.8 785.9 L1041.8 787.6 L1042.8 788.3 L1043.8 787.3 L1044.8 790.2 L1045.8 790 L1046.8 791.8 L1047.8 792.7 L1048.8 791.3 L1049.8 792.4 L1050.8 794 L1051.8 794.5 L1052.8 796.6 L1053.8 797.2 L1054.8 797.6 L1055.8 797.9 L1056.8 797.9 L1057.8 797 L1058.8 798.4 L1059.8 799.7 L1060.8 800.1 L1061.8 800.7 L1062.8 800.7 L1063.8 802.2 L1064.8 799.6 L1065.8 801.2 L1066.8 803.3 L1067.8 803.4 L1068.8 804.9 L1069.8 805.8 L1070.8 806.1 L1071.8 806.7 L1072.8 809 L1073.8 811.3 L1074.8 808.5 L1075.8 807.3 L1076.8 806.1 L1077.8 802.3 L1078.8 804.3 L1079.8 804 L1080.8 801.5 L1081.8 804 L1082.8 804.3 L1083.8 802.3 L1084.8 801.1 L1085.8 799.3 L1086.8 799.4 L1087.1 798" stroke="#84a84f" stroke-width="3.8" fill="none" stroke-linejoin="round" stroke-linecap="round"/>
<path d="M651.8 792 L652.8 791.1 L653.8 793.5 L654.8 792.5 L655.8 790.2 L656.8 792.1 L657.8 794 L658.8 794.3 L659.8 797.3 L660.8 795.6 L661.8 796.3 L662.8 798.5 L663.8 797.8 L664.8 797.2 L665.8 795.6 L666.8 800.9 L667.8 803.7 L668.8 800.6 L669.8 803.5 L670.8 804 L671.8 803.2 L672.8 804.1 L673.8 801.5 L674.8 798 L675.8 801.1 L676.8 802.3 L677.8 801.2 L678.8 806.7 L679.8 804.2 L680.8 809.8 L681.8 812.9 L682.8 817.3 L683.8 813.7 L684.8 813.3 L685.8 814.3 L686.8 815 L687.8 817.8 L688.8 816.1 L689.8 822 L690.8 822.6 L691.8 824.1 L692.8 818.6 L693.8 816.3 L694.8 815.3 L695.8 815.8 L696.8 815.1 L697.8 811.6 L698.8 811.6 L699.8 813.3 L700.8 815.7 L701.8 816.2 L702.8 816.9 L703.8 822.4 L704.8 826.4 L705.8 828.9 L706.8 826.3 L707.8 827.1 L708.8 826.5 L709.8 825.7 L710.8 828.8 L711.8 829.2 L712.8 830 L713.8 827.4 L714.8 822.9 L715.8 820.6 L716.8 823 L717.8 822.8 L718.8 821.1 L719.8 822.2 L720.8 823.9 L721.8 828.3 L722.8 828.2 L723.8 828.6 L724.8 829.1 L725.8 828.3 L726.8 828.9 L727.8 834.1 L728.8 836.1 L729.8 837.9 L730.8 838.4 L731.8 840.5 L732.8 838 L733.8 836.9 L734.8 835.3 L735.8 832.5 L736.8 834.2 L737.8 834.4 L738.8 831.2 L739.8 833.7 L740.8 836.2 L741.8 837.8 L742.8 837.1 L743.8 834.3 L744.8 835.3 L745.8 835.4 L746.8 835.5 L747.8 839.3 L748.8 838.6 L749.8 842.1 L750.8 842.1 L751.8 843.1 L752.8 845.7 L753.8 848.3 L754.8 853.3 L755.8 855.2 L756.8 861.9 L757.8 861.2 L758.8 863.4 L759.8 866.4 L760.8 865.1 L761.8 863.2 L762.8 868.3 L763.8 868.6 L764.8 871.7 L765.8 873.2 L766.8 871 L767.8 872.8 L768.8 874.7 L769.8 876.6 L770.8 875.9 L771.8 879.1 L772.8 879.9 L773.8 880.7 L774.8 884.9 L775.8 884.1 L776.8 882.9 L777.8 882.2 L778.8 885.1 L779.8 881.5 L780.8 880.2 L781.8 881.4 L782.8 883.7 L783.8 886.5 L784.8 886 L785.8 887.4 L786.8 884.1 L787.8 883.4 L788.8 888.9 L789.8 892.3 L790.8 892.8 L791.8 897.8 L792.8 899.3 L793.8 903.9 L794.8 911.2 L795.8 913.5 L796.8 913 L797.8 917.4 L798.8 908.3 L799.8 903 L800.8 900.5 L801.8 893.6 L802.8 890.5 L803.8 887.3 L804.8 887.8 L805.8 891 L806.8 896.2 L807.8 897.7 L808.8 898.9 L809.8 904.3 L810.8 905.7 L811.8 908.2 L812.8 908.3 L813.8 909.5 L814.8 908.5 L815.8 905.7 L816.8 899.4 L817.8 894.1 L818.8 891.8 L819.8 891 L820.8 891.6 L821.8 891.7 L822.8 891.4 L823.8 893.8 L824.8 892.4 L825.8 892.6 L826.8 892 L827.8 891.6 L828.8 889.7 L829.8 888.4 L830.8 890.1 L831.8 886.6 L832.8 886.6 L833.8 883.3 L834.8 880.6 L835.8 880.3 L836.8 881.3 L837.8 879.5 L838.8 878.3 L839.8 882 L840.8 884 L841.8 890.7 L842.8 893.6 L843.8 890.7 L844.8 892.9 L845.8 893.4 L846.8 892.6 L847.8 886 L848.8 883.4 L849.8 882 L850.8 878 L851.8 865.9 L852.8 859.6 L853.8 857.3 L854.8 856.1 L855.8 859.2 L856.8 864.8 L857.8 869.8 L858.8 864.4 L859.8 862.6 L860.8 861.6 L861.8 861.8 L862.8 862.2 L863.8 858.3 L864.8 854.2 L865.8 855.4 L866.8 852.4 L867.8 851.6 L868.8 851.3 L869.8 851.3 L870.8 856.7 L871.8 858.6 L872.8 861.6 L873.8 863.1 L874.8 859.2 L875.8 864 L876.8 862.7 L877.8 866 L878.8 866 L879.8 867.1 L880.8 862.9 L881.8 863.4 L882.8 861.7 L883.8 864.2 L884.8 865.6 L885.8 868.4 L886.8 872.6 L887.8 873 L888.8 874.8 L889.8 878.5 L890.8 880.4 L891.8 878.7 L892.8 883.7 L893.8 881.6 L894.8 885.1 L895.8 885.2 L896.8 889.3 L897.8 889.2 L898.8 886.7 L899.8 885 L900.8 886.9 L901.8 888.3 L902.8 889.6 L903.8 887.5 L904.8 887.8 L905.8 890.5 L906.8 887.6 L907.8 883.8 L908.8 885.1 L909.8 881.4 L910.8 881.6 L911.8 883.2 L912.8 882.5 L913.8 877.7 L914.8 879.6 L915.8 876.7 L916.8 877 L917.8 878.4 L918.8 879.6 L919.8 881.8 L920.8 879.1 L921.8 878.9 L922.8 877.8 L923.8 873.6 L924.8 872 L925.8 872.3 L926.8 874.4 L927.8 877.6 L928.8 875.1 L929.8 877.7 L930.8 875.6 L931.8 876.6 L932.8 877 L933.8 875 L934.8 879.1 L935.8 876.7 L936.8 881.4 L937.8 879.7 L938.8 876.9 L939.8 879.2 L940.8 873.3 L941.8 864.8 L942.8 859.8 L943.8 853.7 L944.8 853.5 L945.8 854.4 L946.8 854.1 L947.8 851.3 L948.8 857.4 L949.8 864.8 L950.8 866.3 L951.8 872.5 L952.8 873.4 L953.8 873.8 L954.8 879.6 L955.8 878.2 L956.8 874.5 L957.8 873.5 L958.8 873.5 L959.8 873.9 L960.8 868.4 L961.8 866 L962.8 863.8 L963.8 865 L964.8 860.4 L965.8 858.3 L966.8 858.2 L967.8 859.1 L968.8 859.8 L969.8 859.7 L970.8 859.4 L971.8 856.5 L972.8 853.5 L973.8 850.3 L974.8 847.5 L975.8 849.5 L976.8 849.1 L977.8 847.9 L978.8 844.1 L979.8 841.2 L980.8 844 L981.8 844.9 L982.8 845.6 L983.8 845.5 L984.8 839.5 L985.8 838.2 L986.8 841.7 L987.8 845.2 L988.8 845.2 L989.8 842.5 L990.8 843.9 L991.8 845.3 L992.8 846.9 L993.8 842.9 L994.8 841.7 L995.8 843.9 L996.8 846 L997.8 843.6 L998.8 846.2 L999.8 849.1 L1000.8 848 L1001.8 847.5 L1002.8 851.1 L1003.8 848.3 L1004.8 852 L1005.8 850.9 L1006.8 853.2 L1007.8 854.7 L1008.8 854.6 L1009.8 858.2 L1010.8 855.5 L1011.8 855.1 L1012.8 856.8 L1013.8 858.4 L1014.8 863.1 L1015.8 865.6 L1016.8 863.7 L1017.8 865.3 L1018.8 869.5 L1019.8 872.9 L1020.8 869.8 L1021.8 869.7 L1022.8 866.4 L1023.8 866.8 L1024.8 864.7 L1025.8 866.4 L1026.8 862.7 L1027.8 863.5 L1028.8 863.7 L1029.8 865.7 L1030.8 866.1 L1031.8 865 L1032.8 870.6 L1033.8 872.9 L1034.8 869.9 L1035.8 870.7 L1036.8 869.1 L1037.8 868.5 L1038.8 870.2 L1039.8 868.1 L1040.8 866.7 L1041.8 867.3 L1042.8 864.2 L1043.8 865.3 L1044.8 865.6 L1045.8 860.3 L1046.8 860.2 L1047.8 856.7 L1048.8 857.8 L1049.8 852.7 L1050.8 851.6 L1051.8 854.2 L1052.8 851.2 L1053.8 846.7 L1054.8 847 L1055.8 845.6 L1056.8 848.5 L1057.8 848.1 L1058.8 850.4 L1059.8 848.1 L1060.8 849.1 L1061.8 854.8 L1062.8 858.5 L1063.8 857 L1064.8 863 L1065.8 859.6 L1066.8 862.1 L1067.8 859.6 L1068.8 856.6 L1069.8 860.4 L1070.8 861.4 L1071.8 858.7 L1072.8 860.1 L1073.8 856.8 L1074.8 859.8 L1075.8 856.9 L1076.8 857.5 L1077.8 855.9 L1078.8 860.9 L1079.8 860.3 L1080.8 864.1 L1081.8 863.5 L1082.8 863.8 L1083.8 866.7 L1084.8 870.6 L1085.8 873 L1086.8 869.5 L1087.1 868.1" stroke="#1cade4" stroke-width="3.8" fill="none" stroke-linejoin="round" stroke-linecap="round"/>
<path d="M651.8 870.7 L652.8 873.6 L653.8 870.2 L654.8 868.4 L655.8 868.2 L656.8 873.7 L657.8 870.7 L658.8 871.6 L659.8 867.4 L660.8 869.4 L661.8 866.7 L662.8 872.6 L663.8 872.6 L664.8 869.2 L665.8 871.3 L666.8 869.1 L667.8 868.3 L668.8 870.5 L669.8 869 L670.8 869.2 L671.8 867.8 L672.8 867.5 L673.8 864.8 L674.8 860.7 L675.8 862.7 L676.8 859.5 L677.8 861.2 L678.8 856.4 L679.8 853.3 L680.8 856 L681.8 858.4 L682.8 853.1 L683.8 851.7 L684.8 852.4 L685.8 850.7 L686.8 850.8 L687.8 847.9 L688.8 852.6 L689.8 851 L690.8 851.1 L691.8 851.8 L692.8 853.8 L693.8 855.7 L694.8 852.3 L695.8 851 L696.8 852.1 L697.8 852.9 L698.8 852.2 L699.8 850.5 L700.8 851 L701.8 846.2 L702.8 849.2 L703.8 842.9 L704.8 843.5 L705.8 838.9 L706.8 841.1 L707.8 839.1 L708.8 835.5 L709.8 835.8 L710.8 833.3 L711.8 831 L712.8 830.3 L713.8 831.8 L714.8 830.2 L715.8 830.5 L716.8 827.5 L717.8 832 L718.8 831.7 L719.8 831.9 L720.8 829.5 L721.8 824.9 L722.8 826.4 L723.8 823.6 L724.8 821.6 L725.8 821.4 L726.8 826.8 L727.8 835.2 L728.8 840.6 L729.8 849.7 L730.8 854.2 L731.8 854.3 L732.8 855 L733.8 859.6 L734.8 861.9 L735.8 857.6 L736.8 858.8 L737.8 860.9 L738.8 857.4 L739.8 858.8 L740.8 856.6 L741.8 856.4 L742.8 859 L743.8 862.6 L744.8 860.1 L745.8 863.1 L746.8 862.6 L747.8 862.3 L748.8 858.8 L749.8 862.7 L750.8 861.2 L751.8 864.1 L752.8 864.3 L753.8 865.3 L754.8 864.9 L755.8 871.6 L756.8 868 L757.8 869.6 L758.8 873.1 L759.8 872.7 L760.8 877 L761.8 876.4 L762.8 877.1 L763.8 878 L764.8 876.6 L765.8 880.5 L766.8 880 L767.8 880 L768.8 875.5 L769.8 872.7 L770.8 872.4 L771.8 873.2 L772.8 865.3 L773.8 864.8 L774.8 862.5 L775.8 861.9 L776.8 865.8 L777.8 861.6 L778.8 860.6 L779.8 866.4 L780.8 871.6 L781.8 874.1 L782.8 875.7 L783.8 876.9 L784.8 877 L785.8 878.6 L786.8 875.8 L787.8 874.1 L788.8 869.5 L789.8 866.8 L790.8 867.8 L791.8 861.5 L792.8 863.5 L793.8 861.5 L794.8 864.6 L795.8 861.3 L796.8 862 L797.8 864.5 L798.8 865.4 L799.8 866.3 L800.8 868.7 L801.8 868.7 L802.8 874.7 L803.8 877.5 L804.8 877.7 L805.8 878.6 L806.8 883 L807.8 882.7 L808.8 882.1 L809.8 885.4 L810.8 881.5 L811.8 878 L812.8 883 L813.8 882.8 L814.8 883.5 L815.8 884.3 L816.8 885.3 L817.8 880.7 L818.8 880.3 L819.8 880.8 L820.8 880 L821.8 876.2 L822.8 874.3 L823.8 876.3 L824.8 877.6 L825.8 879.9 L826.8 879 L827.8 875.7 L828.8 876.6 L829.8 875.4 L830.8 874.8 L831.8 872 L832.8 866.9 L833.8 865.2 L834.8 864.2 L835.8 856.5 L836.8 852.2 L837.8 851.2 L838.8 847.3 L839.8 846.9 L840.8 844.5 L841.8 846.3 L842.8 849.2 L843.8 850.6 L844.8 852.1 L845.8 847.4 L846.8 844.9 L847.8 844.9 L848.8 845.8 L849.8 844.9 L850.8 841.9 L851.8 842.5 L852.8 843.2 L853.8 845.7 L854.8 851.8 L855.8 848.6 L856.8 848.2 L857.8 850.2 L858.8 852 L859.8 857.2 L860.8 853.5 L861.8 854.4 L862.8 854 L863.8 856.9 L864.8 862.2 L865.8 859.6 L866.8 863.9 L867.8 866.5 L868.8 861.9 L869.8 866.4 L870.8 864.2 L871.8 863.3 L872.8 861.7 L873.8 859.9 L874.8 861.3 L875.8 862.2 L876.8 862 L877.8 866.4 L878.8 865.6 L879.8 865.4 L880.8 860.9 L881.8 860.6 L882.8 857.8 L883.8 856.7 L884.8 854.4 L885.8 848.8 L886.8 849.5 L887.8 845.2 L888.8 847.6 L889.8 847 L890.8 849 L891.8 849.3 L892.8 847.4 L893.8 849.3 L894.8 845.8 L895.8 845 L896.8 851.6 L897.8 849.4 L898.8 854.8 L899.8 852.5 L900.8 852.2 L901.8 847.7 L902.8 844.4 L903.8 845.6 L904.8 845.1 L905.8 842.5 L906.8 846.7 L907.8 848.2 L908.8 849.2 L909.8 849.9 L910.8 852.6 L911.8 849 L912.8 851.4 L913.8 853.9 L914.8 851.1 L915.8 850.7 L916.8 845.3 L917.8 845.1 L918.8 847.7 L919.8 848.6 L920.8 847 L921.8 846.8 L922.8 846.5 L923.8 850.7 L924.8 849.3 L925.8 852.2 L926.8 851.9 L927.8 851.5 L928.8 855.8 L929.8 858.9 L930.8 857.9 L931.8 859.8 L932.8 860.3 L933.8 860.2 L934.8 861.6 L935.8 855 L936.8 855.2 L937.8 854.4 L938.8 852.2 L939.8 847.6 L940.8 846.4 L941.8 845.3 L942.8 840.8 L943.8 838.1 L944.8 836.1 L945.8 833.6 L946.8 834.1 L947.8 836.4 L948.8 834.2 L949.8 836.8 L950.8 831.7 L951.8 830 L952.8 830.2 L953.8 829.8 L954.8 831 L955.8 837 L956.8 838.3 L957.8 840.3 L958.8 838.3 L959.8 837.5 L960.8 834.2 L961.8 831.3 L962.8 829.1 L963.8 830.2 L964.8 830.6 L965.8 830.7 L966.8 830.5 L967.8 832.7 L968.8 832.5 L969.8 833.1 L970.8 834.6 L971.8 837.6 L972.8 837.8 L973.8 840.6 L974.8 837.4 L975.8 835.7 L976.8 836.8 L977.8 836.6 L978.8 837 L979.8 833.5 L980.8 832 L981.8 831 L982.8 832 L983.8 834.4 L984.8 835.9 L985.8 833.4 L986.8 834.3 L987.8 832.7 L988.8 832.4 L989.8 833.6 L990.8 832.2 L991.8 833.8 L992.8 837.5 L993.8 839.9 L994.8 841.5 L995.8 845.2 L996.8 847.1 L997.8 849.8 L998.8 852.3 L999.8 853.9 L1000.8 856.1 L1001.8 855 L1002.8 856.1 L1003.8 852.8 L1004.8 857.1 L1005.8 857.1 L1006.8 855.5 L1007.8 856.7 L1008.8 850.5 L1009.8 852.9 L1010.8 850 L1011.8 844.2 L1012.8 839.8 L1013.8 836.5 L1014.8 840.2 L1015.8 843.1 L1016.8 842 L1017.8 840 L1018.8 839.7 L1019.8 838 L1020.8 841.3 L1021.8 842.3 L1022.8 836.6 L1023.8 836.4 L1024.8 838.8 L1025.8 839.4 L1026.8 839.9 L1027.8 841 L1028.8 839.9 L1029.8 837.1 L1030.8 839.6 L1031.8 838.2 L1032.8 835 L1033.8 838.1 L1034.8 836.8 L1035.8 837.5 L1036.8 839.1 L1037.8 834 L1038.8 837.1 L1039.8 835.1 L1040.8 834.6 L1041.8 832.5 L1042.8 826.7 L1043.8 827.7 L1044.8 827.7 L1045.8 825.5 L1046.8 824.9 L1047.8 818.5 L1048.8 817.1 L1049.8 822 L1050.8 821.8 L1051.8 828.5 L1052.8 830.7 L1053.8 830 L1054.8 832.8 L1055.8 832.2 L1056.8 831.8 L1057.8 832.3 L1058.8 829 L1059.8 831.2 L1060.8 833.7 L1061.8 829.9 L1062.8 826.8 L1063.8 830.7 L1064.8 836.5 L1065.8 840.4 L1066.8 843.4 L1067.8 842.8 L1068.8 846.9 L1069.8 845.2 L1070.8 849 L1071.8 847 L1072.8 847.5 L1073.8 849.3 L1074.8 848.9 L1075.8 851.2 L1076.8 845.6 L1077.8 846.2 L1078.8 841.6 L1079.8 844.4 L1080.8 840.4 L1081.8 842.2 L1082.8 836.8 L1083.8 834.9 L1084.8 836.1 L1085.8 837.3 L1086.8 837.3 L1087.1 837.9" stroke="#f5a51b" stroke-width="3.8" fill="none" stroke-linejoin="round" stroke-linecap="round"/>
<path d="M651.8 839.5 L652.8 838.5 L653.8 838.4 L654.8 839.9 L655.8 840.8 L656.8 839.8 L657.8 840.7 L658.8 844.9 L659.8 847.2 L660.8 844.2 L661.8 846.1 L662.8 842.6 L663.8 844 L664.8 839.7 L665.8 841.7 L666.8 841 L667.8 843.1 L668.8 844.8 L669.8 845.3 L670.8 843.9 L671.8 845 L672.8 842 L673.8 838.9 L674.8 841.2 L675.8 840.5 L676.8 838.5 L677.8 837.4 L678.8 841.2 L679.8 837.4 L680.8 839.5 L681.8 837.9 L682.8 836.5 L683.8 835 L684.8 834.5 L685.8 836.7 L686.8 835.3 L687.8 835.4 L688.8 838.2 L689.8 839.8 L690.8 838.1 L691.8 842.9 L692.8 838.6 L693.8 840.9 L694.8 837.1 L695.8 837.5 L696.8 836.2 L697.8 840 L698.8 842 L699.8 842.9 L700.8 840.8 L701.8 841.4 L702.8 837.6 L703.8 840.4 L704.8 837.5 L705.8 840.9 L706.8 842.6 L707.8 841.1 L708.8 841.8 L709.8 842.7 L710.8 842.3 L711.8 839.6 L712.8 839.9 L713.8 835.8 L714.8 838 L715.8 839.5 L716.8 842.3 L717.8 843.3 L718.8 839.5 L719.8 843.9 L720.8 845.1 L721.8 842.9 L722.8 841 L723.8 844.8 L724.8 845.8 L725.8 844.9 L726.8 848.2 L727.8 847 L728.8 845 L729.8 841.9 L730.8 843.5 L731.8 844.3 L732.8 843.9 L733.8 843 L734.8 843.6 L735.8 842.5 L736.8 842.9 L737.8 843.7 L738.8 843.6 L739.8 842.8 L740.8 845.9 L741.8 844 L742.8 843.3 L743.8 843.1 L744.8 845.6 L745.8 847.4 L746.8 846.6 L747.8 844.6 L748.8 847.8 L749.8 850.1 L750.8 849.8 L751.8 852.9 L752.8 851.8 L753.8 851.9 L754.8 854.2 L755.8 850.3 L756.8 851.4 L757.8 852.9 L758.8 852.1 L759.8 853.5 L760.8 851 L761.8 853.7 L762.8 854.4 L763.8 854 L764.8 854.3 L765.8 858.1 L766.8 857.3 L767.8 859.6 L768.8 859 L769.8 859.8 L770.8 858.3 L771.8 859.1 L772.8 858.5 L773.8 862 L774.8 865.5 L775.8 861.3 L776.8 862.4 L777.8 859.4 L778.8 861 L779.8 859.3 L780.8 861.9 L781.8 864.2 L782.8 860.6 L783.8 864.6 L784.8 860.2 L785.8 858.3 L786.8 860.8 L787.8 857.7 L788.8 858 L789.8 853.4 L790.8 850.8 L791.8 850.9 L792.8 849.1 L793.8 850 L794.8 848.4 L795.8 850.2 L796.8 853.5 L797.8 851.5 L798.8 855.4 L799.8 857.8 L800.8 856.1 L801.8 854.1 L802.8 854.8 L803.8 855.5 L804.8 855.7 L805.8 851 L806.8 850.8 L807.8 848.2 L808.8 846.4 L809.8 846.1 L810.8 847.7 L811.8 848.8 L812.8 849.8 L813.8 849.1 L814.8 849.6 L815.8 852.7 L816.8 852.8 L817.8 850.7 L818.8 851 L819.8 850.3 L820.8 853 L821.8 852.3 L822.8 855.2 L823.8 854.7 L824.8 855.3 L825.8 857.6 L826.8 854.7 L827.8 857.4 L828.8 853.9 L829.8 852.3 L830.8 854.1 L831.8 853.4 L832.8 851.5 L833.8 850.9 L834.8 849.8 L835.8 849.1 L836.8 851.1 L837.8 852.9 L838.8 852.4 L839.8 854 L840.8 852.9 L841.8 853.1 L842.8 849.7 L843.8 850.5 L844.8 850.5 L845.8 847.3 L846.8 849.1 L847.8 849.1 L848.8 844.5 L849.8 840.9 L850.8 843.2 L851.8 844.2 L852.8 842.9 L853.8 845.3 L854.8 844.6 L855.8 841.3 L856.8 842.7 L857.8 839.2 L858.8 836.4 L859.8 834.7 L860.8 835.6 L861.8 837.1 L862.8 835.9 L863.8 835 L864.8 835.6 L865.8 829.9 L866.8 828 L867.8 830.7 L868.8 831.8 L869.8 832.2 L870.8 829.5 L871.8 831.2 L872.8 832.8 L873.8 830.4 L874.8 827.3 L875.8 826.3 L876.8 825.8 L877.8 828.5 L878.8 830.2 L879.8 834 L880.8 834.7 L881.8 836.2 L882.8 838 L883.8 835.9 L884.8 838.8 L885.8 834.9 L886.8 836.5 L887.8 833.3 L888.8 833.4 L889.8 832.2 L890.8 830.7 L891.8 832.8 L892.8 832.9 L893.8 831.3 L894.8 828.8 L895.8 826.4 L896.8 826 L897.8 827.7 L898.8 827.1 L899.8 825 L900.8 822.3 L901.8 824.2 L902.8 822.5 L903.8 823.9 L904.8 826.9 L905.8 827.1 L906.8 824.6 L907.8 829.1 L908.8 826.6 L909.8 831.4 L910.8 832.9 L911.8 834 L912.8 835.7 L913.8 834.9 L914.8 837.9 L915.8 837.4 L916.8 839.2 L917.8 841.3 L918.8 839.8 L919.8 838.1 L920.8 841.9 L921.8 841.1 L922.8 846.8 L923.8 845.6 L924.8 849.2 L925.8 851.7 L926.8 849.1 L927.8 849.4 L928.8 850.1 L929.8 850.1 L930.8 851.8 L931.8 855.5 L932.8 853.1 L933.8 852.1 L934.8 853.6 L935.8 851.4 L936.8 848.8 L937.8 846.2 L938.8 845.9 L939.8 843.9 L940.8 847.8 L941.8 846.8 L942.8 844.2 L943.8 843.8 L944.8 845.9 L945.8 845.7 L946.8 846.2 L947.8 847.4 L948.8 845.6 L949.8 848.6 L950.8 847.4 L951.8 847.3 L952.8 849.9 L953.8 851.1 L954.8 850.4 L955.8 849.5 L956.8 854.6 L957.8 851 L958.8 855.5 L959.8 852.7 L960.8 852.3 L961.8 854.2 L962.8 850.5 L963.8 853.3 L964.8 851 L965.8 853.4 L966.8 851.7 L967.8 853.4 L968.8 849.2 L969.8 848.5 L970.8 850.9 L971.8 847.8 L972.8 848.2 L973.8 844.9 L974.8 845.1 L975.8 844.8 L976.8 844 L977.8 842.8 L978.8 837 L979.8 837.6 L980.8 834.6 L981.8 836.4 L982.8 836.3 L983.8 838.8 L984.8 842 L985.8 838.9 L986.8 841.8 L987.8 838.7 L988.8 836.7 L989.8 838.9 L990.8 837.9 L991.8 841.8 L992.8 841.9 L993.8 840.6 L994.8 839.7 L995.8 843.9 L996.8 839.8 L997.8 839 L998.8 838.6 L999.8 841.9 L1000.8 838.1 L1001.8 837.7 L1002.8 837.5 L1003.8 837.2 L1004.8 838.4 L1005.8 841.2 L1006.8 841.1 L1007.8 840.1 L1008.8 840.9 L1009.8 845.9 L1010.8 843.5 L1011.8 843.4 L1012.8 843 L1013.8 845.1 L1014.8 843.7 L1015.8 839.4 L1016.8 841.3 L1017.8 840.5 L1018.8 839.7 L1019.8 837.7 L1020.8 839 L1021.8 838.7 L1022.8 834 L1023.8 836 L1024.8 834.3 L1025.8 835.7 L1026.8 834.3 L1027.8 834.4 L1028.8 833.5 L1029.8 834.1 L1030.8 838.4 L1031.8 835.5 L1032.8 835.6 L1033.8 840.1 L1034.8 835.6 L1035.8 838.4 L1036.8 837.5 L1037.8 835.5 L1038.8 836.6 L1039.8 838.2 L1040.8 836.6 L1041.8 838.6 L1042.8 840.3 L1043.8 839.7 L1044.8 839.5 L1045.8 840.6 L1046.8 842.1 L1047.8 838.8 L1048.8 838 L1049.8 839 L1050.8 835.9 L1051.8 838.8 L1052.8 839.6 L1053.8 838 L1054.8 837.7 L1055.8 833.1 L1056.8 834.7 L1057.8 831.8 L1058.8 830 L1059.8 831.8 L1060.8 828.9 L1061.8 828.5 L1062.8 832 L1063.8 832.3 L1064.8 833 L1065.8 833.1 L1066.8 832 L1067.8 834 L1068.8 836 L1069.8 834.9 L1070.8 834.1 L1071.8 835.2 L1072.8 837.1 L1073.8 833.8 L1074.8 834.3 L1075.8 832.1 L1076.8 832.1 L1077.8 834 L1078.8 834.7 L1079.8 834.7 L1080.8 833.9 L1081.8 835.7 L1082.8 838 L1083.8 837 L1084.8 839.3 L1085.8 840.8 L1086.8 842.5 L1087.1 842.7" stroke="#d9853b" stroke-width="3.8" fill="none" stroke-linejoin="round" stroke-linecap="round"/>
<path d="M651.8 842.2 L652.8 840 L653.8 836.9 L654.8 836.5 L655.8 835.3 L656.8 836.3 L657.8 838.9 L658.8 840.3 L659.8 840 L660.8 836 L661.8 835.5 L662.8 834.6 L663.8 835.5 L664.8 834.4 L665.8 836.3 L666.8 836.7 L667.8 837.7 L668.8 837.2 L669.8 836.1 L670.8 837.6 L671.8 835.3 L672.8 837.1 L673.8 838.7 L674.8 838.5 L675.8 840.1 L676.8 841.4 L677.8 840 L678.8 838.8 L679.8 836.1 L680.8 834.9 L681.8 838.6 L682.8 839.6 L683.8 843.7 L684.8 845.2 L685.8 846.7 L686.8 844.8 L687.8 846.6 L688.8 846.5 L689.8 848.1 L690.8 845.7 L691.8 842.8 L692.8 841.5 L693.8 839 L694.8 841.5 L695.8 839.5 L696.8 840.1 L697.8 840.6 L698.8 837.7 L699.8 836.3 L700.8 834.9 L701.8 834.1 L702.8 835.4 L703.8 833.2 L704.8 834.8 L705.8 833.1 L706.8 833.2 L707.8 831.7 L708.8 832.7 L709.8 829.6 L710.8 830.2 L711.8 827.7 L712.8 826.7 L713.8 827.5 L714.8 827.3 L715.8 824.7 L716.8 826.6 L717.8 825.7 L718.8 826.9 L719.8 827.7 L720.8 828.7 L721.8 829.4 L722.8 830.2 L723.8 830.6 L724.8 831.9 L725.8 831.9 L726.8 831 L727.8 829.6 L728.8 831.1 L729.8 830.3 L730.8 829.3 L731.8 829.3 L732.8 829.7 L733.8 826.7 L734.8 828.1 L735.8 828.4 L736.8 825.6 L737.8 824.9 L738.8 825.5 L739.8 826.8 L740.8 828.9 L741.8 829.5 L742.8 828.8 L743.8 828.2 L744.8 830 L745.8 826.6 L746.8 828.4 L747.8 828.4 L748.8 828.3 L749.8 827.9 L750.8 829.2 L751.8 831.7 L752.8 830 L753.8 832.8 L754.8 833.3 L755.8 832.1 L756.8 832.4 L757.8 833.9 L758.8 835.1 L759.8 835.4 L760.8 836.8 L761.8 834 L762.8 833.2 L763.8 835.1 L764.8 831.8 L765.8 833.4 L766.8 831.1 L767.8 831 L768.8 828.2 L769.8 827.8 L770.8 829 L771.8 828.3 L772.8 827.2 L773.8 828.3 L774.8 827 L775.8 825.4 L776.8 824.6 L777.8 824.4 L778.8 825.3 L779.8 825.6 L780.8 825.4 L781.8 822.9 L782.8 820.8 L783.8 821.9 L784.8 822.1 L785.8 820 L786.8 820.5 L787.8 822.6 L788.8 821.1 L789.8 822.7 L790.8 822.6 L791.8 822.9 L792.8 823.8 L793.8 822.2 L794.8 824.3 L795.8 824.6 L796.8 824.5 L797.8 821.8 L798.8 822.4 L799.8 821 L800.8 820.2 L801.8 821 L802.8 817.9 L803.8 819.2 L804.8 821.2 L805.8 819.9 L806.8 820.8 L807.8 821.1 L808.8 821.4 L809.8 823.1 L810.8 823.2 L811.8 825.1 L812.8 824.2 L813.8 826 L814.8 825.8 L815.8 827.3 L816.8 827.1 L817.8 824.1 L818.8 822.6 L819.8 821.1 L820.8 819.5 L821.8 821.7 L822.8 823.9 L823.8 823.6 L824.8 825.6 L825.8 828.5 L826.8 827.6 L827.8 829.5 L828.8 829.7 L829.8 830.5 L830.8 832.2 L831.8 833 L832.8 833.5 L833.8 833.8 L834.8 834.8 L835.8 832.2 L836.8 833.5 L837.8 832.3 L838.8 834.1 L839.8 835.1 L840.8 833.6 L841.8 834.2 L842.8 837.4 L843.8 839 L844.8 839.1 L845.8 839.7 L846.8 839.1 L847.8 840 L848.8 837.4 L849.8 830.1 L850.8 829.5 L851.8 828.8 L852.8 830.5 L853.8 830.9 L854.8 830.8 L855.8 830.8 L856.8 832.6 L857.8 832 L858.8 831.3 L859.8 834 L860.8 835.8 L861.8 835.1 L862.8 838.2 L863.8 840.7 L864.8 840.4 L865.8 840.7 L866.8 841.5 L867.8 842.7 L868.8 839.8 L869.8 841.3 L870.8 838.1 L871.8 837.4 L872.8 837.2 L873.8 840.4 L874.8 839.2 L875.8 841.1 L876.8 839.6 L877.8 840.7 L878.8 838.2 L879.8 839.3 L880.8 838.5 L881.8 838.7 L882.8 838.9 L883.8 840.8 L884.8 840.4 L885.8 841.6 L886.8 844.1 L887.8 845.8 L888.8 845.7 L889.8 846.8 L890.8 844 L891.8 843 L892.8 843.3 L893.8 841.7 L894.8 840.7 L895.8 838.8 L896.8 837.5 L897.8 837.6 L898.8 839.1 L899.8 839.7 L900.8 836.1 L901.8 836.3 L902.8 835.4 L903.8 835.7 L904.8 835.8 L905.8 836.6 L906.8 836.3 L907.8 833.6 L908.8 834.4 L909.8 834 L910.8 835 L911.8 836.9 L912.8 836.5 L913.8 835.9 L914.8 834.2 L915.8 832.3 L916.8 832.3 L917.8 833.4 L918.8 833 L919.8 831.3 L920.8 830 L921.8 830.7 L922.8 831.4 L923.8 831.6 L924.8 830.8 L925.8 831.7 L926.8 832.2 L927.8 830.8 L928.8 830.7 L929.8 831.8 L930.8 833 L931.8 832.6 L932.8 834.3 L933.8 834.6 L934.8 836.7 L935.8 836.8 L936.8 837.9 L937.8 837.4 L938.8 835.1 L939.8 832.6 L940.8 828.3 L941.8 825 L942.8 817.7 L943.8 816.8 L944.8 815.1 L945.8 813.4 L946.8 814.2 L947.8 812.7 L948.8 810.9 L949.8 809.3 L950.8 806.2 L951.8 808.3 L952.8 807 L953.8 805.5 L954.8 804.3 L955.8 804.3 L956.8 807 L957.8 806.4 L958.8 808.5 L959.8 808.1 L960.8 806.8 L961.8 805.4 L962.8 804.7 L963.8 807.2 L964.8 807.7 L965.8 806.5 L966.8 808.2 L967.8 808.7 L968.8 804.9 L969.8 804.4 L970.8 803.4 L971.8 802.7 L972.8 805.1 L973.8 805.4 L974.8 807.3 L975.8 807.1 L976.8 806.6 L977.8 807.6 L978.8 806.6 L979.8 806.5 L980.8 805.7 L981.8 805.8 L982.8 803.9 L983.8 804.6 L984.8 805.8 L985.8 808.3 L986.8 809.9 L987.8 811.6 L988.8 810.4 L989.8 812.6 L990.8 812.2 L991.8 813 L992.8 813.2 L993.8 814.7 L994.8 814.6 L995.8 813.8 L996.8 811.8 L997.8 813.2 L998.8 814.3 L999.8 815.5 L1000.8 813.6 L1001.8 812.8 L1002.8 811.3 L1003.8 812.7 L1004.8 811.2 L1005.8 810.5 L1006.8 813.7 L1007.8 812.7 L1008.8 816.1 L1009.8 816.9 L1010.8 817.8 L1011.8 814.3 L1012.8 816.3 L1013.8 816 L1014.8 818.2 L1015.8 818.3 L1016.8 821.5 L1017.8 822.3 L1018.8 822.5 L1019.8 821.2 L1020.8 820.6 L1021.8 819.7 L1022.8 820.1 L1023.8 821.8 L1024.8 818.8 L1025.8 819.1 L1026.8 819.4 L1027.8 817.9 L1028.8 820 L1029.8 818.3 L1030.8 818.8 L1031.8 818.1 L1032.8 820.2 L1033.8 818.7 L1034.8 819.8 L1035.8 820.7 L1036.8 818.4 L1037.8 816 L1038.8 815.8 L1039.8 813.9 L1040.8 813.9 L1041.8 812.5 L1042.8 814.6 L1043.8 814.1 L1044.8 814.6 L1045.8 814.1 L1046.8 817.7 L1047.8 819.1 L1048.8 820 L1049.8 822.8 L1050.8 822.7 L1051.8 822.9 L1052.8 823.6 L1053.8 826 L1054.8 826.8 L1055.8 826.2 L1056.8 827.1 L1057.8 826.9 L1058.8 825.5 L1059.8 825.1 L1060.8 822.6 L1061.8 822.1 L1062.8 821.2 L1063.8 822.6 L1064.8 821.5 L1065.8 821.5 L1066.8 819.9 L1067.8 820 L1068.8 816.5 L1069.8 817.3 L1070.8 818.1 L1071.8 818 L1072.8 820.6 L1073.8 821.9 L1074.8 823.2 L1075.8 821.2 L1076.8 822.9 L1077.8 823.4 L1078.8 821.8 L1079.8 821.7 L1080.8 820.2 L1081.8 818.1 L1082.8 817.4 L1083.8 817.3 L1084.8 819.2 L1085.8 820.5 L1086.8 820 L1087.1 821.1" stroke="#93a5cf" stroke-width="3.8" fill="none" stroke-linejoin="round" stroke-linecap="round"/>
<path d="M651.8 814.9 L652.8 817.6 L653.8 822.3 L654.8 823.5 L655.8 824.5 L656.8 827.5 L657.8 830.1 L658.8 830.4 L659.8 828.6 L660.8 828.4 L661.8 829.4 L662.8 827.8 L663.8 827.9 L664.8 827.9 L665.8 825.5 L666.8 823.8 L667.8 825.2 L668.8 824.8 L669.8 823.4 L670.8 824.1 L671.8 823.5 L672.8 826.3 L673.8 826.6 L674.8 826.1 L675.8 826.7 L676.8 830.6 L677.8 830.9 L678.8 830.8 L679.8 829.4 L680.8 828.4 L681.8 829.4 L682.8 827.8 L683.8 825.2 L684.8 826.9 L685.8 828.5 L686.8 829.1 L687.8 829.3 L688.8 832.4 L689.8 832 L690.8 833.1 L691.8 831.9 L692.8 833.7 L693.8 833.1 L694.8 835.6 L695.8 836.2 L696.8 834.1 L697.8 833.7 L698.8 833.4 L699.8 832.4 L700.8 832.4 L701.8 832.5 L702.8 833.9 L703.8 832.7 L704.8 831.5 L705.8 828.6 L706.8 827.6 L707.8 830.5 L708.8 828.8 L709.8 828.2 L710.8 825.4 L711.8 823.5 L712.8 824.6 L713.8 820.8 L714.8 819.1 L715.8 819.6 L716.8 818.9 L717.8 817.2 L718.8 815.2 L719.8 815.6 L720.8 818.4 L721.8 820.2 L722.8 819 L723.8 817.6 L724.8 815.6 L725.8 812.5 L726.8 804.2 L727.8 800.1 L728.8 796.2 L729.8 797.8 L730.8 797.6 L731.8 794 L732.8 794.5 L733.8 792.3 L734.8 791.5 L735.8 794.3 L736.8 794 L737.8 794.9 L738.8 797.2 L739.8 798.9 L740.8 801.2 L741.8 799.4 L742.8 796.8 L743.8 796.6 L744.8 798.7 L745.8 796.5 L746.8 798.1 L747.8 796.5 L748.8 800.6 L749.8 799.2 L750.8 799.7 L751.8 803.7 L752.8 803.8 L753.8 805.8 L754.8 806.4 L755.8 805.8 L756.8 809.6 L757.8 811.8 L758.8 810.2 L759.8 810.6 L760.8 813.3 L761.8 817.5 L762.8 819.7 L763.8 817.5 L764.8 818.7 L765.8 819.3 L766.8 821.4 L767.8 820.7 L768.8 824.1 L769.8 826.9 L770.8 824.5 L771.8 826.2 L772.8 827.6 L773.8 827.2 L774.8 827.2 L775.8 827.9 L776.8 829.7 L777.8 827 L778.8 827.5 L779.8 827.6 L780.8 824.9 L781.8 824.9 L782.8 825.3 L783.8 828.4 L784.8 829 L785.8 830 L786.8 832.1 L787.8 831 L788.8 833.1 L789.8 834.6 L790.8 833.8 L791.8 833.9 L792.8 833.7 L793.8 834.3 L794.8 835.4 L795.8 836.3 L796.8 838.2 L797.8 839.3 L798.8 840.6 L799.8 841.5 L800.8 840.9 L801.8 841.2 L802.8 838.9 L803.8 839.8 L804.8 838.7 L805.8 836.1 L806.8 834.5 L807.8 832.2 L808.8 833.9 L809.8 834.7 L810.8 835.1 L811.8 835.6 L812.8 835.5 L813.8 835.2 L814.8 837.7 L815.8 837.3 L816.8 839.9 L817.8 840.1 L818.8 840.3 L819.8 841.9 L820.8 842.7 L821.8 840.8 L822.8 840 L823.8 835.6 L824.8 835.6 L825.8 833.4 L826.8 834.3 L827.8 833.4 L828.8 836.2 L829.8 838.1 L830.8 836.7 L831.8 838.3 L832.8 841 L833.8 841.3 L834.8 843.2 L835.8 843.9 L836.8 841 L837.8 841.1 L838.8 840.3 L839.8 842.1 L840.8 840.6 L841.8 837.9 L842.8 838.5 L843.8 839 L844.8 837.9 L845.8 835.5 L846.8 837.5 L847.8 835.1 L848.8 835.6 L849.8 832.6 L850.8 832.4 L851.8 834.7 L852.8 834.2 L853.8 833.1 L854.8 832.7 L855.8 832.8 L856.8 831.3 L857.8 828.6 L858.8 827.5 L859.8 828.9 L860.8 829.2 L861.8 825.6 L862.8 824.2 L863.8 822.6 L864.8 822.1 L865.8 821.1 L866.8 819.3 L867.8 818.4 L868.8 817.8 L869.8 820.2 L870.8 819.2 L871.8 817.3 L872.8 817.5 L873.8 817.6 L874.8 817.7 L875.8 820.5 L876.8 820.9 L877.8 820.5 L878.8 820.3 L879.8 818.3 L880.8 820.3 L881.8 821.9 L882.8 820.5 L883.8 821.8 L884.8 823 L885.8 823.7 L886.8 823.7 L887.8 820.1 L888.8 819.6 L889.8 822 L890.8 822.8 L891.8 819.8 L892.8 820.3 L893.8 821 L894.8 819.1 L895.8 819.1 L896.8 821 L897.8 819.6 L898.8 818.1 L899.8 818.7 L900.8 817.9 L901.8 817.2 L902.8 814.9 L903.8 814.7 L904.8 813.3 L905.8 813.2 L906.8 811.8 L907.8 809.4 L908.8 807.6 L909.8 809.3 L910.8 809.7 L911.8 810.6 L912.8 808.7 L913.8 808.6 L914.8 809.8 L915.8 806.3 L916.8 797.8 L917.3 795.9 L919.5 957.6 L920.5 960.7 L921.5 962.6 L922.5 961.4 L923.5 961.1 L924.5 957.1 L925.5 958.3 L926.5 957.4 L927.5 958.9 L928.5 961.8 L929.5 965 L930.5 965.9 L931.5 967.6 L932.5 967.5 L933.5 964.6 L934.5 964.1 L935.5 963.5 L936.5 960.8 L937.5 956.4 L938.5 954.8 L939.5 952.9 L940.5 952.5 L941.5 950.6 L942.5 948.5 L943.5 948.6 L944.5 944.9 L945.5 944.8 L946.5 943.3 L947.5 940.2 L948.5 940.9 L949.5 941.8 L950.5 941.4 L951.5 939.6 L952.5 939.1 L953.5 940.9 L954.5 940.7 L955.5 945.7 L956.5 944.9 L957.5 946.8 L958.5 947.2 L959.5 946.8 L960.5 945.9 L961.5 943.7 L962.5 945.5 L963.5 942.8 L964.5 942 L965.5 939.7 L966.5 937.3 L967.5 934.6 L968.5 933.7 L969.5 932.9 L970.5 934.8 L971.5 931.6 L972.5 931.1 L973.5 933.8 L974.5 929.8 L975.5 929.5 L976.5 927.6 L977.5 928 L978.5 926.1 L979.5 924.3 L980.5 927.7 L981.5 925.9 L982.5 928.9 L983.5 927.5 L984.5 927.1 L985.5 927 L986.5 929.6 L987.5 930 L988.5 930.3 L989.5 933.3 L990.5 935.1 L991.5 936.1 L992.5 934.8 L993.5 932.5 L994.5 933.2 L995.5 933.1 L996.5 935.7 L997.5 937.7 L998.5 937.7 L999.5 937.1 L1000.5 935.7 L1001.5 938.9 L1002.5 942.2 L1003.5 946.8 L1004.5 953.4 L1005.5 958.5 L1006.5 957.9 L1007.5 958 L1008.5 959.2 L1009.5 959.2 L1010.5 955.3 L1011.5 952.1 L1012.5 953.3 L1013.5 957.3 L1014.5 956.8 L1015.5 954.2 L1016.5 953.8 L1017.5 949.9 L1018.5 948.4 L1019.5 950.9 L1020.5 952.8 L1021.5 950.4 L1022.5 952.4 L1023.5 951.7 L1024.5 950.4 L1025.5 950.2 L1026.5 950.8 L1027.5 951.4 L1028.5 951 L1029.5 952.3 L1030.5 953.4 L1031.5 955.5 L1032.5 955.4 L1033.5 958.7 L1034.5 956.2 L1035.5 954.4 L1036.5 950.7 L1037.5 951 L1038.5 949.4 L1039.5 950.6 L1040.5 949.1 L1041.5 949.8 L1042.5 950.9 L1043.5 949.9 L1044.5 951.9 L1045.5 953.2 L1045.5 954.4" stroke="#cf9290" stroke-width="3.3" fill="none" stroke-linejoin="round" stroke-linecap="round"/>
<text class="s" transform="translate(637.5 759.1) scale(0.87 1)" font-size="14.5" text-anchor="end">2000</text>
<text class="s" transform="translate(637.5 781.3) scale(0.87 1)" font-size="14.5" text-anchor="end">1500</text>
<text class="s" transform="translate(637.5 803.4) scale(0.87 1)" font-size="14.5" text-anchor="end">1000</text>
<text class="s" transform="translate(637.5 825.6) scale(0.87 1)" font-size="14.5" text-anchor="end">500</text>
<text class="s" transform="translate(637.5 847.8) scale(0.87 1)" font-size="14.5" text-anchor="end">0</text>
<text class="s" transform="translate(637.5 870) scale(0.87 1)" font-size="14.5" text-anchor="end">-500</text>
<text class="s" transform="translate(637.5 892.2) scale(0.87 1)" font-size="14.5" text-anchor="end">-1000</text>
<text class="s" transform="translate(637.5 914.3) scale(0.87 1)" font-size="14.5" text-anchor="end">-1500</text>
<text class="s" transform="translate(637.5 936.5) scale(0.87 1)" font-size="14.5" text-anchor="end">-2000</text>
<text class="s" transform="translate(637.5 958.7) scale(0.87 1)" font-size="14.5" text-anchor="end">-2500</text>
<text class="s" transform="translate(637.5 980.9) scale(0.87 1)" font-size="14.5" text-anchor="end">-3000</text>
<text class="s" transform="translate(637.5 1003.1) scale(0.87 1)" font-size="14.5" text-anchor="end">-3500</text>
<text class="d" transform="translate(656.7 894.8) rotate(-90) scale(1.11 1)" font-size="13" stroke="#000" stroke-width="0.3">01/04</text>
<text class="d" transform="translate(676.5 894.8) rotate(-90) scale(1.11 1)" font-size="13" stroke="#000" stroke-width="0.3">01/19</text>
<text class="d" transform="translate(696.3 894.8) rotate(-90) scale(1.11 1)" font-size="13" stroke="#000" stroke-width="0.3">02/10</text>
<text class="d" transform="translate(716.1 894.8) rotate(-90) scale(1.11 1)" font-size="13" stroke="#000" stroke-width="0.3">02/25</text>
<text class="d" transform="translate(736 894.8) rotate(-90) scale(1.11 1)" font-size="13" stroke="#000" stroke-width="0.3">03/14</text>
<text class="d" transform="translate(755.8 894.8) rotate(-90) scale(1.11 1)" font-size="13" stroke="#000" stroke-width="0.3">03/29</text>
<text class="d" transform="translate(775.6 894.8) rotate(-90) scale(1.11 1)" font-size="13" stroke="#000" stroke-width="0.3">04/14</text>
<text class="d" transform="translate(795.4 894.8) rotate(-90) scale(1.11 1)" font-size="13" stroke="#000" stroke-width="0.3">04/29</text>
<text class="d" transform="translate(815.2 894.8) rotate(-90) scale(1.11 1)" font-size="13" stroke="#000" stroke-width="0.3">05/19</text>
<text class="d" transform="translate(835 894.8) rotate(-90) scale(1.11 1)" font-size="13" stroke="#000" stroke-width="0.3">06/03</text>
<text class="d" transform="translate(854.8 894.8) rotate(-90) scale(1.11 1)" font-size="13" stroke="#000" stroke-width="0.3">06/21</text>
<text class="d" transform="translate(874.6 894.8) rotate(-90) scale(1.11 1)" font-size="13" stroke="#000" stroke-width="0.3">07/06</text>
<text class="d" transform="translate(894.5 894.8) rotate(-90) scale(1.11 1)" font-size="13" stroke="#000" stroke-width="0.3">07/21</text>
<text class="d" transform="translate(914.3 894.8) rotate(-90) scale(1.11 1)" font-size="13" stroke="#000" stroke-width="0.3">08/05</text>
<text class="d" transform="translate(934.1 894.8) rotate(-90) scale(1.11 1)" font-size="13" stroke="#000" stroke-width="0.3">08/20</text>
<text class="d" transform="translate(953.9 894.8) rotate(-90) scale(1.11 1)" font-size="13" stroke="#000" stroke-width="0.3">09/06</text>
<text class="d" transform="translate(973.7 894.8) rotate(-90) scale(1.11 1)" font-size="13" stroke="#000" stroke-width="0.3">09/23</text>
<text class="d" transform="translate(993.5 894.8) rotate(-90) scale(1.11 1)" font-size="13" stroke="#000" stroke-width="0.3">10/15</text>
<text class="d" transform="translate(1013.3 894.8) rotate(-90) scale(1.11 1)" font-size="13" stroke="#000" stroke-width="0.3">11/01</text>
<text class="d" transform="translate(1033.2 894.8) rotate(-90) scale(1.11 1)" font-size="13" stroke="#000" stroke-width="0.3">11/16</text>
<text class="d" transform="translate(1053 894.8) rotate(-90) scale(1.11 1)" font-size="13" stroke="#000" stroke-width="0.3">12/01</text>
<text class="d" transform="translate(1072.8 894.8) rotate(-90) scale(1.11 1)" font-size="13" stroke="#000" stroke-width="0.3">12/16</text>
<text class="d" transform="translate(1092.6 894.8) rotate(-90) scale(1.11 1)" font-size="13" stroke="#000" stroke-width="0.3">12/31</text>
<text class="f" font-weight="600" x="720.5" y="726" font-size="20.6" textLength="266" lengthAdjust="spacingAndGlyphs">进口菜籽压榨利润季节性分析</text>
<path d="M720.5 729 H987" stroke="#000" stroke-width="1.3"/>
<text class="s" transform="translate(624.5 723.5) scale(0.95 1)" font-size="13.5" font-weight="normal">元/吨</text>
<path d="M634 1016.5 H659" stroke="#2f8872" stroke-width="5" stroke-linecap="round"/>
<text class="s" transform="translate(664 1022.1) scale(0.83 1)" font-size="16">2018年</text>
<path d="M758.6 1016.5 H783.6" stroke="#1c3a57" stroke-width="5" stroke-linecap="round"/>
<text class="s" transform="translate(788.6 1022.1) scale(0.83 1)" font-size="16">2019年</text>
<path d="M883.2 1016.5 H908.2" stroke="#84a84f" stroke-width="5" stroke-linecap="round"/>
<text class="s" transform="translate(913.2 1022.1) scale(0.83 1)" font-size="16">2020年</text>
<path d="M1007.8 1016.5 H1032.8" stroke="#1cade4" stroke-width="5" stroke-linecap="round"/>
<text class="s" transform="translate(1037.8 1022.1) scale(0.83 1)" font-size="16">2021年</text>
<path d="M634 1043.5 H659" stroke="#f5a51b" stroke-width="5" stroke-linecap="round"/>
<text class="s" transform="translate(664 1049.1) scale(0.83 1)" font-size="16">2022年</text>
<path d="M758.6 1043.5 H783.6" stroke="#d9853b" stroke-width="5" stroke-linecap="round"/>
<text class="s" transform="translate(788.6 1049.1) scale(0.83 1)" font-size="16">2023年</text>
<path d="M883.2 1043.5 H908.2" stroke="#93a5cf" stroke-width="5" stroke-linecap="round"/>
<text class="s" transform="translate(913.2 1049.1) scale(0.83 1)" font-size="16">2024年</text>
<path d="M1007.8 1043.5 H1032.8" stroke="#cf9290" stroke-width="5" stroke-linecap="round"/>
<text class="s" transform="translate(1037.8 1049.1) scale(0.83 1)" font-size="16">2025年</text></g>
<g><path d="M143.4 1214.5 H571.4" stroke="#868686" stroke-width="1.0" fill="none"/>
<path d="M143.4 1253.5 H571.4" stroke="#868686" stroke-width="1.0" fill="none"/>
<path d="M143.4 1291.5 H571.4" stroke="#868686" stroke-width="1.0" fill="none"/>
<path d="M143.4 1329.5 H571.4" stroke="#868686" stroke-width="1.0" fill="none"/>
<path d="M143.4 1367.8 H571.4" stroke="#868686" stroke-width="1.8" fill="none"/>
<path d="M143.4 1406.5 H571.4" stroke="#868686" stroke-width="1.0" fill="none"/>
<path d="M143.4 1444.5 H571.4" stroke="#868686" stroke-width="1.0" fill="none"/>
<path d="M148.5 1214.8 V1449.2" stroke="#868686" stroke-width="1" fill="none"/>
<path d="M148.4 1444.2 v5.5M156.5 1444.2 v5.5M164.7 1444.2 v5.5M172.8 1444.2 v5.5M180.9 1444.2 v5.5M189.1 1444.2 v5.5M197.2 1444.2 v5.5M205.3 1444.2 v5.5M213.5 1444.2 v5.5M221.6 1444.2 v5.5M229.7 1444.2 v5.5M237.9 1444.2 v5.5M246 1444.2 v5.5M254.2 1444.2 v5.5M262.3 1444.2 v5.5M270.4 1444.2 v5.5M278.6 1444.2 v5.5M286.7 1444.2 v5.5M294.8 1444.2 v5.5M303 1444.2 v5.5M311.1 1444.2 v5.5M319.2 1444.2 v5.5M327.4 1444.2 v5.5M335.5 1444.2 v5.5M343.6 1444.2 v5.5M351.8 1444.2 v5.5M359.9 1444.2 v5.5M368 1444.2 v5.5M376.2 1444.2 v5.5M384.3 1444.2 v5.5M392.4 1444.2 v5.5M400.6 1444.2 v5.5M408.7 1444.2 v5.5M416.8 1444.2 v5.5M425 1444.2 v5.5M433.1 1444.2 v5.5M441.2 1444.2 v5.5M449.4 1444.2 v5.5M457.5 1444.2 v5.5M465.6 1444.2 v5.5M473.8 1444.2 v5.5M481.9 1444.2 v5.5M490.1 1444.2 v5.5M498.2 1444.2 v5.5M506.3 1444.2 v5.5M514.5 1444.2 v5.5M522.6 1444.2 v5.5M530.7 1444.2 v5.5M538.9 1444.2 v5.5M547 1444.2 v5.5M555.1 1444.2 v5.5M563.3 1444.2 v5.5M571.4 1444.2 v5.5" stroke="#868686" stroke-width="1" fill="none"/>
<defs><clipPath id="c5clip"><rect x="148.4" y="1200" width="428" height="244.7"/></clipPath></defs>
<g clip-path="url(#c5clip)">
<path d="M156.5 1444.2 L160.8 1242.1 L167.4 1250.8 L176.1 1259.6 L184.9 1274.9 L192.5 1274.9 L202.4 1286.9 L211.1 1289.1 L216.6 1289.1 L226.4 1297.8 L232.9 1293.4 L241.7 1289.1 L250.4 1290.2 L259.2 1290.2 L267.9 1291.3 L274.5 1295.6 L282.1 1296.3 L289.7 1290.6 L298.5 1294.5 L307.2 1291.3 L314.9 1290.6 L322.5 1285.8 L329.9 1276.6 L343.1 1277.5 L362.8 1277.5 L372.6 1281.4 L380.3 1279.2 L387.9 1272.3 L395.5 1270.9 L404.3 1279.2 L411.9 1297.8 L420.7 1275.3 L429.4 1283.6 L437.1 1295.6 L445.8 1296.7 L454.5 1301.1 L463.3 1304.4 L469.8 1302.2 L477.5 1306.6 L485.1 1308.7 L492.8 1298.9 L502.6 1317.5 L510.2 1313.1 L517.9 1322.9 L525.5 1331.7 L533.2 1343.7 L543 1348.1 L549.6 1364.5 L558.3 1374.3 L567.1 1374.7" stroke="#3aab94" stroke-width="4.6" fill="none" stroke-linejoin="round" stroke-linecap="round"/>
<path d="M156.5 1444.2 L159.7 1366.6 L163 1374.3 L169.6 1379.7 L178.3 1380.8 L198 1380.8 L211.1 1380.8 L225.3 1383 L232.9 1368.8 L241.7 1353.5 L250.4 1320.8 L258.1 1288 L265.7 1290.2 L273.4 1302.2 L282.1 1314.2 L289.7 1342.6 L299.6 1365.5 L307.2 1359.6 L314.9 1360.1 L322.5 1383 L329.9 1384.6 L343.1 1381.9 L355.1 1381.9 L362.8 1368.8 L371.5 1371 L380.3 1364.5 L387.9 1355.7 L395.5 1338.2 L404.3 1330.6 L420.7 1325.1 L429.4 1312 L437.1 1313.1 L445.8 1314.2 L454.5 1305.5 L461.1 1296.7 L469.8 1301.1 L477.5 1303.3 L485.1 1294.5 L493.9 1292.4 L502.6 1298.9 L510.2 1306.6 L517.9 1309.8 L525.5 1315.3 L533.2 1320.8 L543 1327.3 L550.7 1337.1 L558.3 1350.2 L567.1 1356.8" stroke="#1cade4" stroke-width="4.6" fill="none" stroke-linejoin="round" stroke-linecap="round"/>
<path d="M156.5 1444.2 L159.7 1362.3 L163 1368.8 L169.6 1377.6 L178.3 1383 L187.1 1385.2 L195.8 1385.2 L204.5 1381.9 L211.1 1376.5 L216.6 1372.1 L225.3 1375.4 L232.9 1378.7 L241.7 1390.7 L250.4 1395 L258.1 1402.7 L265.7 1403.8 L273.4 1414.7 L283.2 1419.1 L290.8 1415.8 L299.6 1406 L307.2 1402.7 L314.9 1399.4 L322.5 1397.2 L329.9 1395 L338.7 1395 L346.4 1384.1 L355.1 1377.6 L362.8 1373.2 L371.5 1373.2 L380.3 1368.8 L387.9 1364.5 L395.5 1361.2 L404.3 1364.5 L411.9 1366.6 L420.7 1365.5 L429.4 1368.8 L437.1 1374.3 L445.8 1374.3 L454.5 1374.3 L461.1 1372.1 L469.8 1371 L477.5 1360.1 L485.1 1365.5 L492.8 1371 L502.6 1375.4 L510.2 1378.7 L517.9 1380.8 L525.5 1382.4 L533.2 1384.1 L543 1386.3 L550.7 1388.5 L558.3 1389.6 L567.1 1390" stroke="#f5a51b" stroke-width="4.6" fill="none" stroke-linejoin="round" stroke-linecap="round"/>
<path d="M156.5 1444.2 L160.8 1389.6 L169.6 1390.7 L176.1 1391.8 L184.9 1389.6 L192.5 1389.6 L202.4 1383 L211.1 1383 L216.6 1385.2 L225.3 1389.6 L232.9 1392.9 L241.7 1397.2 L250.4 1393.9 L258.1 1393.9 L266.8 1393.9 L274.5 1388.5 L283.2 1386.3 L289.7 1379.7 L298.5 1373.2 L307.2 1374.3 L314.9 1372.1 L322.5 1364.5 L329.9 1344.8 L333.3 1341.5 L338.7 1338.2 L346.4 1362.3 L355.1 1363.4 L362.8 1363.4 L371.5 1368.8 L380.3 1374.3 L387.9 1381.9 L395.5 1385.2 L404.3 1389.6 L411.9 1398.3 L420.7 1403.8 L428.3 1398.3 L437.1 1401.6 L445.8 1407.1 L453.4 1401.6 L461.1 1402.7 L469.8 1401.6 L477.5 1395 L485.1 1400.5 L492.8 1409.2 L502.6 1410.3 L510.2 1411.4 L517.9 1412.5 L525.5 1418 L533.2 1421.3 L543 1420.8 L550.7 1422.3 L558.3 1424.5 L567.1 1423.4" stroke="#6e4f9e" stroke-width="4.6" fill="none" stroke-linejoin="round" stroke-linecap="round"/>
<path d="M156.5 1444.2 L160.8 1419.1 L167.4 1413.6 L176.1 1413.6 L184.9 1410.3 L192.5 1413.6 L202.4 1416.9 L211.1 1420.2 L216.6 1421.3 L225.3 1427.8 L232.9 1431.5 L241.7 1431.1 L250.4 1434.4 L258.1 1435.5 L265.7 1436.6 L274.5 1433.3 L283.2 1430 L290.8 1427.8 L299.6 1415.8 L307.2 1420.2 L314.9 1419.1 L322.5 1412.5 L329.9 1404.9 L338.7 1395 L346.4 1388.5 L355.1 1381.9 L362.8 1366.6 L371.5 1374.3 L380.3 1365.5 L387.9 1357.9 L395.5 1344.8 L404.3 1344.4 L411.9 1367.7 L420.7 1349.2 L429.4 1352.4 L437.1 1352.4 L445.8 1354.6 L453.4 1359 L461.1 1355.3 L469.8 1357.5 L477.5 1355.3 L485.1 1363.4 L492.8 1362.7 L502.6 1367.7 L510.2 1369.9 L517.9 1370.6 L525.5 1368.4 L533.2 1363.4 L543 1357.9 L550.7 1356.1 L558.3 1357.5 L567.1 1359.6" stroke="#3d94a8" stroke-width="4.6" fill="none" stroke-linejoin="round" stroke-linecap="round"/>
<path d="M156.5 1444.2 L159.7 1355.7 L167.4 1360.1 L176.1 1362.3 L184.9 1367.7 L192.5 1373.2 L202.4 1376.5 L211.1 1374.3 L216.6 1373.2 L225.3 1375.4 L232.9 1374.3 L241.7 1379.7 L250.4 1383 L258.1 1385.2 L265.7 1383 L274.5 1381.5 L283.2 1383 L290.8 1381.9 L299.6 1377.6 L307.2 1375.4 L314.9 1374.3 L322.5 1367.7 L329.9 1364.5 L338.7 1363.4 L346.4 1362.3 L355.1 1356.8 L362.8 1349.2 L371.5 1343.7 L380.3 1337.1 L387.9 1336 L395.5 1324 L404.3 1322.9 L411.9 1321.8 L420.7 1320.8 L429.4 1322.9 L437.1 1321.8 L445.8 1320.8 L453.4 1315.3 L461.1 1312 L469.8 1315.3 L477.5 1317.5 L485.1 1315.3 L492.8 1312 L502.6 1313.1 L510.2 1315.3 L517.9 1318.6 L525.5 1322.9 L533.2 1325.1 L543 1336 L550.7 1341.5 L558.3 1342.2 L567.1 1343" stroke="#d9853b" stroke-width="4.6" fill="none" stroke-linejoin="round" stroke-linecap="round"/>
<path d="M156.5 1444.2 L160.8 1350.2 L167.4 1357.9 L176.1 1356.8 L184.9 1356.8 L192.5 1356.8 L202.4 1357.9 L211.1 1355.7 L216.6 1353.5 L225.3 1357.9 L232.9 1361.2 L241.7 1363.4 L250.4 1367.7 L258.1 1377.6 L265.7 1388.5 L274.5 1397.2 L283.2 1404.9 L290.8 1401.6 L299.6 1400.5 L307.2 1403.8 L314.9 1392.9 L322.5 1385.2 L329.9 1375.4 L338.7 1371 L346.4 1367.7 L355.1 1357.9 L362.8 1347 L371.5 1342.6 L380.3 1330.6 L387.9 1326.2 L395.5 1319.7 L404.3 1315.3 L411.9 1301.1 L420.7 1294.5 L429.4 1290.2 L437.1 1289.7 L445.8 1284.7 L453.4 1285.4 L461.1 1285.8 L469.8 1283.6 L477.5 1286.2 L485.1 1289.1 L492.8 1283.6 L502.6 1292.4 L510.2 1302.2 L517.9 1303.3 L525.5 1298.9 L534.3 1296.7" stroke="#93a5cf" stroke-width="4.6" fill="none" stroke-linejoin="round" stroke-linecap="round"/>
</g>
<text class="s" transform="translate(134.5 1220.4) scale(0.72 1)" font-size="17.5" text-anchor="end">160</text>
<text class="s" transform="translate(134.5 1258.6) scale(0.72 1)" font-size="17.5" text-anchor="end">140</text>
<text class="s" transform="translate(134.5 1296.9) scale(0.72 1)" font-size="17.5" text-anchor="end">120</text>
<text class="s" transform="translate(134.5 1335.1) scale(0.72 1)" font-size="17.5" text-anchor="end">100</text>
<text class="s" transform="translate(134.5 1373.4) scale(0.72 1)" font-size="17.5" text-anchor="end">80</text>
<text class="s" transform="translate(134.5 1411.6) scale(0.72 1)" font-size="17.5" text-anchor="end">60</text>
<text class="s" transform="translate(134.5 1449.8) scale(0.72 1)" font-size="17.5" text-anchor="end">40</text>
<text class="s" transform="translate(158.4 1490.5) rotate(-90) scale(1.32 1)" font-size="12.5">日期</text>
<text class="d" transform="translate(182.4 1501.2) rotate(-90) scale(1.22 1)" font-size="12.5" stroke="#000" stroke-width="0.2">01/18</text>
<text class="d" transform="translate(206.8 1501.2) rotate(-90) scale(1.22 1)" font-size="12.5" stroke="#000" stroke-width="0.2">02/08</text>
<text class="d" transform="translate(231.2 1501.2) rotate(-90) scale(1.22 1)" font-size="12.5" stroke="#000" stroke-width="0.2">03/01</text>
<text class="d" transform="translate(255.6 1501.2) rotate(-90) scale(1.22 1)" font-size="12.5" stroke="#000" stroke-width="0.2">03/22</text>
<text class="d" transform="translate(280 1501.2) rotate(-90) scale(1.22 1)" font-size="12.5" stroke="#000" stroke-width="0.2">04/13</text>
<text class="d" transform="translate(304.4 1501.2) rotate(-90) scale(1.22 1)" font-size="12.5" stroke="#000" stroke-width="0.2">05/11</text>
<text class="d" transform="translate(328.8 1501.2) rotate(-90) scale(1.22 1)" font-size="12.5" stroke="#000" stroke-width="0.2">06/01</text>
<text class="d" transform="translate(353.2 1501.2) rotate(-90) scale(1.22 1)" font-size="12.5" stroke="#000" stroke-width="0.2">06/22</text>
<text class="d" transform="translate(377.6 1501.2) rotate(-90) scale(1.22 1)" font-size="12.5" stroke="#000" stroke-width="0.2">07/13</text>
<text class="d" transform="translate(402 1501.2) rotate(-90) scale(1.22 1)" font-size="12.5" stroke="#000" stroke-width="0.2">08/03</text>
<text class="d" transform="translate(426.4 1501.2) rotate(-90) scale(1.22 1)" font-size="12.5" stroke="#000" stroke-width="0.2">08/24</text>
<text class="d" transform="translate(450.8 1501.2) rotate(-90) scale(1.22 1)" font-size="12.5" stroke="#000" stroke-width="0.2">09/14</text>
<text class="d" transform="translate(475.2 1501.2) rotate(-90) scale(1.22 1)" font-size="12.5" stroke="#000" stroke-width="0.2">10/05</text>
<text class="d" transform="translate(499.6 1501.2) rotate(-90) scale(1.22 1)" font-size="12.5" stroke="#000" stroke-width="0.2">10/26</text>
<text class="d" transform="translate(524 1501.2) rotate(-90) scale(1.22 1)" font-size="12.5" stroke="#000" stroke-width="0.2">11/16</text>
<text class="d" transform="translate(548.4 1501.2) rotate(-90) scale(1.22 1)" font-size="12.5" stroke="#000" stroke-width="0.2">12/07</text>
<text class="d" transform="translate(572.8 1501.2) rotate(-90) scale(1.22 1)" font-size="12.5" stroke="#000" stroke-width="0.2">12/28</text>
<text class="f" font-weight="600" x="228.5" y="1202.5" font-size="22" textLength="221.5" lengthAdjust="spacingAndGlyphs">豆油港口库存季节性分析</text>
<path d="M228.5 1206.3 H450" stroke="#000" stroke-width="1.3"/>
<text class="s" transform="translate(106 1194.5) scale(0.92 1)" font-size="13" font-weight="bold">万吨</text>
<path d="M100.5 1531.8 H128" stroke="#3aab94" stroke-width="4.4" stroke-linecap="round"/>
<text class="s" transform="translate(131.5 1538.3) scale(0.73 1)" font-size="18">2019</text>
<path d="M170.7 1531.8 H198.2" stroke="#1cade4" stroke-width="4.4" stroke-linecap="round"/>
<text class="s" transform="translate(201.7 1538.3) scale(0.73 1)" font-size="18">2020</text>
<path d="M240.9 1531.8 H268.4" stroke="#f5a51b" stroke-width="4.4" stroke-linecap="round"/>
<text class="s" transform="translate(271.9 1538.3) scale(0.73 1)" font-size="18">2021</text>
<path d="M311.1 1531.8 H338.6" stroke="#6e4f9e" stroke-width="4.4" stroke-linecap="round"/>
<text class="s" transform="translate(342.1 1538.3) scale(0.73 1)" font-size="18">2022</text>
<path d="M381.3 1531.8 H408.8" stroke="#3d94a8" stroke-width="4.4" stroke-linecap="round"/>
<text class="s" transform="translate(412.3 1538.3) scale(0.73 1)" font-size="18">2023</text>
<path d="M451.5 1531.8 H479" stroke="#d9853b" stroke-width="4.4" stroke-linecap="round"/>
<text class="s" transform="translate(482.5 1538.3) scale(0.73 1)" font-size="18">2024</text>
<path d="M521.7 1531.8 H549.2" stroke="#93a5cf" stroke-width="4.4" stroke-linecap="round"/>
<text class="s" transform="translate(552.7 1538.3) scale(0.73 1)" font-size="18">2025</text></g>
<g><path d="M643.6 1215.5 H1086.6" stroke="#868686" stroke-width="1.0" fill="none"/>
<path d="M643.6 1238.5 H1086.6" stroke="#868686" stroke-width="1.0" fill="none"/>
<path d="M643.6 1260.5 H1086.6" stroke="#868686" stroke-width="1.0" fill="none"/>
<path d="M643.6 1283.5 H1086.6" stroke="#868686" stroke-width="1.8" fill="none"/>
<path d="M643.6 1306.5 H1086.6" stroke="#868686" stroke-width="1.0" fill="none"/>
<path d="M643.6 1328.5 H1086.6" stroke="#868686" stroke-width="1.0" fill="none"/>
<path d="M643.6 1351.7 H1086.6" stroke="#868686" stroke-width="1.8" fill="none"/>
<path d="M643.6 1374.5 H1086.6" stroke="#868686" stroke-width="1.0" fill="none"/>
<path d="M643.6 1397.5 H1086.6" stroke="#868686" stroke-width="1.0" fill="none"/>
<path d="M643.6 1419.5 H1086.6" stroke="#868686" stroke-width="1.0" fill="none"/>
<path d="M643.6 1442.5 H1086.6" stroke="#868686" stroke-width="1.0" fill="none"/>
<path d="M647.5 1215.4 V1448.5" stroke="#868686" stroke-width="1" fill="none"/>
<path d="M647.6 1442.5 v6M656.2 1442.5 v6M664.8 1442.5 v6M673.4 1442.5 v6M682 1442.5 v6M690.6 1442.5 v6M699.2 1442.5 v6M707.9 1442.5 v6M716.5 1442.5 v6M725.1 1442.5 v6M733.7 1442.5 v6M742.3 1442.5 v6M750.9 1442.5 v6M759.5 1442.5 v6M768.1 1442.5 v6M776.7 1442.5 v6M785.3 1442.5 v6M793.9 1442.5 v6M802.5 1442.5 v6M811.1 1442.5 v6M819.8 1442.5 v6M828.4 1442.5 v6M837 1442.5 v6M845.6 1442.5 v6M854.2 1442.5 v6M862.8 1442.5 v6M871.4 1442.5 v6M880 1442.5 v6M888.6 1442.5 v6M897.2 1442.5 v6M905.8 1442.5 v6M914.4 1442.5 v6M923.1 1442.5 v6M931.7 1442.5 v6M940.3 1442.5 v6M948.9 1442.5 v6M957.5 1442.5 v6M966.1 1442.5 v6M974.7 1442.5 v6M983.3 1442.5 v6M991.9 1442.5 v6M1000.5 1442.5 v6M1009.1 1442.5 v6M1017.7 1442.5 v6M1026.3 1442.5 v6M1035 1442.5 v6M1043.6 1442.5 v6M1052.2 1442.5 v6M1060.8 1442.5 v6M1069.4 1442.5 v6M1078 1442.5 v6M1086.6 1442.5 v6" stroke="#868686" stroke-width="1" fill="none"/>
<path d="M651.8 1393.9 L655.7 1386.3 L660.1 1373.2 L665.5 1372.1 L672.1 1372.1 L678.7 1372.1 L686.3 1367.7 L690.7 1322.9 L695.5 1292.4 L699.4 1318.6 L703.8 1351.3 L713.6 1351.3 L721.3 1315.3 L728.9 1313.1 L737.6 1310.9 L746.4 1314.2 L755.1 1310.9 L763.9 1318.1 L772.6 1318.1 L781.3 1318.1 L790.1 1318.1 L798.8 1313.1 L807.6 1312 L815.2 1302.2 L823.9 1316.4 L832.7 1319.7 L841.4 1320.8 L849.9 1331.7 L858.7 1332.1 L867 1336 L875.1 1326.2 L885 1340.4 L893.7 1337.1 L901.3 1344.8 L910.1 1346.5 L918.8 1347 L927.6 1347 L936.3 1348.1 L945 1355.7 L953.8 1358.3 L962.5 1356.1 L970.2 1356.8 L978.9 1362.3 L987.6 1362.3 L996.4 1359 L1005.1 1357.5 L1013.9 1356.1 L1022.6 1362.3 L1029.2 1351.3 L1037.9 1342.6 L1047.7 1328.4 L1056.5 1327.3 L1065.2 1324.7 L1073.9 1320.8 L1082.7 1320.3" stroke="#3f6fb0" stroke-width="4.4" fill="none" stroke-linejoin="round" stroke-linecap="round"/>
<path d="M651.8 1309.2 L661.2 1308.7 L669.9 1291.3 L678.7 1296.3 L687.4 1295.6 L696.1 1288 L703.8 1272.3 L712.5 1273.1 L721.3 1278.1 L728.9 1280.3 L737.6 1280.3 L746.4 1297.8 L755.1 1336 L763.9 1348.1 L772.6 1350.2 L781.3 1351.3 L790.1 1363.4 L798.8 1365.5 L807.6 1380.8 L815.2 1381.9 L823.9 1381.9 L832.7 1391.8 L841.4 1395 L849.9 1402.7 L858.7 1395 L867 1393.9 L875.1 1393.9 L885 1403.3 L893.7 1403.3 L901.3 1405.5 L910.1 1418 L918.8 1406 L927.6 1406 L936.3 1408.1 L945 1406.4 L953.8 1410.3 L962.5 1407.7 L970.2 1413.6 L978.9 1418.6 L987.6 1418.6 L996.4 1408.1 L1005.1 1390.2 L1013.9 1397.7 L1022.6 1392.9 L1030.2 1401.6 L1039 1399.4 L1047.7 1390.7 L1056.5 1378 L1065.2 1377.6 L1073.9 1356.8 L1082.7 1356.1" stroke="#f5a51b" stroke-width="4.4" fill="none" stroke-linejoin="round" stroke-linecap="round"/>
<path d="M651.8 1355.7 L661.2 1355.3 L669.9 1347 L678.7 1348.1 L687.4 1347 L696.1 1350.9 L703.8 1345.9 L712.5 1345.9 L721.3 1334.3 L728.9 1334.3 L737.6 1349.2 L746.4 1359.6 L755.1 1375.4 L763.9 1387.4 L772.6 1388 L781.3 1383.7 L790.1 1392.9 L798.8 1398.3 L807.6 1396.1 L815.2 1390.7 L823.9 1385.2 L832.7 1399.4 L841.4 1402.7 L849.9 1403.3 L858.7 1410.3 L867 1415.8 L875.1 1416.4 L885 1416.4 L893.7 1413.6 L901.3 1404.2 L910.1 1407.7 L918.8 1413.6 L927.6 1395 L936.3 1391.1 L945 1386.7 L953.8 1387.4 L962.5 1399.4 L970.2 1396.1 L978.9 1395 L987.6 1395 L994.2 1366.2 L1002.9 1369.3 L1013.9 1386.3 L1022.6 1369.9 L1030.2 1377.6 L1039 1378.7 L1047.7 1366.6 L1056.5 1361.8 L1065.2 1366.6 L1073.9 1354.6 L1082.7 1340" stroke="#3aab94" stroke-width="4.4" fill="none" stroke-linejoin="round" stroke-linecap="round"/>
<path d="M651.8 1347.4 L660.1 1362.3 L669.9 1369.9 L678.7 1385.2 L687.4 1386.3 L696.1 1390.7 L703.8 1393.9 L712.5 1396.1 L721.3 1399.4 L728.9 1403.8 L737.6 1412.1 L746.4 1410.3 L755.1 1407.1 L763.9 1404.9 L772.6 1407.1 L781.3 1408.1 L790.1 1414.7 L798.8 1415.8 L807.6 1420.2 L815.2 1421.3 L823.9 1425.6 L832.7 1437.6 L841.4 1436.6 L849.9 1442 L858.7 1440.5 L867 1438.7 L875.1 1430 L883.9 1415.8 L893.7 1427.8 L901.3 1436.1 L910.1 1426.7 L918.8 1425.6 L926.5 1423.9 L936.3 1403.3 L945 1401.6 L952.7 1403.8 L961.4 1392.9 L970.2 1367.7 L978.9 1361.8 L987.6 1357.9 L996.4 1344.8 L1005.1 1322.9 L1013.9 1318.6 L1022.6 1301.1 L1030.2 1299.3 L1039 1279.2 L1047.7 1274.9 L1056.5 1268.3 L1065.2 1254.1 L1073.9 1250.8 L1082.7 1246.5" stroke="#1c3a57" stroke-width="4.4" fill="none" stroke-linejoin="round" stroke-linecap="round"/>
<path d="M651.8 1254.1 L660.1 1267.2 L669.9 1269.4 L678.7 1265 L687.4 1261.8 L696.1 1258.5 L703.8 1262.9 L712.5 1264.4 L721.3 1259.6 L728.9 1254.1 L737.6 1251.9 L746.4 1251.9 L755.1 1261.8 L763.9 1268.3 L772.6 1276 L781.3 1286.9 L790.1 1294.5 L798.8 1306.6 L807.6 1320.8 L815.2 1338.2 L823.9 1349.2 L832.7 1356.8 L841.4 1362.3 L849.9 1367.7 L858.7 1374.3 L867 1373.2 L875.1 1375.8 L885 1360.1 L893.7 1322.9 L901.3 1332.8 L910.1 1342.6 L918.8 1343.7 L927.6 1330.6 L936.3 1336.5 L945 1331.2 L953.8 1325.6 L962.5 1319.7 L970.2 1307.6 L978.9 1303.3 L987.6 1280.3 L996.4 1281.9 L1005.1 1274.9 L1013.9 1262.9 L1022.6 1247.6 L1030.2 1243.2 L1039 1245.4 L1048.8 1256.3 L1056.5 1256.3 L1065.2 1251.3 L1073.9 1254.1 L1082.7 1258.5" stroke="#3d94a8" stroke-width="4.4" fill="none" stroke-linejoin="round" stroke-linecap="round"/>
<path d="M651.8 1261.8 L660.1 1268.3 L669.9 1277.1 L678.7 1291.3 L687.4 1307.6 L696.1 1320.8 L703.8 1312 L712.5 1315.3 L721.3 1322.9 L728.9 1331.7 L737.6 1338.2 L746.4 1343.7 L755.1 1344.4 L763.9 1353.5 L772.6 1350.2 L781.3 1360.1 L790.1 1363.4 L798.8 1374.3 L807.6 1383 L815.2 1386.3 L823.9 1389.6 L832.7 1389.6 L841.4 1393.9 L849.9 1390.7 L858.7 1387.4 L867 1381.9 L875.1 1373.2 L885 1361.2 L893.7 1360.1 L901.3 1343.7 L910.1 1348.1 L918.8 1349.6 L927.6 1350.2 L936.3 1351.3 L945 1350.2 L953.8 1360.1 L962.5 1368.8 L970.2 1373.6 L978.9 1364.5 L987.6 1364 L996.4 1366.6 L1005.1 1374.3 L1013.9 1373.2 L1022.6 1361.2 L1030.2 1366.6 L1039 1372.1 L1048.8 1380.8 L1056.5 1377.6 L1065.2 1369.3 L1073.9 1365.5 L1082.7 1368.4" stroke="#d9853b" stroke-width="4.4" fill="none" stroke-linejoin="round" stroke-linecap="round"/>
<path d="M651.8 1376.5 L660.1 1374.3 L669.9 1376.5 L678.7 1379.7 L687.4 1383 L696.1 1383 L703.8 1386.3 L712.5 1388.5 L721.3 1396.1 L728.9 1397.7 L737.6 1398.3 L746.4 1403.8 L755.1 1404.9 L763.9 1405.5 L772.6 1408.1 L781.3 1406 L790.1 1409.2 L798.8 1412.5 L807.6 1413.6 L815.2 1411.4 L823.9 1412.5 L832.7 1406 L841.4 1399.4 L849.9 1393.9 L858.7 1386.3 L867 1364.5 L875.1 1368.4 L885 1362.3 L893.7 1360.1 L901.3 1355.7 L910.1 1361.2 L918.8 1359 L927.6 1366.6 L936.3 1350.9 L945 1340.9 L953.8 1337.1 L962.5 1340.4 L970.2 1348.7 L978.9 1355.7 L987.6 1352.4 L996.4 1346.5 L1005.1 1342.6 L1013.9 1345.9 L1022.6 1343.7 L1030.2 1332.1 L1039 1327.7 L1047.7 1324.7" stroke="#93a5cf" stroke-width="4.4" fill="none" stroke-linejoin="round" stroke-linecap="round"/>
<text class="s" transform="translate(635 1220.8) scale(0.74 1)" font-size="17" text-anchor="end">120</text>
<text class="s" transform="translate(635 1243.5) scale(0.74 1)" font-size="17" text-anchor="end">110</text>
<text class="s" transform="translate(635 1266.2) scale(0.74 1)" font-size="17" text-anchor="end">100</text>
<text class="s" transform="translate(635 1288.9) scale(0.74 1)" font-size="17" text-anchor="end">90</text>
<text class="s" transform="translate(635 1311.6) scale(0.74 1)" font-size="17" text-anchor="end">80</text>
<text class="s" transform="translate(635 1334.4) scale(0.74 1)" font-size="17" text-anchor="end">70</text>
<text class="s" transform="translate(635 1357.1) scale(0.74 1)" font-size="17" text-anchor="end">60</text>
<text class="s" transform="translate(635 1379.8) scale(0.74 1)" font-size="17" text-anchor="end">50</text>
<text class="s" transform="translate(635 1402.5) scale(0.74 1)" font-size="17" text-anchor="end">40</text>
<text class="s" transform="translate(635 1425.2) scale(0.74 1)" font-size="17" text-anchor="end">30</text>
<text class="s" transform="translate(635 1447.9) scale(0.74 1)" font-size="17" text-anchor="end">20</text>
<g transform="translate(657 1468.5) rotate(-48)"><text class="s" font-size="16" text-anchor="end">01/04</text></g>
<g transform="translate(682.7 1468.5) rotate(-48)"><text class="s" font-size="16" text-anchor="end">01/25</text></g>
<g transform="translate(708.5 1468.5) rotate(-48)"><text class="s" font-size="16" text-anchor="end">02/15</text></g>
<g transform="translate(734.2 1468.5) rotate(-48)"><text class="s" font-size="16" text-anchor="end">03/08</text></g>
<g transform="translate(759.9 1468.5) rotate(-48)"><text class="s" font-size="16" text-anchor="end">03/29</text></g>
<g transform="translate(785.6 1468.5) rotate(-48)"><text class="s" font-size="16" text-anchor="end">04/20</text></g>
<g transform="translate(811.4 1468.5) rotate(-48)"><text class="s" font-size="16" text-anchor="end">05/18</text></g>
<g transform="translate(837.1 1468.5) rotate(-48)"><text class="s" font-size="16" text-anchor="end">06/08</text></g>
<g transform="translate(862.8 1468.5) rotate(-48)"><text class="s" font-size="16" text-anchor="end">06/29</text></g>
<g transform="translate(888.6 1468.5) rotate(-48)"><text class="s" font-size="16" text-anchor="end">07/20</text></g>
<g transform="translate(914.3 1468.5) rotate(-48)"><text class="s" font-size="16" text-anchor="end">08/10</text></g>
<g transform="translate(940 1468.5) rotate(-48)"><text class="s" font-size="16" text-anchor="end">08/31</text></g>
<g transform="translate(965.8 1468.5) rotate(-48)"><text class="s" font-size="16" text-anchor="end">09/21</text></g>
<g transform="translate(991.5 1468.5) rotate(-48)"><text class="s" font-size="16" text-anchor="end">10/12</text></g>
<g transform="translate(1017.2 1468.5) rotate(-48)"><text class="s" font-size="16" text-anchor="end">11/02</text></g>
<g transform="translate(1043 1468.5) rotate(-48)"><text class="s" font-size="16" text-anchor="end">11/23</text></g>
<g transform="translate(1068.7 1468.5) rotate(-48)"><text class="s" font-size="16" text-anchor="end">12/14</text></g>
<text class="f" font-weight="600" x="728.5" y="1201" font-size="22" textLength="245" lengthAdjust="spacingAndGlyphs">棕榈油港口库存季节性分析</text>
<path d="M728.5 1204.8 H974" stroke="#000" stroke-width="1.3"/>
<text class="s" transform="translate(612 1200.5) scale(0.92 1)" font-size="13" font-weight="bold">万吨</text>
<path d="M637.5 1511.7 H664.5" stroke="#3f6fb0" stroke-width="5" stroke-linecap="round"/>
<text class="s" transform="translate(668.3 1517.3) scale(0.83 1)" font-size="16">2019年</text>
<path d="M759.5 1511.7 H786.5" stroke="#f5a51b" stroke-width="5" stroke-linecap="round"/>
<text class="s" transform="translate(790.3 1517.3) scale(0.83 1)" font-size="16">2020年</text>
<path d="M881.5 1511.7 H908.5" stroke="#3aab94" stroke-width="5" stroke-linecap="round"/>
<text class="s" transform="translate(912.3 1517.3) scale(0.83 1)" font-size="16">2021年</text>
<path d="M1003.5 1511.7 H1030.5" stroke="#1c3a57" stroke-width="5" stroke-linecap="round"/>
<text class="s" transform="translate(1034.3 1517.3) scale(0.83 1)" font-size="16">2022年</text>
<path d="M637.5 1534.5 H664.5" stroke="#3d94a8" stroke-width="5" stroke-linecap="round"/>
<text class="s" transform="translate(668.3 1540.1) scale(0.83 1)" font-size="16">2023年</text>
<path d="M759.5 1534.5 H786.5" stroke="#d9853b" stroke-width="5" stroke-linecap="round"/>
<text class="s" transform="translate(790.3 1540.1) scale(0.83 1)" font-size="16">2024年</text>
<path d="M881.5 1534.5 H908.5" stroke="#93a5cf" stroke-width="5" stroke-linecap="round"/>
<text class="s" transform="translate(912.3 1540.1) scale(0.83 1)" font-size="16">2025年</text></g>
</svg>
</div></body></html>
